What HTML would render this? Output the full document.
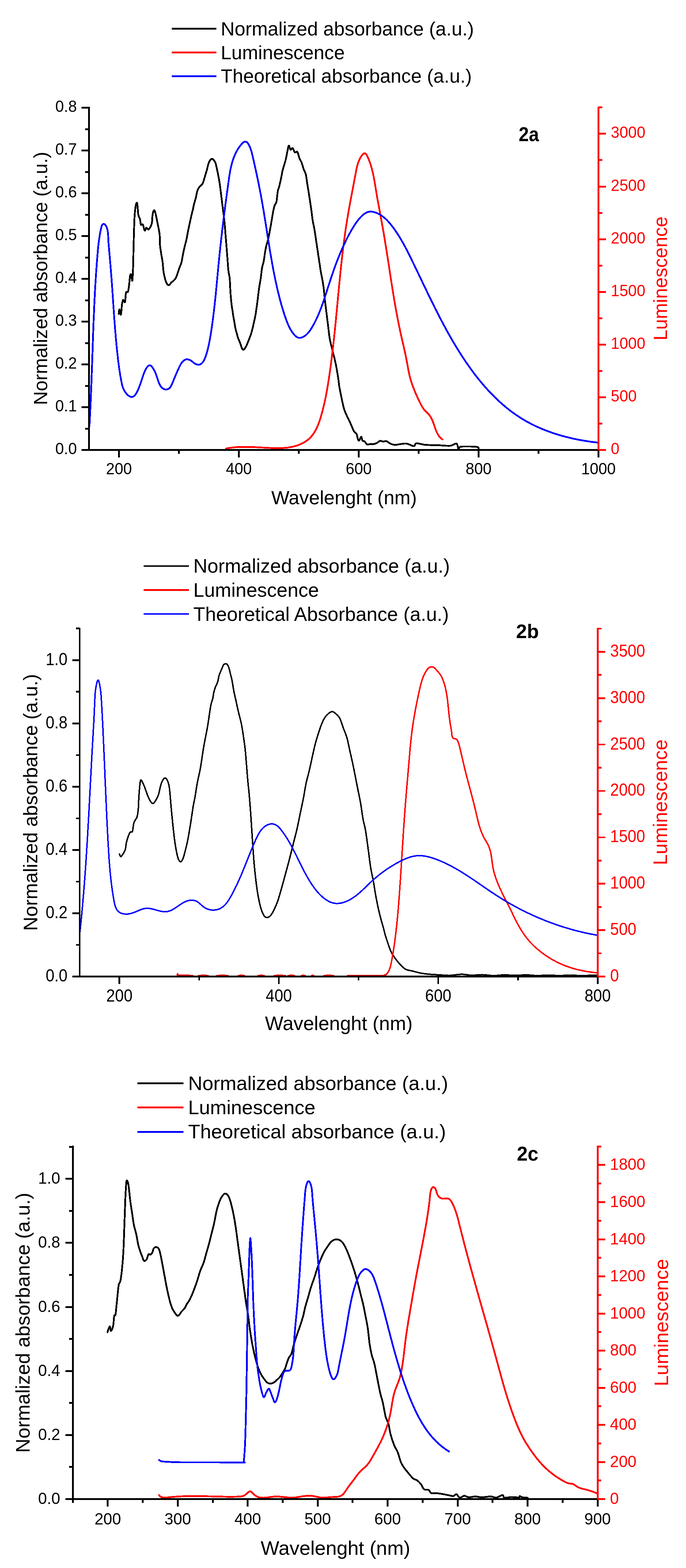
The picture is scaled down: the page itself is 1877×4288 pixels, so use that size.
<!DOCTYPE html>
<html><head><meta charset="utf-8"><title>Figure 2</title>
<style>html,body{margin:0;padding:0;background:#fff;width:1877px;height:4288px;overflow:hidden;}svg{display:block;}</style>
</head><body>
<svg width="1877" height="4288" viewBox="0 0 1877 4288" shape-rendering="crispEdges"><rect width="1877" height="4288" fill="#fff"/><path d="M324.7,858.5 C325.1,856.5 325.8,846.1 326.8,846.4 C327.8,846.7 329.6,862.9 330.8,860.5 C332.0,858.1 332.8,838.9 333.8,832.2 C334.8,825.5 335.5,821.1 336.9,820.1 C338.2,819.1 340.6,829.6 341.9,826.2 C343.2,822.8 343.5,804.6 344.9,799.9 C346.2,795.2 348.6,800.9 350.0,797.9 C351.4,794.9 352.0,789.2 353.0,781.8 C354.0,774.4 355.0,758.5 356.0,753.5 C357.0,748.5 358.0,749.1 359.0,751.5 C360.0,753.9 361.2,771.0 362.1,767.6 C363.0,764.2 363.6,744.1 364.1,731.3 C364.6,718.5 364.8,704.3 365.1,690.9 C365.4,677.5 365.8,661.1 366.1,650.6 C366.4,640.1 366.6,635.6 366.8,627.8 C367.1,620.0 367.3,611.1 367.6,603.8 C367.9,596.5 368.4,589.2 368.8,583.9 C369.2,578.6 369.5,575.9 370.0,571.9 C370.5,567.9 371.2,562.9 371.9,560.0 C372.6,557.1 373.6,554.4 374.3,554.4 C375.0,554.4 375.4,556.8 375.9,560.0 C376.4,563.2 376.7,569.1 377.1,573.5 C377.5,577.9 377.8,583.0 378.3,586.3 C378.8,589.6 379.6,591.5 380.3,593.5 C381.0,595.5 382.0,595.9 382.7,598.3 C383.4,600.7 383.8,605.0 384.3,607.8 C384.8,610.6 385.1,614.1 385.9,615.0 C386.7,615.9 388.2,613.4 389.1,613.4 C390.0,613.4 390.8,613.3 391.5,615.0 C392.2,616.7 392.8,621.3 393.5,623.8 C394.2,626.3 395.2,629.4 395.9,630.2 C396.6,631.0 397.2,629.8 397.9,628.6 C398.6,627.4 399.1,623.7 399.9,623.0 C400.7,622.3 401.7,623.8 402.7,624.6 C403.7,625.4 404.8,627.8 405.9,627.8 C407.0,627.8 408.1,626.1 409.1,624.6 C410.2,623.1 411.3,620.9 412.2,619.0 C413.1,617.1 413.9,615.7 414.6,613.4 C415.3,611.1 415.8,609.0 416.2,605.4 C416.6,601.8 416.6,595.9 417.0,591.9 C417.4,587.9 417.9,584.3 418.6,581.5 C419.3,578.7 420.5,575.8 421.4,575.1 C422.3,574.4 423.1,575.9 423.8,577.5 C424.5,579.1 425.2,582.3 425.8,584.7 C426.4,587.1 426.7,588.7 427.4,591.9 C428.1,595.1 429.0,599.8 429.8,603.8 C430.6,607.8 431.4,611.8 432.2,615.8 C433.0,619.8 433.8,623.1 434.6,627.8 C435.4,632.5 436.4,636.6 437.0,643.8 C437.6,650.9 437.3,663.0 437.9,670.7 C438.5,678.4 439.4,682.8 440.5,690.2 C441.6,697.7 443.5,706.5 444.7,715.4 C445.9,724.2 446.3,735.4 447.5,743.3 C448.7,751.2 450.1,757.3 451.7,762.9 C453.3,768.5 455.4,774.1 457.3,776.9 C459.2,779.7 461.0,780.4 462.9,779.7 C464.8,779.0 466.4,774.8 468.5,772.7 C470.6,770.6 473.4,769.2 475.5,767.1 C477.6,765.0 479.5,763.1 481.1,760.1 C482.7,757.1 483.7,753.5 485.3,748.9 C486.9,744.2 489.0,737.3 490.9,732.2 C492.8,727.1 494.8,724.3 496.4,718.2 C498.0,712.1 499.2,702.8 500.6,695.8 C502.0,688.8 503.2,683.3 504.8,676.3 C506.4,669.3 508.8,661.4 510.4,653.9 C512.0,646.4 513.2,638.5 514.6,631.5 C516.0,624.5 517.4,618.5 518.8,612.0 C520.2,605.5 521.6,598.5 523.0,592.4 C524.4,586.3 525.8,581.6 527.2,575.6 C528.6,569.6 530.0,561.7 531.4,556.1 C532.8,550.5 534.2,547.7 535.6,542.1 C537.0,536.5 538.2,527.6 539.8,522.5 C541.4,517.4 543.1,514.6 545.4,511.4 C547.7,508.1 551.7,506.3 553.8,503.0 C555.9,499.7 556.6,496.0 558.0,491.8 C559.4,487.6 560.7,482.5 562.1,477.8 C563.5,473.1 564.9,468.9 566.3,463.8 C567.7,458.7 569.0,451.4 570.5,447.1 C572.0,442.8 573.4,440.1 575.0,438.0 C576.6,435.9 578.5,434.4 580.3,434.5 C582.0,434.6 583.9,436.4 585.5,438.5 C587.1,440.6 588.4,441.5 590.1,447.1 C591.8,452.7 593.8,462.9 595.7,472.2 C597.6,481.5 599.7,492.3 601.3,503.0 C602.9,513.7 604.1,525.3 605.5,536.5 C606.9,547.7 608.3,558.8 609.7,570.0 C611.1,581.2 612.7,592.4 613.9,603.6 C615.1,614.8 615.8,625.9 616.7,637.1 C617.6,648.3 618.6,659.1 619.5,670.7 C620.4,682.4 621.4,695.4 622.3,707.0 C623.2,718.6 624.0,731.7 625.0,740.5 C626.0,749.3 627.6,752.7 628.4,760.0 C629.2,767.3 629.2,776.2 629.7,784.4 C630.2,792.5 630.6,800.8 631.3,808.9 C632.0,817.0 632.9,826.5 633.7,833.3 C634.5,840.1 635.4,844.1 636.2,849.6 C637.0,855.1 637.7,860.6 638.6,866.0 C639.5,871.4 640.5,876.8 641.5,882.2 C642.5,887.6 643.3,893.7 644.3,898.5 C645.3,903.3 646.5,906.7 647.6,910.8 C648.7,914.9 649.7,919.3 650.9,923.0 C652.1,926.7 653.5,929.4 654.9,932.8 C656.2,936.2 657.8,940.0 659.0,943.4 C660.2,946.8 661.1,951.0 662.3,953.2 C663.4,955.4 664.7,956.4 665.9,956.4 C667.1,956.4 668.3,954.8 669.6,953.2 C670.9,951.6 672.5,948.9 673.7,946.6 C674.9,944.3 675.9,942.1 677.0,939.3 C678.1,936.5 679.4,933.2 680.6,930.0 C681.9,926.8 683.3,923.3 684.5,920.0 C685.7,916.7 686.3,915.9 687.8,910.4 C689.3,904.9 691.7,895.6 693.6,887.1 C695.5,878.6 697.6,869.3 699.4,859.2 C701.1,849.1 702.5,838.1 704.1,826.5 C705.7,814.9 707.2,800.2 708.7,789.3 C710.2,778.4 712.0,770.6 713.4,761.3 C714.8,752.0 715.5,741.2 716.9,733.4 C718.2,725.6 720.1,721.7 721.5,714.7 C722.9,707.7 723.8,698.5 725.0,691.5 C726.2,684.5 727.1,678.6 728.5,672.8 C729.9,667.0 731.6,663.1 733.2,656.5 C734.8,649.9 736.4,641.4 737.9,633.2 C739.4,625.1 741.0,616.5 742.5,607.6 C744.0,598.7 745.7,587.4 747.2,579.6 C748.8,571.8 750.2,565.6 751.8,561.0 C753.3,556.4 755.1,557.9 756.5,551.7 C757.9,545.5 758.6,531.1 760.0,523.7 C761.4,516.3 763.1,513.6 764.6,507.4 C766.1,501.2 767.9,493.1 769.3,486.5 C770.7,479.9 771.4,473.6 772.8,467.8 C774.2,462.0 776.0,456.9 777.5,451.5 C779.0,446.1 780.6,441.8 782.1,435.2 C783.6,428.6 785.4,418.1 786.8,411.9 C788.2,405.7 788.9,398.4 790.3,398.0 C791.7,397.6 793.2,408.5 795.0,409.6 C796.8,410.8 798.9,403.7 800.8,404.9 C802.7,406.1 804.5,414.9 806.6,416.6 C808.7,418.4 811.5,412.7 813.6,415.4 C815.7,418.1 817.5,428.0 819.4,432.9 C821.3,437.8 823.2,439.4 825.2,444.5 C827.2,449.6 829.2,457.8 831.1,463.2 C833.0,468.6 835.4,471.0 836.9,477.2 C838.4,483.4 839.0,491.9 840.4,500.4 C841.8,508.9 843.6,519.8 845.0,528.4 C846.4,537.0 847.3,543.9 848.5,551.7 C849.7,559.5 850.8,566.5 852.0,575.0 C853.2,583.5 854.1,594.4 855.5,602.9 C856.9,611.4 858.8,618.4 860.2,626.2 C861.6,634.0 862.5,641.7 863.7,649.5 C864.9,657.3 866.0,665.0 867.2,672.8 C868.4,680.6 869.5,688.3 870.7,696.1 C871.9,703.9 873.0,711.6 874.2,719.4 C875.4,727.2 876.4,734.9 877.7,742.7 C879.1,750.5 880.9,758.2 882.3,766.0 C883.6,773.8 884.7,780.3 885.8,789.3 C886.9,798.3 887.6,809.0 888.9,820.0 C890.1,831.0 891.8,843.7 893.3,855.5 C894.8,867.3 896.2,879.1 897.7,890.9 C899.2,902.7 900.4,916.0 902.2,926.4 C904.0,936.8 906.6,945.6 908.4,953.0 C910.2,960.4 911.3,964.8 912.8,970.7 C914.3,976.6 915.7,981.6 917.2,988.4 C918.7,995.2 920.4,1004.1 921.7,1011.5 C923.0,1018.9 924.0,1024.8 925.2,1032.8 C926.4,1040.8 927.3,1050.5 928.8,1059.4 C930.3,1068.3 932.3,1077.4 934.1,1086.0 C935.9,1094.6 937.8,1104.3 939.4,1110.8 C941.0,1117.3 942.0,1120.3 943.8,1125.0 C945.6,1129.7 947.9,1134.7 950.0,1139.1 C952.1,1143.5 954.1,1147.1 956.2,1151.6 C958.3,1156.0 960.3,1161.1 962.4,1165.8 C964.5,1170.5 966.5,1176.4 968.7,1179.9 C970.9,1183.4 973.9,1183.5 975.7,1187.0 C977.5,1190.5 978.1,1198.2 979.3,1201.2 C980.5,1204.2 981.3,1206.0 982.8,1204.8 C984.3,1203.6 986.7,1194.1 988.2,1194.1 C989.7,1194.1 990.1,1202.6 991.7,1204.8 C993.3,1207.0 995.8,1205.6 997.9,1207.4 C1000.0,1209.2 1001.6,1214.2 1004.1,1215.4 C1006.6,1216.6 1010.0,1214.7 1013.0,1214.5 C1016.0,1214.3 1018.8,1215.0 1021.8,1214.5 C1024.8,1214.0 1027.7,1213.3 1030.7,1211.8 C1033.7,1210.3 1036.6,1206.4 1039.6,1205.7 C1042.5,1205.0 1045.5,1207.3 1048.4,1207.4 C1051.4,1207.5 1054.6,1205.9 1057.3,1206.5 C1060.0,1207.1 1062.0,1209.7 1064.4,1211.0 C1066.8,1212.3 1068.5,1213.6 1071.5,1214.5 C1074.5,1215.4 1076.0,1216.8 1082.6,1216.5 C1089.2,1216.2 1102.6,1212.4 1110.9,1213.0 C1119.2,1213.6 1127.5,1220.2 1132.2,1220.1 C1136.9,1220.0 1134.0,1212.9 1139.3,1212.3 C1144.6,1211.7 1154.0,1215.6 1164.1,1216.5 C1174.1,1217.4 1188.4,1217.2 1199.6,1217.6 C1210.8,1218.0 1223.2,1219.8 1231.5,1219.0 C1239.8,1218.2 1245.4,1211.3 1249.2,1213.0 C1253.0,1214.7 1252.7,1227.4 1254.5,1228.9 C1256.3,1230.4 1254.3,1223.1 1259.9,1221.8 C1265.5,1220.5 1280.2,1220.9 1288.2,1221.1 C1296.2,1221.3 1304.2,1221.4 1307.7,1222.9 C1311.2,1224.4 1309.2,1228.8 1309.5,1230.0" fill="none" stroke="#000" stroke-width="4.8" stroke-linejoin="round" stroke-linecap="round"/>
<path d="M618.6,1226.6 L621.1,1226.1 L623.6,1225.7 L626.0,1225.2 L628.5,1224.9 L631.0,1224.5 L633.5,1224.2 L636.0,1223.9 L638.4,1223.6 L640.9,1223.3 L643.4,1223.1 L645.9,1222.9 L648.4,1222.7 L650.9,1222.6 L653.3,1222.4 L655.8,1222.3 L658.3,1222.2 L660.8,1222.2 L663.3,1222.1 L665.8,1222.1 L668.2,1222.1 L670.7,1222.1 L673.2,1222.1 L675.7,1222.1 L678.2,1222.1 L680.7,1222.2 L683.2,1222.3 L685.7,1222.3 L688.2,1222.4 L690.7,1222.5 L693.1,1222.6 L695.6,1222.7 L698.1,1222.9 L700.6,1223.0 L703.1,1223.1 L705.6,1223.3 L708.1,1223.4 L710.6,1223.5 L713.1,1223.7 L715.6,1223.8 L718.1,1224.0 L720.6,1224.1 L723.1,1224.3 L725.6,1224.4 L728.1,1224.5 L730.6,1224.7 L733.2,1224.8 L735.7,1224.9 L738.2,1225.0 L740.7,1225.1 L743.2,1225.2 L745.7,1225.3 L748.2,1225.4 L750.8,1225.5 L753.3,1225.5 L755.8,1225.5 L758.3,1225.6 L760.8,1225.6 L763.3,1225.5 L765.9,1225.5 L768.4,1225.4 L770.9,1225.3 L773.4,1225.2 L775.9,1225.1 L778.4,1224.9 L780.9,1224.7 L783.4,1224.5 L785.9,1224.2 L788.4,1223.9 L790.8,1223.5 L793.3,1223.1 L795.8,1222.7 L798.3,1222.2 L800.7,1221.7 L803.2,1221.1 L805.6,1220.5 L808.0,1219.8 L810.4,1219.1 L812.9,1218.3 L815.3,1217.5 L817.6,1216.6 L820.0,1215.7 L822.3,1214.7 L824.6,1213.6 L826.9,1212.5 L829.1,1211.4 L831.3,1210.2 L833.5,1208.9 L835.6,1207.6 L837.7,1206.2 L839.7,1204.8 L841.6,1203.3 L843.5,1201.8 L845.4,1200.2 L847.2,1198.5 L848.9,1196.8 L850.6,1195.1 L852.2,1193.2 L853.7,1191.4 L855.2,1189.5 L856.7,1187.5 L858.1,1185.5 L859.4,1183.5 L860.7,1181.4 L862.0,1179.3 L863.2,1177.1 L864.4,1175.0 L865.5,1172.7 L866.6,1170.5 L867.7,1168.2 L868.7,1165.9 L869.7,1163.6 L870.6,1161.3 L871.5,1158.9 L872.4,1156.5 L873.3,1154.1 L874.1,1151.7 L874.9,1149.3 L875.7,1146.8 L876.5,1144.4 L877.3,1142.0 L878.0,1139.5 L878.7,1137.0 L879.4,1134.6 L880.1,1132.1 L880.8,1129.7 L881.5,1127.2 L882.1,1124.8 L882.8,1122.3 L883.4,1119.9 L884.0,1117.4 L884.6,1115.0 L885.2,1112.5 L885.8,1110.0 L886.4,1107.6 L887.0,1105.1 L887.5,1102.7 L888.1,1100.2 L888.6,1097.8 L889.1,1095.3 L889.7,1092.9 L890.2,1090.4 L890.7,1088.0 L891.2,1085.5 L891.7,1083.1 L892.1,1080.6 L892.6,1078.2 L893.1,1075.7 L893.5,1073.3 L894.0,1070.8 L894.4,1068.3 L894.9,1065.9 L895.3,1063.4 L895.7,1061.0 L896.1,1058.5 L896.5,1056.1 L896.9,1053.6 L897.4,1051.2 L897.8,1048.7 L898.1,1046.2 L898.5,1043.8 L898.9,1041.3 L899.3,1038.8 L899.7,1036.4 L900.1,1033.9 L900.4,1031.5 L900.8,1029.0 L901.2,1026.5 L901.5,1024.1 L901.9,1021.6 L902.3,1019.1 L902.6,1016.7 L903.0,1014.2 L903.3,1011.7 L903.6,1009.2 L904.0,1006.8 L904.3,1004.3 L904.7,1001.8 L905.0,999.3 L905.3,996.9 L905.7,994.4 L906.0,991.9 L906.3,989.4 L906.6,987.0 L906.9,984.5 L907.3,982.0 L907.6,979.5 L907.9,977.0 L908.2,974.6 L908.5,972.1 L908.8,969.6 L909.1,967.1 L909.4,964.6 L909.7,962.2 L910.0,959.7 L910.3,957.2 L910.6,954.7 L910.9,952.2 L911.1,949.7 L911.4,947.2 L911.7,944.8 L912.0,942.3 L912.3,939.8 L912.5,937.3 L912.8,934.8 L913.1,932.3 L913.4,929.8 L913.6,927.3 L913.9,924.8 L914.2,922.3 L914.4,919.9 L914.7,917.4 L914.9,914.9 L915.2,912.4 L915.5,909.9 L915.7,907.4 L916.0,904.9 L916.2,902.4 L916.5,899.9 L916.7,897.4 L917.0,894.9 L917.2,892.4 L917.5,889.9 L917.7,887.4 L918.0,884.9 L918.2,882.4 L918.5,879.9 L918.7,877.4 L919.0,874.9 L919.2,872.4 L919.5,870.0 L919.7,867.5 L919.9,865.0 L920.2,862.5 L920.4,860.0 L920.7,857.5 L920.9,855.0 L921.1,852.5 L921.4,850.0 L921.6,847.5 L921.8,845.0 L922.1,842.5 L922.3,840.0 L922.5,837.5 L922.8,835.0 L923.0,832.5 L923.3,830.0 L923.5,827.5 L923.7,825.0 L924.0,822.5 L924.2,820.0 L924.4,817.5 L924.7,815.0 L924.9,812.5 L925.1,810.0 L925.4,807.5 L925.6,805.0 L925.9,802.5 L926.1,800.0 L926.3,797.5 L926.6,795.0 L926.8,792.5 L927.0,790.0 L927.3,787.5 L927.5,785.0 L927.8,782.5 L928.0,780.0 L928.3,777.5 L928.5,775.0 L928.7,772.5 L929.0,770.0 L929.2,767.5 L929.5,765.0 L929.7,762.5 L930.0,760.0 L930.2,757.5 L930.5,755.0 L930.7,752.5 L931.0,750.0 L931.2,747.5 L931.5,745.0 L931.8,742.5 L932.0,740.0 L932.3,737.5 L932.5,735.0 L932.8,732.5 L933.1,730.0 L933.3,727.5 L933.6,725.1 L933.9,722.6 L934.1,720.1 L934.4,717.6 L934.7,715.1 L935.0,712.6 L935.2,710.1 L935.5,707.6 L935.8,705.1 L936.1,702.6 L936.4,700.1 L936.6,697.6 L936.9,695.2 L937.2,692.7 L937.5,690.2 L937.8,687.7 L938.1,685.2 L938.4,682.7 L938.7,680.2 L939.0,677.8 L939.3,675.3 L939.6,672.8 L940.0,670.3 L940.3,667.8 L940.6,665.3 L940.9,662.9 L941.2,660.4 L941.6,657.9 L941.9,655.4 L942.2,652.9 L942.5,650.4 L942.9,648.0 L943.2,645.5 L943.6,643.0 L943.9,640.5 L944.3,638.1 L944.6,635.6 L945.0,633.1 L945.3,630.6 L945.7,628.2 L946.0,625.7 L946.4,623.2 L946.8,620.8 L947.1,618.3 L947.5,615.8 L947.9,613.3 L948.3,610.9 L948.7,608.4 L949.1,605.9 L949.5,603.5 L949.8,601.0 L950.2,598.5 L950.7,596.1 L951.1,593.6 L951.5,591.2 L951.9,588.7 L952.3,586.2 L952.7,583.8 L953.2,581.3 L953.6,578.9 L954.0,576.4 L954.4,573.9 L954.9,571.5 L955.3,569.0 L955.8,566.6 L956.2,564.1 L956.7,561.7 L957.1,559.2 L957.6,556.7 L958.0,554.3 L958.5,551.8 L958.9,549.4 L959.4,546.9 L959.8,544.5 L960.3,542.0 L960.8,539.5 L961.2,537.1 L961.7,534.6 L962.2,532.2 L962.6,529.7 L963.1,527.2 L963.6,524.8 L964.0,522.3 L964.5,519.8 L965.0,517.4 L965.4,514.9 L965.9,512.4 L966.4,509.9 L966.9,507.5 L967.3,505.0 L967.8,502.5 L968.3,500.0 L968.7,497.6 L969.2,495.1 L969.7,492.6 L970.1,490.1 L970.6,487.6 L971.1,485.1 L971.5,482.6 L972.0,480.1 L972.5,477.7 L972.9,475.2 L973.4,472.7 L973.9,470.2 L974.3,467.7 L974.8,465.2 L975.3,462.7 L975.9,460.2 L976.4,457.8 L977.0,455.3 L977.7,452.9 L978.3,450.5 L979.0,448.1 L979.8,445.7 L980.6,443.4 L981.5,441.1 L982.4,438.8 L983.4,436.5 L984.5,434.3 L985.7,432.1 L986.9,430.0 L988.2,427.9 L989.6,425.8 L991.1,423.8 L992.7,421.9 L994.4,420.3 L996.1,419.3 L997.9,419.1 L999.6,419.6 L1001.2,420.8 L1002.6,422.6 L1003.9,424.7 L1005.0,427.0 L1006.1,429.4 L1007.2,431.8 L1008.2,434.2 L1009.2,436.6 L1010.1,439.1 L1011.0,441.5 L1011.9,443.9 L1012.7,446.3 L1013.6,448.7 L1014.3,451.2 L1015.1,453.6 L1015.8,456.0 L1016.5,458.5 L1017.2,460.9 L1017.8,463.3 L1018.5,465.8 L1019.1,468.2 L1019.6,470.6 L1020.2,473.1 L1020.8,475.5 L1021.3,478.0 L1021.8,480.4 L1022.3,482.9 L1022.8,485.3 L1023.2,487.8 L1023.7,490.2 L1024.1,492.7 L1024.6,495.2 L1025.0,497.6 L1025.4,500.1 L1025.8,502.5 L1026.3,505.0 L1026.7,507.5 L1027.1,509.9 L1027.5,512.4 L1027.9,514.8 L1028.3,517.3 L1028.7,519.8 L1029.1,522.2 L1029.5,524.7 L1029.9,527.2 L1030.3,529.6 L1030.7,532.1 L1031.2,534.5 L1031.6,537.0 L1032.0,539.5 L1032.5,541.9 L1032.9,544.4 L1033.3,546.9 L1033.8,549.3 L1034.2,551.8 L1034.7,554.2 L1035.1,556.7 L1035.5,559.2 L1036.0,561.6 L1036.4,564.1 L1036.9,566.6 L1037.4,569.0 L1037.8,571.5 L1038.3,574.0 L1038.7,576.4 L1039.2,578.9 L1039.6,581.3 L1040.1,583.8 L1040.5,586.3 L1041.0,588.7 L1041.4,591.2 L1041.9,593.7 L1042.4,596.1 L1042.8,598.6 L1043.3,601.1 L1043.7,603.5 L1044.2,606.0 L1044.6,608.5 L1045.1,610.9 L1045.5,613.4 L1046.0,615.9 L1046.4,618.4 L1046.9,620.8 L1047.3,623.3 L1047.7,625.8 L1048.2,628.2 L1048.6,630.7 L1049.0,633.2 L1049.5,635.6 L1049.9,638.1 L1050.3,640.6 L1050.7,643.1 L1051.1,645.5 L1051.6,648.0 L1052.0,650.5 L1052.4,653.0 L1052.8,655.4 L1053.2,657.9 L1053.6,660.4 L1054.0,662.9 L1054.4,665.3 L1054.8,667.8 L1055.2,670.3 L1055.6,672.8 L1056.0,675.2 L1056.4,677.7 L1056.8,680.2 L1057.2,682.7 L1057.6,685.1 L1058.0,687.6 L1058.4,690.1 L1058.8,692.6 L1059.1,695.0 L1059.5,697.5 L1059.9,700.0 L1060.3,702.5 L1060.7,704.9 L1061.1,707.4 L1061.4,709.9 L1061.8,712.4 L1062.2,714.9 L1062.6,717.3 L1063.0,719.8 L1063.3,722.3 L1063.7,724.8 L1064.1,727.2 L1064.5,729.7 L1064.9,732.2 L1065.2,734.7 L1065.6,737.2 L1066.0,739.6 L1066.4,742.1 L1066.8,744.6 L1067.1,747.1 L1067.5,749.5 L1067.9,752.0 L1068.3,754.5 L1068.7,757.0 L1069.0,759.4 L1069.4,761.9 L1069.8,764.4 L1070.2,766.9 L1070.6,769.3 L1071.0,771.8 L1071.3,774.3 L1071.7,776.8 L1072.1,779.2 L1072.5,781.7 L1072.9,784.2 L1073.3,786.7 L1073.7,789.1 L1074.1,791.6 L1074.5,794.1 L1074.9,796.6 L1075.3,799.0 L1075.7,801.5 L1076.1,804.0 L1076.5,806.4 L1076.9,808.9 L1077.3,811.4 L1077.7,813.9 L1078.1,816.3 L1078.5,818.8 L1079.0,821.3 L1079.4,823.7 L1079.8,826.2 L1080.2,828.7 L1080.6,831.1 L1081.1,833.6 L1081.5,836.1 L1081.9,838.5 L1082.4,841.0 L1082.8,843.5 L1083.3,845.9 L1083.7,848.4 L1084.1,850.9 L1084.6,853.3 L1085.0,855.8 L1085.5,858.2 L1086.0,860.7 L1086.4,863.2 L1086.9,865.6 L1087.4,868.1 L1087.8,870.5 L1088.3,873.0 L1088.8,875.5 L1089.3,877.9 L1089.8,880.4 L1090.2,882.8 L1090.7,885.3 L1091.2,887.7 L1091.7,890.2 L1092.2,892.6 L1092.8,895.1 L1093.3,897.5 L1093.8,900.0 L1094.3,902.4 L1094.8,904.9 L1095.4,907.3 L1095.9,909.8 L1096.4,912.2 L1097.0,914.7 L1097.5,917.1 L1098.1,919.6 L1098.6,922.0 L1099.2,924.5 L1099.8,926.9 L1100.3,929.3 L1100.9,931.8 L1101.4,934.2 L1102.0,936.7 L1102.6,939.1 L1103.1,941.6 L1103.7,944.0 L1104.2,946.5 L1104.8,948.9 L1105.3,951.3 L1105.9,953.8 L1106.4,956.2 L1107.0,958.7 L1107.5,961.1 L1108.1,963.6 L1108.6,966.0 L1109.1,968.5 L1109.6,970.9 L1110.2,973.4 L1110.7,975.9 L1111.2,978.3 L1111.6,980.8 L1112.1,983.2 L1112.6,985.7 L1113.1,988.2 L1113.5,990.7 L1114.0,993.1 L1114.4,995.6 L1114.9,998.1 L1115.3,1000.5 L1115.8,1003.0 L1116.2,1005.5 L1116.7,1007.9 L1117.1,1010.4 L1117.6,1012.9 L1118.1,1015.3 L1118.6,1017.8 L1119.1,1020.2 L1119.6,1022.7 L1120.2,1025.1 L1120.7,1027.5 L1121.3,1030.0 L1122.0,1032.4 L1122.6,1034.8 L1123.3,1037.2 L1124.0,1039.6 L1124.7,1041.9 L1125.5,1044.3 L1126.2,1046.7 L1127.0,1049.1 L1127.8,1051.4 L1128.7,1053.8 L1129.5,1056.1 L1130.4,1058.4 L1131.3,1060.8 L1132.2,1063.1 L1133.1,1065.4 L1134.0,1067.8 L1135.0,1070.1 L1136.0,1072.4 L1136.9,1074.7 L1137.9,1077.0 L1139.0,1079.3 L1140.0,1081.6 L1141.0,1083.9 L1142.1,1086.2 L1143.1,1088.5 L1144.2,1090.8 L1145.2,1093.1 L1146.3,1095.4 L1147.4,1097.6 L1148.5,1099.9 L1149.6,1102.2 L1150.8,1104.4 L1151.9,1106.7 L1153.1,1108.9 L1154.4,1111.0 L1155.7,1113.2 L1157.0,1115.3 L1158.4,1117.3 L1159.8,1119.3 L1161.3,1121.2 L1162.8,1123.1 L1164.5,1124.9 L1166.2,1126.6 L1167.9,1128.3 L1169.6,1129.9 L1171.4,1131.6 L1173.1,1133.2 L1174.6,1134.9 L1176.1,1136.8 L1177.4,1138.7 L1178.6,1140.7 L1179.8,1142.8 L1180.9,1144.9 L1182.0,1147.1 L1182.9,1149.3 L1183.9,1151.6 L1184.8,1154.0 L1185.6,1156.3 L1186.5,1158.7 L1187.3,1161.1 L1188.1,1163.5 L1188.9,1165.9 L1189.7,1168.3 L1190.6,1170.8 L1191.4,1173.2 L1192.3,1175.5 L1193.3,1177.9 L1194.3,1180.2 L1195.3,1182.5 L1196.4,1184.8 L1197.6,1187.0 L1198.9,1189.1 L1200.3,1191.2 L1201.7,1193.2 L1203.3,1195.1 L1205.0,1196.9 L1206.8,1198.7 L1208.8,1200.4 L1210.8,1201.9" fill="none" stroke="#f00" stroke-width="4.8" stroke-linejoin="round" stroke-linecap="round"/>
<path d="M244.7,1165.4 L244.8,1162.9 L245.0,1160.4 L245.1,1157.9 L245.2,1155.5 L245.4,1153.0 L245.5,1150.5 L245.6,1148.0 L245.8,1145.5 L245.9,1143.0 L246.0,1140.5 L246.2,1138.0 L246.3,1135.6 L246.4,1133.1 L246.6,1130.6 L246.7,1128.1 L246.8,1125.6 L246.9,1123.1 L247.0,1120.6 L247.2,1118.1 L247.3,1115.6 L247.4,1113.1 L247.5,1110.6 L247.6,1108.1 L247.7,1105.6 L247.9,1103.2 L248.0,1100.7 L248.1,1098.2 L248.2,1095.7 L248.3,1093.2 L248.4,1090.7 L248.5,1088.2 L248.6,1085.7 L248.7,1083.2 L248.8,1080.7 L248.9,1078.2 L249.0,1075.7 L249.1,1073.2 L249.2,1070.7 L249.3,1068.2 L249.4,1065.7 L249.5,1063.2 L249.6,1060.7 L249.7,1058.2 L249.8,1055.7 L249.9,1053.2 L250.0,1050.7 L250.1,1048.2 L250.2,1045.7 L250.3,1043.2 L250.4,1040.7 L250.5,1038.2 L250.6,1035.7 L250.7,1033.2 L250.7,1030.7 L250.8,1028.2 L250.9,1025.7 L251.0,1023.2 L251.1,1020.7 L251.2,1018.1 L251.3,1015.6 L251.4,1013.1 L251.5,1010.6 L251.5,1008.1 L251.6,1005.6 L251.7,1003.1 L251.8,1000.6 L251.9,998.1 L252.0,995.6 L252.1,993.1 L252.1,990.6 L252.2,988.1 L252.3,985.6 L252.4,983.1 L252.5,980.6 L252.6,978.1 L252.6,975.6 L252.7,973.1 L252.8,970.6 L252.9,968.0 L253.0,965.5 L253.1,963.0 L253.2,960.5 L253.2,958.0 L253.3,955.5 L253.4,953.0 L253.5,950.5 L253.6,948.0 L253.7,945.5 L253.8,943.0 L253.8,940.5 L253.9,938.0 L254.0,935.5 L254.1,933.0 L254.2,930.5 L254.3,928.0 L254.4,925.4 L254.5,922.9 L254.5,920.4 L254.6,917.9 L254.7,915.4 L254.8,912.9 L254.9,910.4 L255.0,907.9 L255.1,905.4 L255.2,902.9 L255.3,900.4 L255.4,897.9 L255.5,895.4 L255.6,892.9 L255.6,890.4 L255.7,887.9 L255.8,885.4 L255.9,882.9 L256.0,880.4 L256.1,877.9 L256.2,875.4 L256.3,872.9 L256.4,870.4 L256.5,867.9 L256.6,865.3 L256.7,862.8 L256.9,860.3 L257.0,857.8 L257.1,855.3 L257.2,852.8 L257.3,850.3 L257.4,847.8 L257.5,845.3 L257.6,842.8 L257.7,840.3 L257.8,837.8 L258.0,835.3 L258.1,832.8 L258.2,830.3 L258.3,827.8 L258.4,825.3 L258.5,822.9 L258.7,820.4 L258.8,817.9 L258.9,815.4 L259.0,812.9 L259.2,810.4 L259.3,807.9 L259.4,805.4 L259.6,802.9 L259.7,800.4 L259.8,797.9 L260.0,795.4 L260.1,792.9 L260.2,790.4 L260.4,787.9 L260.5,785.4 L260.7,782.9 L260.8,780.4 L261.0,778.0 L261.1,775.5 L261.3,773.0 L261.4,770.5 L261.6,768.0 L261.7,765.5 L261.9,763.0 L262.0,760.5 L262.2,758.0 L262.4,755.6 L262.5,753.1 L262.7,750.6 L262.9,748.1 L263.0,745.6 L263.2,743.1 L263.4,740.7 L263.5,738.2 L263.7,735.7 L263.9,733.2 L264.1,730.7 L264.3,728.2 L264.4,725.8 L264.6,723.3 L264.8,720.8 L265.0,718.3 L265.2,715.9 L265.4,713.4 L265.6,710.9 L265.8,708.4 L266.0,705.9 L266.2,703.5 L266.4,701.0 L266.6,698.5 L266.8,696.1 L267.0,693.6 L267.3,691.1 L267.5,688.6 L267.7,686.2 L267.9,683.7 L268.1,681.2 L268.4,678.7 L268.6,676.3 L268.9,673.8 L269.1,671.3 L269.4,668.8 L269.7,666.3 L270.0,663.8 L270.3,661.3 L270.6,658.8 L271.0,656.2 L271.3,653.7 L271.7,651.1 L272.1,648.6 L272.5,646.0 L272.9,643.4 L273.4,640.8 L273.8,638.2 L274.3,635.6 L274.8,632.9 L275.4,630.3 L275.9,627.6 L276.5,624.9 L277.2,622.2 L277.9,619.6 L278.7,617.2 L279.7,615.2 L280.8,613.6 L282.2,612.5 L283.8,612.2 L285.3,612.6 L286.9,613.7 L288.3,615.2 L289.6,617.0 L290.7,618.9 L291.7,621.0 L292.6,623.2 L293.3,625.5 L293.9,627.9 L294.4,630.3 L294.8,632.9 L295.2,635.5 L295.5,638.1 L295.7,640.8 L295.9,643.5 L296.0,646.3 L296.2,649.0 L296.3,651.7 L296.4,654.4 L296.5,657.1 L296.7,659.7 L296.8,662.3 L297.0,664.8 L297.2,667.3 L297.4,669.8 L297.5,672.3 L297.8,674.7 L298.0,677.2 L298.2,679.6 L298.4,682.0 L298.6,684.4 L298.8,686.8 L299.1,689.3 L299.3,691.7 L299.5,694.1 L299.7,696.5 L300.0,699.0 L300.2,701.4 L300.4,703.8 L300.6,706.3 L300.8,708.7 L301.0,711.2 L301.2,713.7 L301.5,716.1 L301.7,718.6 L301.9,721.1 L302.1,723.6 L302.3,726.1 L302.5,728.6 L302.7,731.1 L302.9,733.6 L303.1,736.1 L303.3,738.6 L303.5,741.1 L303.7,743.6 L303.9,746.1 L304.1,748.6 L304.3,751.1 L304.5,753.6 L304.7,756.1 L304.9,758.6 L305.1,761.1 L305.2,763.7 L305.4,766.2 L305.6,768.7 L305.8,771.2 L306.0,773.7 L306.2,776.2 L306.3,778.7 L306.5,781.2 L306.7,783.7 L306.9,786.3 L307.1,788.8 L307.2,791.3 L307.4,793.8 L307.6,796.3 L307.8,798.8 L307.9,801.3 L308.1,803.8 L308.3,806.3 L308.4,808.8 L308.6,811.3 L308.8,813.8 L308.9,816.3 L309.1,818.8 L309.3,821.3 L309.5,823.8 L309.6,826.3 L309.8,828.8 L310.0,831.3 L310.1,833.8 L310.3,836.3 L310.5,838.8 L310.7,841.3 L310.8,843.8 L311.0,846.2 L311.2,848.7 L311.3,851.2 L311.5,853.7 L311.7,856.2 L311.9,858.7 L312.0,861.2 L312.2,863.7 L312.4,866.2 L312.6,868.7 L312.8,871.2 L312.9,873.7 L313.1,876.1 L313.3,878.6 L313.5,881.1 L313.7,883.6 L313.9,886.1 L314.1,888.6 L314.3,891.1 L314.4,893.6 L314.6,896.1 L314.8,898.5 L315.0,901.0 L315.2,903.5 L315.4,906.0 L315.6,908.5 L315.9,911.0 L316.1,913.5 L316.3,916.0 L316.5,918.5 L316.7,920.9 L316.9,923.4 L317.1,925.9 L317.4,928.4 L317.6,930.9 L317.8,933.4 L318.1,935.9 L318.3,938.4 L318.5,940.9 L318.8,943.3 L319.0,945.8 L319.2,948.3 L319.5,950.8 L319.7,953.3 L320.0,955.8 L320.3,958.3 L320.5,960.8 L320.8,963.3 L321.1,965.8 L321.3,968.3 L321.6,970.8 L321.9,973.2 L322.2,975.7 L322.4,978.2 L322.7,980.7 L323.0,983.2 L323.3,985.7 L323.6,988.2 L323.9,990.7 L324.3,993.2 L324.6,995.7 L324.9,998.2 L325.2,1000.7 L325.6,1003.1 L325.9,1005.6 L326.3,1008.1 L326.6,1010.6 L327.0,1013.1 L327.4,1015.5 L327.7,1018.0 L328.1,1020.5 L328.5,1022.9 L328.9,1025.4 L329.3,1027.9 L329.8,1030.3 L330.2,1032.8 L330.6,1035.2 L331.1,1037.6 L331.5,1040.1 L332.0,1042.5 L332.5,1044.9 L333.0,1047.3 L333.5,1049.8 L334.0,1052.2 L334.7,1054.6 L335.4,1057.0 L336.1,1059.4 L337.0,1061.7 L338.0,1064.1 L339.2,1066.5 L340.5,1068.8 L341.9,1071.2 L343.5,1073.5 L345.2,1075.7 L347.0,1077.7 L348.9,1079.6 L350.8,1081.4 L352.8,1082.8 L354.8,1084.0 L356.8,1084.9 L358.8,1085.4 L360.7,1085.5 L362.6,1085.2 L364.4,1084.6 L366.1,1083.5 L367.8,1082.1 L369.4,1080.4 L370.9,1078.5 L372.4,1076.3 L373.8,1074.0 L375.1,1071.5 L376.4,1068.9 L377.6,1066.3 L378.8,1063.6 L379.9,1060.9 L380.9,1058.3 L381.8,1055.8 L382.7,1053.4 L383.6,1051.1 L384.4,1048.9 L385.2,1046.8 L385.9,1044.6 L386.6,1042.5 L387.3,1040.4 L388.0,1038.2 L388.8,1036.0 L389.5,1033.7 L390.3,1031.3 L391.1,1028.8 L391.9,1026.3 L392.8,1023.7 L393.7,1021.1 L394.7,1018.6 L395.7,1016.1 L396.8,1013.6 L398.0,1011.2 L399.3,1009.0 L400.6,1006.8 L402.0,1004.8 L403.5,1002.9 L405.1,1001.2 L406.8,999.8 L408.5,999.0 L410.3,998.9 L412.1,999.6 L413.9,1001.0 L415.6,1002.9 L417.3,1005.1 L418.8,1007.4 L420.3,1009.8 L421.6,1012.0 L422.7,1014.2 L423.8,1016.4 L424.8,1018.6 L425.7,1020.7 L426.6,1022.9 L427.4,1025.2 L428.2,1027.5 L429.0,1030.0 L429.8,1032.5 L430.7,1035.1 L431.5,1037.8 L432.4,1040.4 L433.4,1043.0 L434.3,1045.6 L435.4,1048.2 L436.5,1050.6 L437.7,1053.0 L439.0,1055.2 L440.4,1057.2 L441.9,1059.1 L443.5,1060.7 L445.2,1062.1 L447.1,1063.3 L449.0,1064.2 L451.1,1064.8 L453.1,1065.1 L455.2,1065.1 L457.3,1064.8 L459.3,1064.2 L461.3,1063.2 L463.1,1061.9 L464.9,1060.2 L466.4,1058.2 L467.9,1055.9 L469.2,1053.4 L470.5,1050.8 L471.6,1048.1 L472.7,1045.4 L473.8,1042.8 L474.8,1040.3 L475.8,1037.9 L476.7,1035.5 L477.7,1033.3 L478.6,1031.0 L479.5,1028.8 L480.4,1026.6 L481.3,1024.5 L482.2,1022.4 L483.1,1020.2 L484.0,1018.1 L485.0,1015.9 L485.9,1013.7 L486.9,1011.5 L488.0,1009.3 L489.1,1006.9 L490.2,1004.5 L491.4,1002.1 L492.6,999.7 L493.9,997.2 L495.3,994.9 L496.8,992.7 L498.4,990.6 L500.0,988.6 L501.7,986.9 L503.6,985.4 L505.5,984.3 L507.6,983.4 L509.8,982.8 L512.1,982.7 L514.5,983.0 L517.0,983.6 L519.5,984.5 L521.8,985.7 L524.0,987.2 L526.1,988.8 L528.1,990.5 L530.1,992.1 L532.2,993.7 L534.4,995.0 L536.7,996.1 L539.2,996.9 L541.7,997.2 L544.1,997.2 L546.3,996.8 L548.4,996.1 L550.3,994.9 L552.1,993.5 L553.8,991.8 L555.3,989.9 L556.7,987.8 L558.0,985.5 L559.2,983.1 L560.3,980.7 L561.3,978.2 L562.3,975.6 L563.2,973.1 L564.0,970.7 L564.8,968.2 L565.6,965.8 L566.3,963.4 L566.9,961.0 L567.6,958.6 L568.2,956.2 L568.8,953.8 L569.3,951.4 L569.9,949.0 L570.4,946.6 L571.0,944.2 L571.5,941.8 L572.0,939.4 L572.5,937.0 L573.0,934.5 L573.5,932.1 L573.9,929.7 L574.4,927.2 L574.8,924.8 L575.3,922.3 L575.7,919.9 L576.1,917.4 L576.5,914.9 L576.9,912.5 L577.3,910.0 L577.7,907.5 L578.1,905.1 L578.4,902.6 L578.8,900.1 L579.2,897.7 L579.5,895.2 L579.9,892.7 L580.2,890.2 L580.6,887.7 L580.9,885.3 L581.2,882.8 L581.6,880.3 L581.9,877.8 L582.2,875.3 L582.6,872.8 L582.9,870.4 L583.2,867.9 L583.5,865.4 L583.8,862.9 L584.1,860.4 L584.4,857.9 L584.7,855.4 L585.0,852.9 L585.3,850.5 L585.6,848.0 L585.9,845.5 L586.2,843.0 L586.4,840.5 L586.7,838.0 L587.0,835.5 L587.3,833.0 L587.5,830.5 L587.8,828.0 L588.1,825.5 L588.3,823.0 L588.6,820.5 L588.9,818.0 L589.1,815.6 L589.4,813.1 L589.6,810.6 L589.9,808.1 L590.2,805.6 L590.4,803.1 L590.7,800.6 L590.9,798.1 L591.1,795.6 L591.4,793.1 L591.6,790.6 L591.9,788.1 L592.1,785.6 L592.4,783.1 L592.6,780.6 L592.8,778.1 L593.1,775.6 L593.3,773.1 L593.6,770.6 L593.8,768.1 L594.0,765.6 L594.3,763.1 L594.5,760.6 L594.7,758.1 L595.0,755.6 L595.2,753.1 L595.4,750.6 L595.7,748.1 L595.9,745.6 L596.1,743.2 L596.4,740.7 L596.6,738.2 L596.9,735.7 L597.1,733.2 L597.3,730.7 L597.6,728.2 L597.8,725.7 L598.0,723.2 L598.3,720.7 L598.5,718.2 L598.8,715.7 L599.0,713.3 L599.2,710.8 L599.5,708.3 L599.7,705.8 L600.0,703.3 L600.2,700.8 L600.5,698.3 L600.7,695.8 L601.0,693.4 L601.2,690.9 L601.5,688.4 L601.8,685.9 L602.0,683.4 L602.3,681.0 L602.5,678.5 L602.8,676.0 L603.1,673.5 L603.3,671.0 L603.6,668.6 L603.9,666.1 L604.2,663.6 L604.4,661.1 L604.7,658.7 L605.0,656.2 L605.3,653.7 L605.5,651.2 L605.8,648.8 L606.1,646.3 L606.4,643.8 L606.7,641.3 L607.0,638.9 L607.2,636.4 L607.5,633.9 L607.8,631.4 L608.1,629.0 L608.4,626.5 L608.7,624.0 L609.0,621.5 L609.3,619.1 L609.6,616.6 L609.9,614.1 L610.2,611.7 L610.5,609.2 L610.8,606.7 L611.1,604.2 L611.4,601.8 L611.7,599.3 L612.0,596.8 L612.4,594.3 L612.7,591.9 L613.0,589.4 L613.3,586.9 L613.6,584.4 L613.9,581.9 L614.2,579.5 L614.6,577.0 L614.9,574.5 L615.2,572.0 L615.5,569.5 L615.8,567.1 L616.2,564.6 L616.5,562.1 L616.8,559.6 L617.1,557.1 L617.5,554.6 L617.8,552.2 L618.1,549.7 L618.5,547.2 L618.8,544.7 L619.1,542.2 L619.5,539.7 L619.8,537.2 L620.1,534.7 L620.5,532.2 L620.8,529.8 L621.1,527.3 L621.5,524.8 L621.8,522.3 L622.2,519.8 L622.5,517.3 L622.8,514.8 L623.2,512.3 L623.5,509.8 L623.9,507.3 L624.2,504.7 L624.6,502.2 L624.9,499.7 L625.2,497.2 L625.6,494.7 L626.0,492.2 L626.3,489.7 L626.7,487.2 L627.0,484.7 L627.4,482.2 L627.8,479.7 L628.2,477.2 L628.6,474.7 L629.0,472.2 L629.5,469.7 L629.9,467.2 L630.4,464.7 L630.9,462.3 L631.4,459.8 L632.0,457.4 L632.5,454.9 L633.1,452.5 L633.7,450.1 L634.3,447.7 L635.0,445.3 L635.7,442.9 L636.4,440.5 L637.1,438.1 L637.9,435.8 L638.7,433.4 L639.6,431.1 L640.5,428.8 L641.4,426.5 L642.4,424.2 L643.4,422.0 L644.4,419.8 L645.5,417.5 L646.6,415.3 L647.8,413.1 L649.0,411.0 L650.3,408.8 L651.6,406.7 L653.0,404.6 L654.4,402.6 L655.8,400.5 L657.4,398.5 L659.0,396.5 L660.6,394.5 L662.3,392.7 L664.0,391.0 L665.7,389.6 L667.5,388.4 L669.3,387.6 L671.0,387.3 L672.8,387.4 L674.5,388.1 L676.3,389.5 L677.9,391.4 L679.6,393.8 L681.1,396.5 L682.5,399.4 L683.9,402.4 L685.1,405.4 L686.1,408.2 L687.0,410.8 L687.8,413.4 L688.5,415.9 L689.2,418.3 L689.7,420.7 L690.3,423.0 L690.8,425.3 L691.4,427.7 L691.9,430.0 L692.5,432.4 L693.0,434.7 L693.6,437.1 L694.1,439.5 L694.6,441.8 L695.2,444.2 L695.7,446.6 L696.2,449.0 L696.8,451.4 L697.3,453.8 L697.9,456.2 L698.4,458.6 L698.9,461.0 L699.4,463.4 L700.0,465.8 L700.5,468.2 L701.0,470.7 L701.5,473.1 L702.1,475.5 L702.6,478.0 L703.1,480.4 L703.6,482.8 L704.1,485.3 L704.6,487.7 L705.2,490.2 L705.7,492.6 L706.2,495.1 L706.7,497.5 L707.2,500.0 L707.7,502.5 L708.2,504.9 L708.7,507.4 L709.1,509.9 L709.6,512.3 L710.1,514.8 L710.6,517.3 L711.1,519.7 L711.6,522.2 L712.0,524.7 L712.5,527.1 L713.0,529.6 L713.4,532.1 L713.9,534.6 L714.4,537.0 L714.8,539.5 L715.3,542.0 L715.7,544.5 L716.2,546.9 L716.6,549.4 L717.0,551.9 L717.5,554.4 L717.9,556.8 L718.3,559.3 L718.8,561.8 L719.2,564.3 L719.6,566.7 L720.0,569.2 L720.5,571.7 L720.9,574.2 L721.3,576.6 L721.7,579.1 L722.1,581.6 L722.5,584.1 L722.9,586.5 L723.3,589.0 L723.7,591.5 L724.1,594.0 L724.5,596.4 L724.9,598.9 L725.3,601.4 L725.7,603.8 L726.1,606.3 L726.5,608.8 L726.9,611.3 L727.3,613.7 L727.7,616.2 L728.1,618.7 L728.5,621.2 L728.8,623.6 L729.2,626.1 L729.6,628.6 L730.0,631.0 L730.4,633.5 L730.8,636.0 L731.2,638.5 L731.6,640.9 L731.9,643.4 L732.3,645.9 L732.7,648.3 L733.1,650.8 L733.5,653.3 L733.9,655.7 L734.3,658.2 L734.7,660.7 L735.1,663.1 L735.5,665.6 L735.9,668.1 L736.3,670.5 L736.7,673.0 L737.1,675.5 L737.5,677.9 L737.9,680.4 L738.3,682.9 L738.7,685.3 L739.1,687.8 L739.5,690.3 L739.9,692.7 L740.3,695.2 L740.7,697.6 L741.2,700.1 L741.6,702.6 L742.0,705.0 L742.4,707.5 L742.9,709.9 L743.3,712.4 L743.7,714.9 L744.2,717.3 L744.6,719.8 L745.0,722.2 L745.5,724.7 L745.9,727.1 L746.4,729.6 L746.8,732.1 L747.3,734.5 L747.8,737.0 L748.2,739.4 L748.7,741.9 L749.2,744.3 L749.7,746.8 L750.1,749.2 L750.6,751.7 L751.1,754.1 L751.6,756.6 L752.1,759.0 L752.6,761.5 L753.1,763.9 L753.6,766.4 L754.2,768.8 L754.7,771.3 L755.2,773.7 L755.8,776.2 L756.3,778.6 L756.8,781.0 L757.4,783.5 L757.9,785.9 L758.5,788.4 L759.1,790.8 L759.6,793.3 L760.2,795.7 L760.8,798.1 L761.4,800.6 L762.0,803.0 L762.6,805.5 L763.2,807.9 L763.8,810.3 L764.4,812.8 L765.1,815.2 L765.7,817.6 L766.3,820.1 L767.0,822.5 L767.6,824.9 L768.3,827.3 L769.0,829.7 L769.6,832.2 L770.3,834.6 L771.0,837.0 L771.7,839.4 L772.4,841.8 L773.1,844.2 L773.9,846.6 L774.6,849.0 L775.3,851.4 L776.1,853.8 L776.9,856.1 L777.6,858.5 L778.4,860.9 L779.2,863.2 L780.0,865.6 L780.8,867.9 L781.6,870.3 L782.4,872.6 L783.3,875.0 L784.1,877.3 L785.0,879.6 L785.9,881.9 L786.8,884.2 L787.8,886.5 L788.8,888.7 L789.8,891.0 L790.9,893.3 L792.0,895.5 L793.1,897.7 L794.4,900.0 L795.6,902.2 L797.0,904.3 L798.4,906.5 L799.8,908.7 L801.4,910.8 L803.0,912.9 L804.7,915.0 L806.4,916.9 L808.3,918.7 L810.2,920.3 L812.2,921.7 L814.3,922.8 L816.4,923.6 L818.7,924.0 L821.0,924.0 L823.3,923.7 L825.7,922.9 L828.1,922.0 L830.4,920.8 L832.6,919.5 L834.7,918.1 L836.7,916.5 L838.6,914.9 L840.4,913.2 L842.2,911.4 L843.8,909.5 L845.4,907.6 L846.9,905.6 L848.4,903.5 L849.8,901.4 L851.2,899.3 L852.5,897.2 L853.8,895.0 L855.1,892.8 L856.3,890.6 L857.6,888.4 L858.8,886.2 L860.0,884.0 L861.1,881.7 L862.3,879.5 L863.4,877.3 L864.5,875.0 L865.6,872.8 L866.7,870.5 L867.7,868.2 L868.7,865.9 L869.8,863.7 L870.8,861.4 L871.8,859.1 L872.7,856.8 L873.7,854.5 L874.6,852.2 L875.6,849.8 L876.5,847.5 L877.4,845.2 L878.3,842.9 L879.1,840.5 L880.0,838.2 L880.9,835.8 L881.7,833.5 L882.6,831.1 L883.4,828.8 L884.2,826.4 L885.0,824.1 L885.8,821.7 L886.6,819.3 L887.4,817.0 L888.2,814.6 L889.0,812.2 L889.8,809.8 L890.6,807.4 L891.3,805.1 L892.1,802.7 L892.9,800.3 L893.6,797.9 L894.4,795.5 L895.1,793.2 L895.9,790.8 L896.6,788.4 L897.4,786.0 L898.2,783.6 L898.9,781.2 L899.7,778.9 L900.4,776.5 L901.2,774.1 L902.0,771.7 L902.8,769.3 L903.5,767.0 L904.3,764.6 L905.1,762.2 L905.9,759.8 L906.7,757.5 L907.5,755.1 L908.3,752.7 L909.1,750.4 L909.9,748.0 L910.7,745.7 L911.5,743.3 L912.4,740.9 L913.2,738.6 L914.0,736.2 L914.9,733.9 L915.7,731.5 L916.6,729.2 L917.4,726.8 L918.3,724.5 L919.2,722.2 L920.1,719.8 L920.9,717.5 L921.8,715.1 L922.7,712.8 L923.6,710.5 L924.5,708.2 L925.5,705.8 L926.4,703.5 L927.3,701.2 L928.3,698.9 L929.2,696.6 L930.2,694.3 L931.1,692.0 L932.1,689.6 L933.1,687.3 L934.1,685.0 L935.1,682.8 L936.1,680.5 L937.1,678.2 L938.1,675.9 L939.2,673.6 L940.2,671.3 L941.3,669.0 L942.3,666.8 L943.4,664.5 L944.5,662.2 L945.6,660.0 L946.7,657.7 L947.8,655.5 L948.9,653.2 L950.0,651.0 L951.2,648.7 L952.3,646.5 L953.5,644.3 L954.7,642.1 L955.9,639.9 L957.1,637.7 L958.3,635.5 L959.5,633.3 L960.7,631.1 L962.0,629.0 L963.2,626.8 L964.5,624.7 L965.8,622.6 L967.1,620.4 L968.4,618.3 L969.8,616.3 L971.1,614.2 L972.5,612.1 L973.9,610.1 L975.3,608.0 L976.7,606.0 L978.2,604.0 L979.7,602.1 L981.2,600.1 L982.8,598.2 L984.4,596.3 L986.1,594.5 L987.9,592.6 L989.7,590.9 L991.6,589.1 L993.5,587.4 L995.5,585.8 L997.6,584.3 L999.8,582.9 L1001.9,581.7 L1004.2,580.7 L1006.5,579.8 L1008.9,579.2 L1011.3,578.8 L1013.7,578.6 L1016.2,578.7 L1018.7,579.0 L1021.2,579.5 L1023.7,580.1 L1026.2,580.9 L1028.6,581.7 L1030.9,582.6 L1033.2,583.6 L1035.5,584.7 L1037.7,585.8 L1039.8,587.1 L1041.9,588.3 L1044.0,589.7 L1046.0,591.1 L1048.0,592.6 L1049.9,594.1 L1051.8,595.7 L1053.7,597.3 L1055.5,599.0 L1057.3,600.7 L1059.1,602.4 L1060.8,604.2 L1062.5,606.1 L1064.2,607.9 L1065.8,609.8 L1067.5,611.7 L1069.1,613.7 L1070.6,615.7 L1072.2,617.6 L1073.7,619.6 L1075.2,621.6 L1076.7,623.7 L1078.2,625.7 L1079.7,627.7 L1081.1,629.8 L1082.5,631.8 L1083.9,633.9 L1085.3,636.0 L1086.7,638.1 L1088.1,640.2 L1089.5,642.3 L1090.8,644.4 L1092.1,646.5 L1093.4,648.6 L1094.7,650.8 L1096.0,652.9 L1097.3,655.1 L1098.6,657.2 L1099.8,659.4 L1101.1,661.6 L1102.3,663.8 L1103.5,666.0 L1104.7,668.1 L1105.9,670.3 L1107.1,672.5 L1108.3,674.7 L1109.5,677.0 L1110.7,679.2 L1111.8,681.4 L1113.0,683.6 L1114.1,685.9 L1115.3,688.1 L1116.4,690.3 L1117.6,692.6 L1118.7,694.8 L1119.8,697.0 L1120.9,699.3 L1122.0,701.5 L1123.1,703.8 L1124.2,706.0 L1125.3,708.3 L1126.4,710.5 L1127.5,712.8 L1128.6,715.1 L1129.7,717.3 L1130.8,719.6 L1131.9,721.8 L1133.0,724.1 L1134.1,726.3 L1135.2,728.6 L1136.3,730.9 L1137.4,733.1 L1138.5,735.4 L1139.5,737.6 L1140.6,739.9 L1141.7,742.1 L1142.8,744.4 L1143.9,746.7 L1144.9,748.9 L1146.0,751.2 L1147.1,753.4 L1148.2,755.7 L1149.3,757.9 L1150.3,760.2 L1151.4,762.4 L1152.5,764.7 L1153.6,767.0 L1154.7,769.2 L1155.7,771.5 L1156.8,773.7 L1157.9,776.0 L1159.0,778.2 L1160.1,780.5 L1161.1,782.7 L1162.2,785.0 L1163.3,787.2 L1164.4,789.5 L1165.5,791.7 L1166.6,794.0 L1167.6,796.2 L1168.7,798.5 L1169.8,800.7 L1170.9,803.0 L1172.0,805.2 L1173.1,807.5 L1174.2,809.7 L1175.3,812.0 L1176.4,814.2 L1177.4,816.4 L1178.5,818.7 L1179.6,820.9 L1180.7,823.2 L1181.8,825.4 L1182.9,827.6 L1184.1,829.9 L1185.2,832.1 L1186.3,834.4 L1187.4,836.6 L1188.5,838.8 L1189.6,841.1 L1190.7,843.3 L1191.8,845.5 L1193.0,847.7 L1194.1,850.0 L1195.2,852.2 L1196.3,854.4 L1197.5,856.6 L1198.6,858.9 L1199.7,861.1 L1200.9,863.3 L1202.0,865.5 L1203.2,867.7 L1204.3,869.9 L1205.5,872.1 L1206.6,874.4 L1207.8,876.6 L1208.9,878.8 L1210.1,881.0 L1211.3,883.2 L1212.4,885.4 L1213.6,887.6 L1214.8,889.8 L1216.0,892.0 L1217.2,894.2 L1218.4,896.4 L1219.6,898.6 L1220.7,900.8 L1221.9,902.9 L1223.2,905.1 L1224.4,907.3 L1225.6,909.5 L1226.8,911.7 L1228.0,913.9 L1229.2,916.0 L1230.5,918.2 L1231.7,920.4 L1232.9,922.5 L1234.2,924.7 L1235.4,926.9 L1236.7,929.0 L1237.9,931.2 L1239.2,933.4 L1240.5,935.5 L1241.7,937.7 L1243.0,939.8 L1244.3,942.0 L1245.6,944.1 L1246.9,946.3 L1248.2,948.4 L1249.5,950.5 L1250.8,952.7 L1252.1,954.8 L1253.4,957.0 L1254.8,959.1 L1256.1,961.2 L1257.4,963.3 L1258.8,965.5 L1260.1,967.6 L1261.5,969.7 L1262.8,971.8 L1264.2,973.9 L1265.6,976.0 L1267.0,978.1 L1268.3,980.2 L1269.7,982.3 L1271.1,984.4 L1272.5,986.5 L1274.0,988.6 L1275.4,990.7 L1276.8,992.8 L1278.2,994.8 L1279.7,996.9 L1281.1,999.0 L1282.5,1001.0 L1284.0,1003.1 L1285.5,1005.1 L1286.9,1007.2 L1288.4,1009.2 L1289.9,1011.3 L1291.4,1013.3 L1292.9,1015.3 L1294.4,1017.3 L1295.9,1019.4 L1297.4,1021.4 L1298.9,1023.4 L1300.4,1025.4 L1302.0,1027.4 L1303.5,1029.3 L1305.1,1031.3 L1306.6,1033.3 L1308.2,1035.3 L1309.8,1037.2 L1311.4,1039.2 L1312.9,1041.1 L1314.5,1043.1 L1316.1,1045.0 L1317.7,1046.9 L1319.4,1048.9 L1321.0,1050.8 L1322.6,1052.7 L1324.2,1054.6 L1325.9,1056.5 L1327.5,1058.4 L1329.2,1060.2 L1330.9,1062.1 L1332.5,1064.0 L1334.2,1065.8 L1335.9,1067.7 L1337.6,1069.5 L1339.3,1071.3 L1341.0,1073.1 L1342.8,1074.9 L1344.5,1076.7 L1346.2,1078.5 L1348.0,1080.3 L1349.7,1082.1 L1351.5,1083.9 L1353.3,1085.6 L1355.0,1087.4 L1356.8,1089.1 L1358.6,1090.8 L1360.4,1092.5 L1362.2,1094.2 L1364.0,1095.9 L1365.9,1097.6 L1367.7,1099.3 L1369.6,1101.0 L1371.4,1102.6 L1373.3,1104.3 L1375.1,1105.9 L1377.0,1107.5 L1378.9,1109.1 L1380.8,1110.7 L1382.7,1112.3 L1384.6,1113.9 L1386.5,1115.5 L1388.5,1117.0 L1390.4,1118.6 L1392.3,1120.1 L1394.3,1121.6 L1396.3,1123.1 L1398.2,1124.6 L1400.2,1126.1 L1402.2,1127.6 L1404.2,1129.0 L1406.2,1130.5 L1408.2,1131.9 L1410.3,1133.4 L1412.3,1134.8 L1414.4,1136.2 L1416.4,1137.5 L1418.5,1138.9 L1420.6,1140.3 L1422.6,1141.6 L1424.7,1142.9 L1426.8,1144.3 L1429.0,1145.6 L1431.1,1146.8 L1433.2,1148.1 L1435.3,1149.4 L1437.5,1150.6 L1439.7,1151.9 L1441.8,1153.1 L1444.0,1154.3 L1446.2,1155.5 L1448.4,1156.6 L1450.6,1157.8 L1452.8,1159.0 L1455.0,1160.1 L1457.3,1161.2 L1459.5,1162.3 L1461.7,1163.4 L1464.0,1164.5 L1466.3,1165.6 L1468.5,1166.6 L1470.8,1167.7 L1473.1,1168.7 L1475.4,1169.7 L1477.7,1170.7 L1480.0,1171.7 L1482.3,1172.7 L1484.6,1173.6 L1486.9,1174.6 L1489.3,1175.5 L1491.6,1176.4 L1494.0,1177.3 L1496.3,1178.2 L1498.7,1179.1 L1501.0,1180.0 L1503.4,1180.9 L1505.8,1181.7 L1508.1,1182.5 L1510.5,1183.4 L1512.9,1184.2 L1515.3,1185.0 L1517.7,1185.8 L1520.1,1186.5 L1522.5,1187.3 L1524.9,1188.0 L1527.3,1188.8 L1529.7,1189.5 L1532.1,1190.2 L1534.5,1190.9 L1537.0,1191.6 L1539.4,1192.3 L1541.8,1193.0 L1544.3,1193.6 L1546.7,1194.3 L1549.1,1194.9 L1551.6,1195.5 L1554.0,1196.1 L1556.5,1196.7 L1558.9,1197.3 L1561.4,1197.9 L1563.8,1198.5 L1566.3,1199.0 L1568.7,1199.6 L1571.2,1200.1 L1573.6,1200.6 L1576.1,1201.1 L1578.5,1201.6 L1581.0,1202.1 L1583.4,1202.6 L1585.9,1203.1 L1588.4,1203.5 L1590.8,1204.0 L1593.3,1204.4 L1595.7,1204.8 L1598.2,1205.2 L1600.6,1205.6 L1603.1,1206.0 L1605.6,1206.4 L1608.0,1206.8 L1610.5,1207.2 L1612.9,1207.5 L1615.4,1207.9 L1617.8,1208.2 L1620.3,1208.5 L1622.7,1208.8 L1625.1,1209.2 L1627.6,1209.4 L1630.0,1209.7 L1632.5,1210.0 L1634.9,1210.3" fill="none" stroke="#00f" stroke-width="4.8" stroke-linejoin="round" stroke-linecap="round"/>
<line x1="243.5" y1="292.0" x2="243.5" y2="1233.0" stroke="#000" stroke-width="5.0" stroke-linecap="butt"/>
<line x1="223.0" y1="1230.5" x2="1637.5" y2="1230.5" stroke="#000" stroke-width="5.0" stroke-linecap="butt"/>
<line x1="1637.5" y1="292.0" x2="1637.5" y2="1233.0" stroke="#f00" stroke-width="5.0" stroke-linecap="butt"/>
<line x1="223.0" y1="1230.5" x2="243.5" y2="1230.5" stroke="#000" stroke-width="5.0" stroke-linecap="butt"/>
<text transform="translate(210.3,1242.0) scale(1,1.060)" text-anchor="end" style="font-family:'Liberation Sans',Arial,sans-serif;font-size:42.5px;fill:#000">0.0</text>
<line x1="223.0" y1="1113.5" x2="243.5" y2="1113.5" stroke="#000" stroke-width="5.0" stroke-linecap="butt"/>
<text transform="translate(210.3,1125.0) scale(1,1.060)" text-anchor="end" style="font-family:'Liberation Sans',Arial,sans-serif;font-size:42.5px;fill:#000">0.1</text>
<line x1="223.0" y1="996.5" x2="243.5" y2="996.5" stroke="#000" stroke-width="5.0" stroke-linecap="butt"/>
<text transform="translate(210.3,1008.0) scale(1,1.060)" text-anchor="end" style="font-family:'Liberation Sans',Arial,sans-serif;font-size:42.5px;fill:#000">0.2</text>
<line x1="223.0" y1="879.5" x2="243.5" y2="879.5" stroke="#000" stroke-width="5.0" stroke-linecap="butt"/>
<text transform="translate(210.3,891.0) scale(1,1.060)" text-anchor="end" style="font-family:'Liberation Sans',Arial,sans-serif;font-size:42.5px;fill:#000">0.3</text>
<line x1="223.0" y1="762.5" x2="243.5" y2="762.5" stroke="#000" stroke-width="5.0" stroke-linecap="butt"/>
<text transform="translate(210.3,774.0) scale(1,1.060)" text-anchor="end" style="font-family:'Liberation Sans',Arial,sans-serif;font-size:42.5px;fill:#000">0.4</text>
<line x1="223.0" y1="645.5" x2="243.5" y2="645.5" stroke="#000" stroke-width="5.0" stroke-linecap="butt"/>
<text transform="translate(210.3,657.0) scale(1,1.060)" text-anchor="end" style="font-family:'Liberation Sans',Arial,sans-serif;font-size:42.5px;fill:#000">0.5</text>
<line x1="223.0" y1="528.6" x2="243.5" y2="528.6" stroke="#000" stroke-width="5.0" stroke-linecap="butt"/>
<text transform="translate(210.3,540.1) scale(1,1.060)" text-anchor="end" style="font-family:'Liberation Sans',Arial,sans-serif;font-size:42.5px;fill:#000">0.6</text>
<line x1="223.0" y1="411.6" x2="243.5" y2="411.6" stroke="#000" stroke-width="5.0" stroke-linecap="butt"/>
<text transform="translate(210.3,423.1) scale(1,1.060)" text-anchor="end" style="font-family:'Liberation Sans',Arial,sans-serif;font-size:42.5px;fill:#000">0.7</text>
<line x1="223.0" y1="294.6" x2="243.5" y2="294.6" stroke="#000" stroke-width="5.0" stroke-linecap="butt"/>
<text transform="translate(210.3,306.1) scale(1,1.060)" text-anchor="end" style="font-family:'Liberation Sans',Arial,sans-serif;font-size:42.5px;fill:#000">0.8</text>
<line x1="233.0" y1="1172.0" x2="243.5" y2="1172.0" stroke="#000" stroke-width="5.0" stroke-linecap="butt"/>
<line x1="233.0" y1="1055.0" x2="243.5" y2="1055.0" stroke="#000" stroke-width="5.0" stroke-linecap="butt"/>
<line x1="233.0" y1="938.0" x2="243.5" y2="938.0" stroke="#000" stroke-width="5.0" stroke-linecap="butt"/>
<line x1="233.0" y1="821.0" x2="243.5" y2="821.0" stroke="#000" stroke-width="5.0" stroke-linecap="butt"/>
<line x1="233.0" y1="704.0" x2="243.5" y2="704.0" stroke="#000" stroke-width="5.0" stroke-linecap="butt"/>
<line x1="233.0" y1="587.1" x2="243.5" y2="587.1" stroke="#000" stroke-width="5.0" stroke-linecap="butt"/>
<line x1="233.0" y1="470.1" x2="243.5" y2="470.1" stroke="#000" stroke-width="5.0" stroke-linecap="butt"/>
<line x1="233.0" y1="353.1" x2="243.5" y2="353.1" stroke="#000" stroke-width="5.0" stroke-linecap="butt"/>
<line x1="325.5" y1="1230.5" x2="325.5" y2="1251.0" stroke="#000" stroke-width="5.0" stroke-linecap="butt"/>
<text transform="translate(325.5,1296.5) scale(1,1.060)" text-anchor="middle" style="font-family:'Liberation Sans',Arial,sans-serif;font-size:42.5px;fill:#000">200</text>
<line x1="653.5" y1="1230.5" x2="653.5" y2="1251.0" stroke="#000" stroke-width="5.0" stroke-linecap="butt"/>
<text transform="translate(653.5,1296.5) scale(1,1.060)" text-anchor="middle" style="font-family:'Liberation Sans',Arial,sans-serif;font-size:42.5px;fill:#000">400</text>
<line x1="981.5" y1="1230.5" x2="981.5" y2="1251.0" stroke="#000" stroke-width="5.0" stroke-linecap="butt"/>
<text transform="translate(981.5,1296.5) scale(1,1.060)" text-anchor="middle" style="font-family:'Liberation Sans',Arial,sans-serif;font-size:42.5px;fill:#000">600</text>
<line x1="1309.5" y1="1230.5" x2="1309.5" y2="1251.0" stroke="#000" stroke-width="5.0" stroke-linecap="butt"/>
<text transform="translate(1309.5,1296.5) scale(1,1.060)" text-anchor="middle" style="font-family:'Liberation Sans',Arial,sans-serif;font-size:42.5px;fill:#000">800</text>
<line x1="1637.5" y1="1230.5" x2="1637.5" y2="1251.0" stroke="#000" stroke-width="5.0" stroke-linecap="butt"/>
<text transform="translate(1637.5,1296.5) scale(1,1.060)" text-anchor="middle" style="font-family:'Liberation Sans',Arial,sans-serif;font-size:42.5px;fill:#000">1000</text>
<line x1="489.5" y1="1230.5" x2="489.5" y2="1241.0" stroke="#000" stroke-width="5.0" stroke-linecap="butt"/>
<line x1="817.5" y1="1230.5" x2="817.5" y2="1241.0" stroke="#000" stroke-width="5.0" stroke-linecap="butt"/>
<line x1="1145.5" y1="1230.5" x2="1145.5" y2="1241.0" stroke="#000" stroke-width="5.0" stroke-linecap="butt"/>
<line x1="1473.5" y1="1230.5" x2="1473.5" y2="1241.0" stroke="#000" stroke-width="5.0" stroke-linecap="butt"/>
<line x1="1637.5" y1="1230.5" x2="1658.0" y2="1230.5" stroke="#f00" stroke-width="5.0" stroke-linecap="butt"/>
<text transform="translate(1671.3,1242.0) scale(1,1.060)" text-anchor="start" style="font-family:'Liberation Sans',Arial,sans-serif;font-size:42.5px;fill:#f00">0</text>
<line x1="1637.5" y1="1086.4" x2="1658.0" y2="1086.4" stroke="#f00" stroke-width="5.0" stroke-linecap="butt"/>
<text transform="translate(1671.3,1097.9) scale(1,1.060)" text-anchor="start" style="font-family:'Liberation Sans',Arial,sans-serif;font-size:42.5px;fill:#f00">500</text>
<line x1="1637.5" y1="942.3" x2="1658.0" y2="942.3" stroke="#f00" stroke-width="5.0" stroke-linecap="butt"/>
<text transform="translate(1671.3,953.8) scale(1,1.060)" text-anchor="start" style="font-family:'Liberation Sans',Arial,sans-serif;font-size:42.5px;fill:#f00">1000</text>
<line x1="1637.5" y1="798.2" x2="1658.0" y2="798.2" stroke="#f00" stroke-width="5.0" stroke-linecap="butt"/>
<text transform="translate(1671.3,809.7) scale(1,1.060)" text-anchor="start" style="font-family:'Liberation Sans',Arial,sans-serif;font-size:42.5px;fill:#f00">1500</text>
<line x1="1637.5" y1="654.1" x2="1658.0" y2="654.1" stroke="#f00" stroke-width="5.0" stroke-linecap="butt"/>
<text transform="translate(1671.3,665.6) scale(1,1.060)" text-anchor="start" style="font-family:'Liberation Sans',Arial,sans-serif;font-size:42.5px;fill:#f00">2000</text>
<line x1="1637.5" y1="510.0" x2="1658.0" y2="510.0" stroke="#f00" stroke-width="5.0" stroke-linecap="butt"/>
<text transform="translate(1671.3,521.5) scale(1,1.060)" text-anchor="start" style="font-family:'Liberation Sans',Arial,sans-serif;font-size:42.5px;fill:#f00">2500</text>
<line x1="1637.5" y1="365.9" x2="1658.0" y2="365.9" stroke="#f00" stroke-width="5.0" stroke-linecap="butt"/>
<text transform="translate(1671.3,377.4) scale(1,1.060)" text-anchor="start" style="font-family:'Liberation Sans',Arial,sans-serif;font-size:42.5px;fill:#f00">3000</text>
<line x1="1637.5" y1="1158.5" x2="1648.0" y2="1158.5" stroke="#f00" stroke-width="5.0" stroke-linecap="butt"/>
<line x1="1637.5" y1="1014.4" x2="1648.0" y2="1014.4" stroke="#f00" stroke-width="5.0" stroke-linecap="butt"/>
<line x1="1637.5" y1="870.2" x2="1648.0" y2="870.2" stroke="#f00" stroke-width="5.0" stroke-linecap="butt"/>
<line x1="1637.5" y1="726.1" x2="1648.0" y2="726.1" stroke="#f00" stroke-width="5.0" stroke-linecap="butt"/>
<line x1="1637.5" y1="582.0" x2="1648.0" y2="582.0" stroke="#f00" stroke-width="5.0" stroke-linecap="butt"/>
<line x1="1637.5" y1="437.9" x2="1648.0" y2="437.9" stroke="#f00" stroke-width="5.0" stroke-linecap="butt"/>
<line x1="1637.5" y1="293.8" x2="1648.0" y2="293.8" stroke="#f00" stroke-width="5.0" stroke-linecap="butt"/>
<text x="941.4" y="1378.9" text-anchor="middle" style="font-family:'Liberation Sans',Arial,sans-serif;font-size:52.6px;fill:#000">Wavelenght (nm)</text>
<text transform="translate(129.1,761.4) rotate(-90)" text-anchor="middle" style="font-family:'Liberation Sans',Arial,sans-serif;font-size:52.6px;fill:#000">Normalized absorbance (a.u.)</text>
<text transform="translate(1825.0,761.5) rotate(-90)" text-anchor="middle" style="font-family:'Liberation Sans',Arial,sans-serif;font-size:52.6px;fill:#f00">Luminescence</text>
<line x1="470.0" y1="78.5" x2="592.0" y2="78.5" stroke="#000" stroke-width="5.0" stroke-linecap="butt"/>
<text x="604.0" y="96.9" text-anchor="start" style="font-family:'Liberation Sans',Arial,sans-serif;font-size:52.6px;fill:#000">Normalized absorbance (a.u.)</text>
<line x1="470.0" y1="143.3" x2="592.0" y2="143.3" stroke="#f00" stroke-width="5.0" stroke-linecap="butt"/>
<text x="604.0" y="161.6" text-anchor="start" style="font-family:'Liberation Sans',Arial,sans-serif;font-size:52.6px;fill:#000">Luminescence</text>
<line x1="470.0" y1="208.3" x2="592.0" y2="208.3" stroke="#00f" stroke-width="5.0" stroke-linecap="butt"/>
<text x="604.0" y="226.4" text-anchor="start" style="font-family:'Liberation Sans',Arial,sans-serif;font-size:52.6px;fill:#000">Theoretical absorbance (a.u.)</text>
<text transform="translate(1419.3,386.0) scale(1,1.120)" text-anchor="start" style="font-family:'Liberation Sans',Arial,sans-serif;font-size:49.7px;font-weight:bold;fill:#000">2a</text>
<path d="M326.9,2335.5 C327.5,2336.7 328.7,2342.9 330.5,2342.6 C332.3,2342.3 335.5,2337.1 337.6,2333.8 C339.7,2330.6 341.4,2328.4 342.9,2323.1 C344.4,2317.8 344.6,2308.9 346.4,2301.8 C348.2,2294.7 351.7,2285.0 353.5,2280.6 C355.3,2276.2 355.6,2276.4 357.1,2275.2 C358.6,2274.0 360.9,2277.3 362.4,2273.5 C363.9,2269.7 364.7,2257.2 365.9,2252.2 C367.1,2247.2 368.0,2246.2 369.5,2243.3 C371.0,2240.4 373.3,2239.5 374.8,2234.5 C376.3,2229.5 377.4,2222.7 378.3,2213.2 C379.2,2203.7 379.2,2190.2 380.1,2177.7 C381.0,2165.2 382.5,2145.4 383.7,2138.2 C384.9,2131.0 385.4,2132.8 387.2,2134.6 C389.0,2136.4 392.2,2144.1 394.3,2148.8 C396.4,2153.5 397.7,2158.2 399.5,2163.0 C401.3,2167.8 402.8,2172.9 404.9,2177.7 C407.0,2182.5 409.6,2188.7 412.0,2191.9 C414.4,2195.2 416.7,2197.8 419.1,2197.2 C421.5,2196.6 423.8,2192.2 426.2,2188.4 C428.6,2184.6 430.9,2181.4 433.3,2174.2 C435.7,2167.0 438.3,2152.1 440.4,2145.2 C442.5,2138.3 443.8,2135.8 445.7,2132.8 C447.6,2129.9 449.6,2127.2 451.7,2127.5 C453.8,2127.8 456.1,2130.0 458.1,2134.6 C460.1,2139.2 461.7,2141.9 463.5,2155.0 C465.3,2168.1 467.0,2194.6 468.8,2213.2 C470.6,2231.8 472.3,2250.4 474.1,2266.4 C475.9,2282.4 477.3,2295.9 479.4,2308.9 C481.5,2321.9 484.1,2336.4 486.5,2344.4 C488.9,2352.4 491.2,2356.2 493.6,2356.8 C496.0,2357.4 498.3,2353.5 500.7,2347.9 C503.1,2342.3 505.4,2332.6 507.8,2323.1 C510.2,2313.6 512.5,2303.6 514.9,2291.2 C517.3,2278.8 519.6,2263.5 522.0,2248.7 C524.4,2233.9 527.1,2214.0 529.0,2202.6 C530.9,2191.2 531.7,2190.2 533.5,2180.0 C535.3,2169.8 537.2,2155.2 539.7,2141.7 C542.2,2128.2 545.7,2115.6 548.6,2099.1 C551.5,2082.6 554.1,2061.3 557.4,2042.4 C560.6,2023.5 564.9,2004.4 568.1,1985.7 C571.3,1967.0 574.2,1943.0 576.5,1930.5 C578.8,1918.0 580.7,1916.8 582.1,1910.6 C583.5,1904.4 583.8,1898.8 585.0,1893.6 C586.2,1888.4 588.0,1882.7 589.2,1879.4 C590.4,1876.1 590.9,1876.6 592.1,1873.8 C593.3,1871.0 595.1,1866.7 596.3,1862.4 C597.5,1858.1 597.9,1852.5 599.1,1848.2 C600.3,1844.0 602.0,1840.4 603.4,1836.9 C604.8,1833.4 606.3,1830.2 607.7,1827.0 C609.1,1823.8 610.4,1819.5 611.9,1817.5 C613.4,1815.5 615.2,1815.4 616.9,1815.3 C618.5,1815.2 620.3,1815.3 621.8,1817.0 C623.3,1818.7 624.7,1821.2 626.1,1825.5 C627.5,1829.8 629.0,1836.9 630.4,1842.6 C631.8,1848.3 633.0,1851.6 634.6,1859.6 C636.2,1867.6 638.1,1881.0 640.0,1890.8 C641.9,1900.6 643.9,1908.4 646.1,1918.3 C648.3,1928.2 650.8,1940.2 653.2,1950.2 C655.6,1960.2 658.2,1968.5 660.3,1978.6 C662.4,1988.6 663.8,1998.7 665.6,2010.5 C667.4,2022.3 669.4,2035.9 670.9,2049.5 C672.4,2063.1 673.3,2077.9 674.5,2092.1 C675.7,2106.3 676.8,2121.6 678.0,2134.6 C679.2,2147.6 680.4,2156.9 681.6,2170.0 C682.8,2183.1 683.9,2197.1 685.1,2213.2 C686.3,2229.3 687.5,2248.7 688.7,2266.4 C689.9,2284.1 691.0,2303.1 692.2,2319.6 C693.4,2336.1 694.2,2349.8 695.7,2365.7 C697.2,2381.6 699.3,2401.1 701.1,2415.3 C702.9,2429.5 704.3,2439.6 706.4,2450.8 C708.5,2462.0 710.9,2473.8 713.5,2482.7 C716.1,2491.6 719.5,2499.6 722.3,2504.0 C725.1,2508.4 727.5,2509.3 730.5,2509.3 C733.5,2509.3 737.0,2507.2 740.1,2504.0 C743.2,2500.8 745.6,2496.3 748.9,2489.8 C752.1,2483.3 756.0,2475.1 759.6,2465.0 C763.2,2454.9 766.7,2441.9 770.2,2429.5 C773.8,2417.1 777.4,2403.5 780.9,2390.5 C784.4,2377.5 788.0,2365.1 791.5,2351.5 C795.0,2337.9 798.6,2323.1 802.1,2308.9 C805.6,2294.7 809.5,2280.6 812.8,2266.4 C816.0,2252.2 818.6,2238.0 821.6,2223.8 C824.6,2209.6 827.8,2195.0 830.5,2181.3 C833.2,2167.6 834.9,2154.2 837.6,2141.7 C840.3,2129.2 843.9,2117.4 846.5,2106.2 C849.1,2095.0 850.9,2086.1 853.5,2074.3 C856.1,2062.5 859.1,2047.7 862.4,2035.3 C865.6,2022.9 869.5,2010.5 873.0,1999.9 C876.5,1989.3 880.2,1978.9 883.7,1971.5 C887.2,1964.1 890.2,1959.8 894.3,1955.5 C898.4,1951.2 904.1,1946.3 908.5,1946.0 C912.9,1945.7 917.4,1950.7 920.9,1953.8 C924.4,1956.9 926.8,1958.5 929.8,1964.4 C932.8,1970.3 935.5,1980.3 938.7,1989.2 C942.0,1998.1 946.3,2007.5 949.3,2017.6 C952.2,2027.6 953.8,2037.7 956.4,2049.5 C959.0,2061.3 962.6,2076.1 965.2,2088.5 C967.9,2100.9 969.9,2112.1 972.3,2124.0 C974.7,2135.9 977.0,2148.1 979.4,2160.0 C981.8,2171.9 984.1,2181.9 986.5,2195.5 C988.9,2209.1 991.4,2229.2 993.6,2241.6 C995.9,2254.0 997.8,2256.9 1000.0,2269.9 C1002.2,2282.9 1004.7,2302.4 1007.1,2319.6 C1009.5,2336.8 1011.8,2358.0 1014.2,2372.8 C1016.6,2387.6 1018.9,2395.2 1021.3,2408.2 C1023.7,2421.2 1026.0,2437.8 1028.4,2450.8 C1030.8,2463.8 1033.1,2475.6 1035.5,2486.2 C1037.9,2496.8 1040.2,2505.7 1042.6,2514.6 C1044.9,2523.5 1047.4,2531.5 1049.6,2539.4 C1051.8,2547.3 1052.2,2551.3 1055.6,2561.9 C1059.0,2572.5 1064.8,2591.7 1070.2,2602.9 C1075.6,2614.1 1081.5,2621.4 1087.8,2629.2 C1094.1,2637.0 1101.5,2645.3 1108.3,2649.7 C1115.1,2654.1 1121.4,2653.6 1128.7,2655.5 C1136.0,2657.4 1144.3,2659.9 1152.1,2661.4 C1159.9,2662.9 1166.7,2663.5 1175.5,2664.3 C1184.3,2665.1 1195.7,2665.6 1204.8,2666.1 C1213.9,2666.6 1220.2,2667.8 1230.0,2667.5 C1239.8,2667.2 1253.3,2664.4 1263.3,2664.3 C1273.3,2664.2 1280.5,2666.8 1290.0,2667.0 C1299.5,2667.2 1310.0,2665.3 1320.0,2665.5 C1330.0,2665.7 1340.0,2667.9 1350.0,2668.0 C1360.0,2668.1 1370.0,2666.1 1380.0,2666.0 C1390.0,2665.9 1400.0,2667.5 1410.0,2667.5 C1420.0,2667.5 1430.0,2665.9 1440.0,2666.0 C1450.0,2666.1 1460.0,2667.9 1470.0,2668.0 C1480.0,2668.1 1490.0,2666.5 1500.0,2666.5 C1510.0,2666.5 1520.0,2668.0 1530.0,2668.0 C1540.0,2668.0 1550.0,2666.5 1560.0,2666.5 C1570.0,2666.5 1578.0,2668.0 1590.0,2668.0 C1602.0,2668.0 1625.0,2666.8 1632.0,2666.5" fill="none" stroke="#000" stroke-width="4.0" stroke-linejoin="round" stroke-linecap="round"/>
<path d="M486.5,2663.0 C486.8,2663.6 481.6,2665.7 488.0,2666.5 C494.4,2667.3 518.3,2667.2 525.0,2667.8 C531.7,2668.4 525.2,2669.9 528.0,2670.3 C530.8,2670.7 539.2,2670.7 542.0,2670.3 C544.8,2669.9 540.7,2668.2 545.0,2667.8 C549.3,2667.4 563.7,2667.4 568.0,2667.8 C572.3,2668.2 567.0,2669.9 571.0,2670.3 C575.0,2670.7 588.0,2670.7 592.0,2670.3 C596.0,2669.9 590.0,2668.2 595.0,2667.8 C600.0,2667.4 617.0,2667.4 622.0,2667.8 C627.0,2668.2 620.3,2669.9 625.0,2670.3 C629.7,2670.7 645.3,2670.7 650.0,2670.3 C654.7,2669.9 650.0,2668.2 653.0,2667.8 C656.0,2667.4 665.0,2667.4 668.0,2667.8 C671.0,2668.2 665.0,2669.9 671.0,2670.3 C677.0,2670.7 698.0,2670.7 704.0,2670.3 C710.0,2669.9 704.0,2668.2 707.0,2667.8 C710.0,2667.4 719.0,2667.4 722.0,2667.8 C725.0,2668.2 720.5,2669.9 725.0,2670.3 C729.5,2670.7 744.5,2670.7 749.0,2670.3 C753.5,2669.9 747.1,2668.2 752.0,2667.8 C756.9,2667.4 773.7,2667.4 778.6,2667.8 C783.5,2668.2 780.3,2669.9 781.6,2670.3 C782.9,2670.7 785.0,2670.7 786.3,2670.3 C787.6,2669.9 786.1,2668.2 789.3,2667.8 C792.4,2667.4 802.1,2667.4 805.2,2667.8 C808.4,2668.2 805.4,2669.9 808.2,2670.3 C811.0,2670.7 819.4,2670.7 822.2,2670.3 C825.0,2669.9 823.2,2668.2 825.2,2667.8 C827.2,2667.4 832.5,2667.4 834.5,2667.8 C836.5,2668.2 834.9,2669.9 837.5,2670.3 C840.1,2670.7 847.4,2670.7 850.0,2670.3 C852.6,2669.9 851.6,2668.2 853.0,2667.8 C854.4,2667.4 857.0,2667.4 858.4,2667.8 C859.8,2668.2 857.0,2669.9 861.4,2670.3 C865.8,2670.7 880.3,2670.7 884.7,2670.3 C889.1,2669.9 883.2,2668.2 887.7,2667.8 C892.2,2667.4 907.1,2667.4 911.6,2667.8 C916.1,2668.2 908.2,2669.9 914.6,2670.3 C921.0,2670.7 943.4,2670.7 949.8,2670.3 C956.2,2669.9 946.8,2668.2 952.8,2667.8 C958.8,2667.4 980.0,2667.4 986.0,2667.8 C992.0,2668.2 988.2,2669.9 989.0,2670.3 C989.8,2670.7 990.2,2670.7 991.0,2670.3 C991.8,2669.9 984.2,2668.2 994.0,2667.8 C1003.8,2667.4 1040.3,2668.1 1050.0,2667.8 C1059.7,2667.5 1051.7,2666.3 1052.0,2666.0" fill="none" stroke="#f00" stroke-width="4.0" stroke-linejoin="round" stroke-linecap="round"/>
<path d="M1050.0,2667.4 L1051.8,2667.2 L1053.4,2667.1 L1055.2,2666.3 L1056.9,2664.9 L1058.6,2663.1 L1060.2,2661.0 L1061.6,2658.8 L1063.0,2656.6 L1064.1,2654.3 L1065.2,2652.0 L1066.2,2649.7 L1067.0,2647.3 L1067.8,2644.9 L1068.4,2642.5 L1069.1,2640.1 L1069.6,2637.7 L1070.1,2635.2 L1070.6,2632.8 L1071.1,2630.3 L1071.6,2627.8 L1072.0,2625.4 L1072.5,2622.9 L1072.9,2620.5 L1073.4,2618.0 L1073.8,2615.5 L1074.2,2613.1 L1074.6,2610.6 L1075.0,2608.1 L1075.5,2605.6 L1075.9,2603.2 L1076.2,2600.7 L1076.6,2598.2 L1077.0,2595.7 L1077.4,2593.3 L1077.8,2590.8 L1078.1,2588.3 L1078.5,2585.8 L1078.9,2583.4 L1079.2,2580.9 L1079.6,2578.4 L1079.9,2575.9 L1080.3,2573.5 L1080.6,2571.0 L1080.9,2568.5 L1081.2,2566.0 L1081.6,2563.5 L1081.9,2561.0 L1082.2,2558.6 L1082.5,2556.1 L1082.8,2553.6 L1083.1,2551.1 L1083.4,2548.6 L1083.7,2546.1 L1084.0,2543.6 L1084.2,2541.2 L1084.5,2538.7 L1084.8,2536.2 L1085.1,2533.7 L1085.3,2531.2 L1085.6,2528.7 L1085.9,2526.2 L1086.1,2523.7 L1086.4,2521.2 L1086.6,2518.7 L1086.9,2516.3 L1087.1,2513.8 L1087.3,2511.3 L1087.6,2508.8 L1087.8,2506.3 L1088.0,2503.8 L1088.3,2501.3 L1088.5,2498.8 L1088.7,2496.3 L1088.9,2493.8 L1089.2,2491.3 L1089.4,2488.8 L1089.6,2486.3 L1089.8,2483.8 L1090.0,2481.3 L1090.2,2478.8 L1090.4,2476.3 L1090.6,2473.8 L1090.8,2471.3 L1091.0,2468.8 L1091.2,2466.3 L1091.4,2463.8 L1091.6,2461.3 L1091.8,2458.8 L1092.0,2456.3 L1092.1,2453.8 L1092.3,2451.3 L1092.5,2448.8 L1092.7,2446.3 L1092.9,2443.8 L1093.0,2441.3 L1093.2,2438.8 L1093.4,2436.3 L1093.6,2433.8 L1093.8,2431.3 L1093.9,2428.8 L1094.1,2426.3 L1094.3,2423.8 L1094.4,2421.3 L1094.6,2418.8 L1094.8,2416.3 L1095.0,2413.8 L1095.1,2411.3 L1095.3,2408.8 L1095.5,2406.3 L1095.6,2403.8 L1095.8,2401.3 L1096.0,2398.8 L1096.1,2396.3 L1096.3,2393.8 L1096.4,2391.3 L1096.6,2388.8 L1096.8,2386.3 L1096.9,2383.8 L1097.1,2381.3 L1097.3,2378.8 L1097.4,2376.3 L1097.6,2373.8 L1097.7,2371.3 L1097.9,2368.8 L1098.1,2366.3 L1098.2,2363.8 L1098.4,2361.3 L1098.5,2358.8 L1098.7,2356.3 L1098.8,2353.8 L1099.0,2351.3 L1099.2,2348.8 L1099.3,2346.3 L1099.5,2343.8 L1099.6,2341.3 L1099.8,2338.8 L1099.9,2336.3 L1100.1,2333.8 L1100.3,2331.3 L1100.4,2328.8 L1100.6,2326.3 L1100.7,2323.8 L1100.9,2321.3 L1101.0,2318.8 L1101.2,2316.3 L1101.4,2313.8 L1101.5,2311.3 L1101.7,2308.8 L1101.8,2306.3 L1102.0,2303.8 L1102.2,2301.3 L1102.3,2298.8 L1102.5,2296.3 L1102.6,2293.8 L1102.8,2291.3 L1103.0,2288.8 L1103.1,2286.3 L1103.3,2283.8 L1103.4,2281.3 L1103.6,2278.8 L1103.8,2276.3 L1103.9,2273.8 L1104.1,2271.3 L1104.3,2268.8 L1104.4,2266.3 L1104.6,2263.8 L1104.8,2261.3 L1104.9,2258.8 L1105.1,2256.3 L1105.3,2253.8 L1105.5,2251.3 L1105.6,2248.8 L1105.8,2246.3 L1106.0,2243.8 L1106.1,2241.3 L1106.3,2238.8 L1106.5,2236.4 L1106.7,2233.9 L1106.9,2231.4 L1107.0,2228.9 L1107.2,2226.4 L1107.4,2223.9 L1107.6,2221.4 L1107.8,2218.9 L1107.9,2216.4 L1108.1,2213.9 L1108.3,2211.4 L1108.5,2208.9 L1108.7,2206.4 L1108.9,2203.9 L1109.1,2201.4 L1109.3,2198.9 L1109.5,2196.4 L1109.7,2193.9 L1109.9,2191.4 L1110.1,2188.9 L1110.3,2186.5 L1110.5,2184.0 L1110.7,2181.5 L1110.9,2179.0 L1111.1,2176.5 L1111.3,2174.0 L1111.5,2171.5 L1111.7,2169.0 L1111.9,2166.5 L1112.1,2164.0 L1112.3,2161.5 L1112.5,2159.0 L1112.8,2156.5 L1113.0,2154.1 L1113.2,2151.6 L1113.4,2149.1 L1113.6,2146.6 L1113.8,2144.1 L1114.0,2141.6 L1114.3,2139.1 L1114.5,2136.6 L1114.7,2134.1 L1114.9,2131.6 L1115.1,2129.1 L1115.3,2126.6 L1115.6,2124.1 L1115.8,2121.6 L1116.0,2119.1 L1116.2,2116.6 L1116.4,2114.1 L1116.6,2111.7 L1116.9,2109.2 L1117.1,2106.7 L1117.3,2104.2 L1117.5,2101.7 L1117.7,2099.2 L1117.9,2096.7 L1118.1,2094.2 L1118.3,2091.7 L1118.6,2089.2 L1118.8,2086.7 L1119.0,2084.2 L1119.2,2081.7 L1119.4,2079.2 L1119.6,2076.7 L1119.8,2074.2 L1120.0,2071.7 L1120.2,2069.2 L1120.4,2066.7 L1120.7,2064.1 L1120.9,2061.6 L1121.1,2059.1 L1121.3,2056.6 L1121.5,2054.1 L1121.7,2051.6 L1122.0,2049.1 L1122.2,2046.6 L1122.4,2044.1 L1122.6,2041.6 L1122.9,2039.1 L1123.1,2036.6 L1123.4,2034.1 L1123.6,2031.6 L1123.8,2029.1 L1124.1,2026.7 L1124.4,2024.2 L1124.6,2021.7 L1124.9,2019.2 L1125.2,2016.7 L1125.5,2014.2 L1125.8,2011.7 L1126.1,2009.2 L1126.4,2006.8 L1126.7,2004.3 L1127.0,2001.8 L1127.3,1999.3 L1127.6,1996.8 L1128.0,1994.4 L1128.3,1991.9 L1128.7,1989.4 L1129.0,1986.9 L1129.4,1984.5 L1129.7,1982.0 L1130.1,1979.5 L1130.5,1977.1 L1130.9,1974.6 L1131.2,1972.1 L1131.6,1969.7 L1132.0,1967.2 L1132.4,1964.8 L1132.9,1962.3 L1133.3,1959.8 L1133.7,1957.4 L1134.1,1954.9 L1134.6,1952.4 L1135.0,1950.0 L1135.4,1947.5 L1135.9,1945.1 L1136.3,1942.6 L1136.8,1940.1 L1137.3,1937.7 L1137.7,1935.2 L1138.2,1932.8 L1138.7,1930.3 L1139.1,1927.8 L1139.6,1925.4 L1140.1,1922.9 L1140.6,1920.5 L1141.1,1918.0 L1141.6,1915.5 L1142.1,1913.1 L1142.6,1910.6 L1143.1,1908.2 L1143.7,1905.7 L1144.2,1903.2 L1144.7,1900.8 L1145.2,1898.3 L1145.8,1895.8 L1146.3,1893.4 L1146.9,1890.9 L1147.4,1888.4 L1147.9,1885.9 L1148.5,1883.5 L1149.1,1881.0 L1149.6,1878.5 L1150.2,1876.1 L1150.9,1873.6 L1151.5,1871.2 L1152.1,1868.8 L1152.8,1866.3 L1153.5,1863.9 L1154.3,1861.6 L1155.0,1859.2 L1155.8,1856.8 L1156.7,1854.5 L1157.6,1852.2 L1158.5,1849.9 L1159.5,1847.7 L1160.5,1845.4 L1161.5,1843.2 L1162.7,1841.1 L1163.8,1838.9 L1165.1,1836.8 L1166.4,1834.7 L1167.7,1832.7 L1169.1,1830.7 L1170.6,1828.8 L1172.3,1827.0 L1174.3,1825.4 L1176.7,1824.3 L1179.4,1823.6 L1182.0,1823.5 L1184.5,1824.0 L1186.7,1825.0 L1188.7,1826.5 L1190.5,1828.2 L1192.2,1830.2 L1194.0,1832.1 L1195.7,1834.0 L1197.4,1835.9 L1199.0,1837.8 L1200.7,1839.6 L1202.2,1841.6 L1203.7,1843.5 L1205.1,1845.6 L1206.4,1847.7 L1207.6,1849.9 L1208.8,1852.1 L1209.9,1854.4 L1210.9,1856.7 L1211.8,1859.1 L1212.7,1861.5 L1213.6,1863.8 L1214.4,1866.2 L1215.2,1868.6 L1215.9,1871.0 L1216.7,1873.4 L1217.3,1875.8 L1218.0,1878.2 L1218.6,1880.6 L1219.1,1883.1 L1219.7,1885.5 L1220.2,1887.9 L1220.7,1890.4 L1221.2,1892.8 L1221.6,1895.3 L1222.0,1897.7 L1222.4,1900.2 L1222.8,1902.7 L1223.2,1905.1 L1223.5,1907.6 L1223.9,1910.1 L1224.2,1912.6 L1224.5,1915.1 L1224.8,1917.6 L1225.1,1920.1 L1225.3,1922.6 L1225.6,1925.1 L1225.9,1927.6 L1226.1,1930.1 L1226.4,1932.6 L1226.7,1935.1 L1226.9,1937.6 L1227.2,1940.2 L1227.4,1942.7 L1227.7,1945.2 L1227.9,1947.7 L1228.2,1950.2 L1228.5,1952.7 L1228.7,1955.2 L1229.0,1957.7 L1229.3,1960.2 L1229.6,1962.7 L1229.9,1965.1 L1230.2,1967.6 L1230.6,1970.1 L1230.9,1972.5 L1231.3,1974.9 L1231.6,1977.4 L1232.0,1979.8 L1232.4,1982.2 L1232.9,1984.5 L1233.3,1986.9 L1233.7,1989.3 L1234.2,1991.8 L1234.6,1994.2 L1234.9,1996.8 L1235.3,1999.4 L1235.6,2002.1 L1235.8,2004.9 L1236.1,2007.8 L1236.4,2010.6 L1237.0,2013.3 L1237.8,2015.6 L1239.0,2017.5 L1240.7,2019.0 L1242.9,2019.8 L1245.5,2020.4 L1247.9,2021.1 L1249.9,2022.4 L1251.4,2024.3 L1252.5,2026.6 L1253.5,2029.0 L1254.4,2031.4 L1255.2,2033.8 L1255.9,2036.2 L1256.6,2038.6 L1257.3,2041.0 L1257.9,2043.4 L1258.5,2045.9 L1259.0,2048.3 L1259.6,2050.7 L1260.2,2053.1 L1260.7,2055.5 L1261.3,2058.0 L1261.9,2060.4 L1262.4,2062.9 L1263.0,2065.3 L1263.6,2067.7 L1264.1,2070.2 L1264.7,2072.6 L1265.3,2075.1 L1265.8,2077.5 L1266.4,2080.0 L1267.0,2082.4 L1267.5,2084.9 L1268.1,2087.3 L1268.7,2089.8 L1269.3,2092.2 L1269.8,2094.7 L1270.4,2097.1 L1271.0,2099.6 L1271.6,2102.0 L1272.2,2104.4 L1272.8,2106.9 L1273.4,2109.3 L1274.0,2111.7 L1274.6,2114.2 L1275.2,2116.6 L1275.9,2119.0 L1276.5,2121.5 L1277.1,2123.9 L1277.7,2126.3 L1278.4,2128.7 L1279.0,2131.1 L1279.7,2133.6 L1280.3,2136.0 L1280.9,2138.4 L1281.6,2140.8 L1282.2,2143.2 L1282.9,2145.6 L1283.5,2148.0 L1284.2,2150.4 L1284.8,2152.9 L1285.5,2155.3 L1286.1,2157.7 L1286.8,2160.1 L1287.4,2162.5 L1288.0,2164.9 L1288.7,2167.3 L1289.3,2169.7 L1290.0,2172.2 L1290.6,2174.6 L1291.3,2177.0 L1291.9,2179.4 L1292.5,2181.8 L1293.2,2184.2 L1293.8,2186.7 L1294.4,2189.1 L1295.0,2191.5 L1295.7,2193.9 L1296.3,2196.4 L1296.9,2198.8 L1297.5,2201.2 L1298.1,2203.7 L1298.7,2206.1 L1299.3,2208.5 L1299.9,2211.0 L1300.5,2213.4 L1301.1,2215.9 L1301.6,2218.3 L1302.2,2220.8 L1302.8,2223.3 L1303.3,2225.7 L1303.9,2228.2 L1304.4,2230.6 L1305.0,2233.1 L1305.6,2235.6 L1306.2,2238.0 L1306.8,2240.5 L1307.4,2242.9 L1308.0,2245.4 L1308.6,2247.8 L1309.2,2250.2 L1309.9,2252.6 L1310.5,2255.1 L1311.2,2257.5 L1311.9,2259.9 L1312.7,2262.2 L1313.4,2264.6 L1314.2,2267.0 L1315.0,2269.3 L1315.9,2271.7 L1316.7,2274.0 L1317.6,2276.3 L1318.6,2278.6 L1319.6,2280.8 L1320.6,2283.1 L1321.6,2285.3 L1322.7,2287.5 L1323.8,2289.7 L1325.0,2291.9 L1326.2,2294.0 L1327.5,2296.2 L1328.7,2298.3 L1330.0,2300.5 L1331.2,2302.6 L1332.4,2304.8 L1333.6,2307.0 L1334.8,2309.2 L1335.9,2311.4 L1336.9,2313.6 L1337.9,2315.9 L1338.8,2318.2 L1339.6,2320.5 L1340.4,2322.9 L1341.1,2325.3 L1341.7,2327.7 L1342.3,2330.1 L1342.8,2332.5 L1343.3,2334.9 L1343.7,2337.4 L1344.2,2339.9 L1344.5,2342.4 L1344.9,2344.8 L1345.2,2347.4 L1345.6,2349.9 L1345.9,2352.4 L1346.2,2354.9 L1346.5,2357.4 L1346.9,2359.9 L1347.2,2362.4 L1347.6,2364.9 L1347.9,2367.4 L1348.3,2369.9 L1348.8,2372.4 L1349.3,2374.9 L1349.8,2377.4 L1350.3,2379.8 L1350.9,2382.3 L1351.6,2384.7 L1352.2,2387.1 L1352.9,2389.5 L1353.6,2391.9 L1354.4,2394.3 L1355.1,2396.7 L1355.9,2399.1 L1356.7,2401.4 L1357.5,2403.8 L1358.4,2406.1 L1359.3,2408.5 L1360.2,2410.8 L1361.1,2413.1 L1362.0,2415.4 L1362.9,2417.7 L1363.9,2420.0 L1364.9,2422.3 L1365.9,2424.6 L1366.9,2426.9 L1367.9,2429.2 L1368.9,2431.4 L1370.0,2433.7 L1371.1,2435.9 L1372.1,2438.2 L1373.2,2440.4 L1374.3,2442.7 L1375.4,2444.9 L1376.5,2447.2 L1377.6,2449.4 L1378.7,2451.6 L1379.9,2453.9 L1381.0,2456.1 L1382.1,2458.3 L1383.3,2460.6 L1384.4,2462.8 L1385.6,2465.0 L1386.7,2467.2 L1387.8,2469.5 L1389.0,2471.7 L1390.1,2473.9 L1391.2,2476.2 L1392.4,2478.4 L1393.5,2480.6 L1394.6,2482.9 L1395.7,2485.1 L1396.8,2487.3 L1397.9,2489.6 L1399.0,2491.8 L1400.1,2494.1 L1401.2,2496.3 L1402.3,2498.6 L1403.3,2500.8 L1404.4,2503.1 L1405.5,2505.3 L1406.6,2507.5 L1407.7,2509.8 L1408.8,2512.0 L1410.0,2514.3 L1411.1,2516.5 L1412.2,2518.7 L1413.4,2520.9 L1414.5,2523.2 L1415.7,2525.4 L1416.9,2527.6 L1418.1,2529.8 L1419.3,2532.0 L1420.6,2534.2 L1421.8,2536.3 L1423.1,2538.5 L1424.4,2540.6 L1425.7,2542.8 L1427.0,2544.9 L1428.4,2547.0 L1429.8,2549.1 L1431.1,2551.2 L1432.5,2553.3 L1434.0,2555.4 L1435.4,2557.4 L1436.9,2559.5 L1438.4,2561.5 L1439.9,2563.5 L1441.4,2565.4 L1443.0,2567.4 L1444.6,2569.3 L1446.2,2571.2 L1447.8,2573.1 L1449.4,2575.0 L1451.1,2576.9 L1452.8,2578.7 L1454.5,2580.5 L1456.3,2582.3 L1458.0,2584.0 L1459.8,2585.8 L1461.6,2587.5 L1463.4,2589.2 L1465.3,2590.9 L1467.1,2592.6 L1469.0,2594.2 L1470.9,2595.9 L1472.8,2597.5 L1474.7,2599.1 L1476.7,2600.6 L1478.6,2602.2 L1480.6,2603.7 L1482.6,2605.3 L1484.6,2606.8 L1486.6,2608.2 L1488.6,2609.7 L1490.7,2611.1 L1492.7,2612.6 L1494.8,2614.0 L1496.9,2615.4 L1499.0,2616.7 L1501.1,2618.1 L1503.2,2619.4 L1505.3,2620.7 L1507.5,2622.0 L1509.6,2623.3 L1511.8,2624.5 L1514.0,2625.7 L1516.2,2626.9 L1518.4,2628.1 L1520.6,2629.3 L1522.8,2630.4 L1525.1,2631.6 L1527.3,2632.7 L1529.6,2633.7 L1531.8,2634.8 L1534.1,2635.8 L1536.4,2636.8 L1538.7,2637.8 L1541.0,2638.8 L1543.3,2639.7 L1545.6,2640.7 L1548.0,2641.6 L1550.3,2642.4 L1552.7,2643.3 L1555.0,2644.1 L1557.4,2644.9 L1559.8,2645.7 L1562.1,2646.5 L1564.5,2647.2 L1566.9,2648.0 L1569.3,2648.7 L1571.7,2649.3 L1574.1,2650.0 L1576.6,2650.6 L1579.0,2651.2 L1581.4,2651.8 L1583.8,2652.4 L1586.3,2653.0 L1588.7,2653.5 L1591.2,2654.0 L1593.6,2654.5 L1596.1,2655.0 L1598.5,2655.5 L1601.0,2655.9 L1603.4,2656.4 L1605.9,2656.8 L1608.4,2657.2 L1610.9,2657.5 L1613.3,2657.9 L1615.8,2658.3 L1618.3,2658.6 L1620.8,2658.9 L1623.2,2659.2 L1625.7,2659.5 L1628.2,2659.8 L1630.7,2660.0 L1633.2,2660.3" fill="none" stroke="#f00" stroke-width="4.0" stroke-linejoin="round" stroke-linecap="round"/>
<path d="M218.6,2549.0 L218.9,2546.5 L219.2,2544.0 L219.4,2541.5 L219.7,2539.0 L220.0,2536.6 L220.2,2534.1 L220.5,2531.6 L220.7,2529.1 L221.0,2526.6 L221.3,2524.1 L221.5,2521.6 L221.8,2519.1 L222.0,2516.6 L222.3,2514.2 L222.5,2511.7 L222.7,2509.2 L223.0,2506.7 L223.2,2504.2 L223.5,2501.7 L223.7,2499.2 L223.9,2496.7 L224.2,2494.2 L224.4,2491.7 L224.6,2489.2 L224.9,2486.8 L225.1,2484.3 L225.3,2481.8 L225.6,2479.3 L225.8,2476.8 L226.0,2474.3 L226.2,2471.8 L226.5,2469.3 L226.7,2466.8 L226.9,2464.3 L227.1,2461.8 L227.3,2459.3 L227.5,2456.8 L227.7,2454.3 L228.0,2451.9 L228.2,2449.4 L228.4,2446.9 L228.6,2444.4 L228.8,2441.9 L229.0,2439.4 L229.2,2436.9 L229.4,2434.4 L229.6,2431.9 L229.8,2429.4 L230.0,2426.9 L230.2,2424.4 L230.4,2421.9 L230.6,2419.4 L230.8,2416.9 L231.0,2414.4 L231.2,2411.9 L231.4,2409.4 L231.5,2406.9 L231.7,2404.4 L231.9,2401.9 L232.1,2399.4 L232.3,2396.9 L232.5,2394.4 L232.7,2392.0 L232.8,2389.5 L233.0,2387.0 L233.2,2384.5 L233.4,2382.0 L233.6,2379.5 L233.7,2377.0 L233.9,2374.5 L234.1,2372.0 L234.3,2369.5 L234.4,2367.0 L234.6,2364.5 L234.8,2362.0 L234.9,2359.5 L235.1,2357.0 L235.3,2354.5 L235.4,2352.0 L235.6,2349.5 L235.8,2347.0 L235.9,2344.5 L236.1,2342.0 L236.3,2339.5 L236.4,2337.0 L236.6,2334.5 L236.7,2332.0 L236.9,2329.5 L237.1,2327.0 L237.2,2324.5 L237.4,2322.0 L237.5,2319.5 L237.7,2317.0 L237.8,2314.5 L238.0,2312.0 L238.1,2309.5 L238.3,2307.0 L238.5,2304.5 L238.6,2302.0 L238.8,2299.5 L238.9,2297.0 L239.1,2294.5 L239.2,2292.0 L239.3,2289.5 L239.5,2287.0 L239.6,2284.5 L239.8,2282.0 L239.9,2279.5 L240.1,2277.0 L240.2,2274.5 L240.4,2272.0 L240.5,2269.5 L240.7,2267.0 L240.8,2264.5 L240.9,2262.0 L241.1,2259.5 L241.2,2257.0 L241.4,2254.5 L241.5,2252.0 L241.6,2249.5 L241.8,2247.0 L241.9,2244.5 L242.1,2242.0 L242.2,2239.5 L242.3,2237.0 L242.5,2234.5 L242.6,2232.0 L242.7,2229.5 L242.9,2227.0 L243.0,2224.5 L243.2,2222.0 L243.3,2219.5 L243.4,2217.0 L243.6,2214.5 L243.7,2212.0 L243.8,2209.5 L244.0,2207.0 L244.1,2204.5 L244.2,2202.0 L244.4,2199.5 L244.5,2197.0 L244.6,2194.5 L244.8,2192.0 L244.9,2189.5 L245.0,2187.0 L245.2,2184.5 L245.3,2182.0 L245.4,2179.5 L245.6,2177.0 L245.7,2174.5 L245.8,2172.0 L245.9,2169.5 L246.1,2167.0 L246.2,2164.5 L246.3,2162.0 L246.5,2159.5 L246.6,2157.0 L246.7,2154.5 L246.9,2152.0 L247.0,2149.5 L247.1,2147.0 L247.3,2144.5 L247.4,2142.0 L247.5,2139.5 L247.7,2137.0 L247.8,2134.5 L247.9,2132.0 L248.0,2129.5 L248.2,2127.0 L248.3,2124.5 L248.4,2122.0 L248.6,2119.5 L248.7,2117.0 L248.8,2114.5 L249.0,2112.0 L249.1,2109.5 L249.2,2107.0 L249.4,2104.5 L249.5,2102.0 L249.6,2099.5 L249.8,2097.0 L249.9,2094.5 L250.0,2092.0 L250.2,2089.5 L250.3,2087.0 L250.4,2084.5 L250.6,2082.0 L250.7,2079.5 L250.9,2077.0 L251.0,2074.5 L251.1,2072.0 L251.3,2069.5 L251.4,2067.0 L251.5,2064.5 L251.7,2062.0 L251.8,2059.5 L252.0,2057.0 L252.1,2054.5 L252.2,2052.0 L252.4,2049.5 L252.5,2047.0 L252.7,2044.6 L252.8,2042.1 L252.9,2039.6 L253.1,2037.1 L253.2,2034.6 L253.4,2032.1 L253.5,2029.6 L253.6,2027.1 L253.8,2024.6 L253.9,2022.1 L254.1,2019.6 L254.2,2017.1 L254.4,2014.6 L254.5,2012.1 L254.7,2009.6 L254.8,2007.1 L254.9,2004.6 L255.1,2002.1 L255.2,1999.6 L255.4,1997.1 L255.5,1994.6 L255.6,1992.1 L255.8,1989.6 L255.9,1987.1 L256.0,1984.7 L256.2,1982.2 L256.3,1979.7 L256.5,1977.2 L256.6,1974.7 L256.7,1972.2 L256.9,1969.7 L257.0,1967.2 L257.1,1964.6 L257.2,1962.1 L257.4,1959.6 L257.5,1957.1 L257.6,1954.6 L257.7,1952.1 L257.9,1949.6 L258.0,1947.1 L258.1,1944.6 L258.2,1942.1 L258.3,1939.6 L258.4,1937.1 L258.5,1934.6 L258.7,1932.1 L258.8,1929.6 L258.9,1927.0 L259.0,1924.5 L259.1,1922.0 L259.2,1919.5 L259.3,1917.0 L259.4,1914.5 L259.5,1911.9 L259.6,1909.4 L259.7,1906.9 L259.9,1904.3 L260.0,1901.8 L260.2,1899.2 L260.4,1896.7 L260.6,1894.1 L260.9,1891.5 L261.2,1888.9 L261.5,1886.3 L261.9,1883.6 L262.3,1881.0 L262.7,1878.3 L263.2,1875.6 L263.7,1872.9 L264.3,1870.2 L264.9,1867.7 L265.6,1865.4 L266.3,1863.3 L267.0,1861.7 L267.6,1860.7 L268.3,1860.2 L269.0,1860.4 L269.7,1861.3 L270.3,1862.7 L270.9,1864.6 L271.5,1866.8 L272.1,1869.3 L272.6,1872.0 L273.2,1874.7 L273.6,1877.4 L274.1,1880.1 L274.5,1882.7 L274.8,1885.4 L275.2,1888.0 L275.5,1890.6 L275.8,1893.2 L276.0,1895.8 L276.3,1898.3 L276.5,1900.9 L276.7,1903.4 L276.9,1905.9 L277.1,1908.4 L277.2,1910.9 L277.4,1913.4 L277.5,1916.0 L277.7,1918.4 L277.8,1920.9 L278.0,1923.4 L278.1,1925.9 L278.3,1928.4 L278.4,1930.9 L278.5,1933.4 L278.7,1935.9 L278.8,1938.4 L278.9,1940.9 L279.1,1943.4 L279.2,1945.9 L279.3,1948.4 L279.5,1950.9 L279.6,1953.4 L279.7,1955.9 L279.9,1958.4 L280.0,1960.9 L280.1,1963.4 L280.2,1965.9 L280.4,1968.4 L280.5,1970.9 L280.6,1973.4 L280.7,1975.9 L280.9,1978.4 L281.0,1980.9 L281.1,1983.4 L281.2,1985.9 L281.3,1988.4 L281.5,1990.9 L281.6,1993.4 L281.7,1995.9 L281.8,1998.4 L281.9,2000.9 L282.1,2003.4 L282.2,2005.9 L282.3,2008.4 L282.4,2010.9 L282.5,2013.4 L282.6,2015.9 L282.8,2018.4 L282.9,2020.9 L283.0,2023.4 L283.1,2025.9 L283.2,2028.4 L283.3,2031.0 L283.4,2033.5 L283.6,2036.0 L283.7,2038.5 L283.8,2041.0 L283.9,2043.5 L284.0,2046.0 L284.1,2048.5 L284.2,2051.0 L284.3,2053.5 L284.4,2056.0 L284.6,2058.5 L284.7,2061.0 L284.8,2063.5 L284.9,2066.0 L285.0,2068.5 L285.1,2071.0 L285.2,2073.5 L285.3,2076.0 L285.4,2078.5 L285.5,2081.0 L285.6,2083.5 L285.7,2086.0 L285.8,2088.5 L286.0,2091.0 L286.1,2093.5 L286.2,2096.0 L286.3,2098.5 L286.4,2101.1 L286.5,2103.6 L286.6,2106.1 L286.7,2108.6 L286.8,2111.1 L286.9,2113.6 L287.0,2116.1 L287.1,2118.6 L287.2,2121.1 L287.3,2123.6 L287.4,2126.1 L287.5,2128.6 L287.7,2131.1 L287.8,2133.6 L287.9,2136.1 L288.0,2138.6 L288.1,2141.1 L288.2,2143.6 L288.3,2146.1 L288.4,2148.6 L288.5,2151.1 L288.6,2153.6 L288.7,2156.1 L288.8,2158.6 L288.9,2161.1 L289.0,2163.6 L289.2,2166.1 L289.3,2168.6 L289.4,2171.1 L289.5,2173.6 L289.6,2176.1 L289.7,2178.6 L289.8,2181.1 L289.9,2183.6 L290.0,2186.1 L290.1,2188.6 L290.2,2191.1 L290.4,2193.6 L290.5,2196.1 L290.6,2198.6 L290.7,2201.1 L290.8,2203.6 L290.9,2206.1 L291.0,2208.6 L291.1,2211.1 L291.3,2213.6 L291.4,2216.1 L291.5,2218.6 L291.6,2221.1 L291.7,2223.6 L291.8,2226.1 L291.9,2228.6 L292.1,2231.1 L292.2,2233.6 L292.3,2236.1 L292.4,2238.6 L292.5,2241.1 L292.7,2243.6 L292.8,2246.1 L292.9,2248.6 L293.0,2251.1 L293.1,2253.6 L293.3,2256.1 L293.4,2258.6 L293.5,2261.1 L293.6,2263.6 L293.8,2266.1 L293.9,2268.6 L294.0,2271.1 L294.1,2273.6 L294.3,2276.1 L294.4,2278.6 L294.5,2281.1 L294.7,2283.5 L294.8,2286.0 L294.9,2288.5 L295.0,2291.0 L295.2,2293.5 L295.3,2296.0 L295.4,2298.5 L295.6,2301.0 L295.7,2303.5 L295.9,2306.0 L296.0,2308.5 L296.1,2311.0 L296.3,2313.4 L296.4,2315.9 L296.6,2318.4 L296.7,2320.9 L296.9,2323.4 L297.0,2325.9 L297.2,2328.4 L297.3,2330.9 L297.5,2333.4 L297.6,2335.8 L297.8,2338.3 L297.9,2340.8 L298.1,2343.3 L298.3,2345.8 L298.4,2348.3 L298.6,2350.8 L298.8,2353.3 L299.0,2355.8 L299.2,2358.3 L299.4,2360.8 L299.6,2363.2 L299.8,2365.7 L300.0,2368.2 L300.2,2370.7 L300.4,2373.2 L300.6,2375.7 L300.8,2378.2 L301.0,2380.7 L301.3,2383.2 L301.5,2385.7 L301.7,2388.2 L302.0,2390.7 L302.2,2393.2 L302.5,2395.7 L302.7,2398.2 L303.0,2400.7 L303.3,2403.2 L303.6,2405.7 L303.8,2408.2 L304.1,2410.7 L304.4,2413.2 L304.7,2415.7 L305.1,2418.2 L305.4,2420.7 L305.7,2423.3 L306.0,2425.8 L306.4,2428.3 L306.7,2430.8 L307.1,2433.3 L307.4,2435.8 L307.8,2438.3 L308.2,2440.9 L308.6,2443.4 L309.0,2445.9 L309.4,2448.4 L309.8,2450.9 L310.2,2453.5 L310.6,2456.0 L311.1,2458.5 L311.5,2461.1 L312.0,2463.6 L312.4,2466.1 L312.9,2468.6 L313.5,2471.1 L314.1,2473.6 L314.7,2476.0 L315.4,2478.3 L316.2,2480.6 L317.1,2482.8 L318.1,2484.9 L319.2,2486.9 L320.5,2488.8 L321.9,2490.5 L323.4,2492.2 L325.1,2493.7 L326.9,2495.0 L329.0,2496.2 L331.2,2497.2 L333.6,2498.1 L336.2,2498.7 L338.8,2499.2 L341.5,2499.6 L344.2,2499.7 L346.9,2499.7 L349.6,2499.6 L352.2,2499.3 L354.8,2498.8 L357.3,2498.3 L359.8,2497.6 L362.3,2496.9 L364.7,2496.0 L367.1,2495.1 L369.5,2494.2 L371.8,2493.2 L374.1,2492.2 L376.5,2491.2 L378.8,2490.2 L381.1,2489.2 L383.4,2488.3 L385.7,2487.4 L388.0,2486.6 L390.3,2485.9 L392.6,2485.2 L394.9,2484.7 L397.3,2484.3 L399.7,2484.0 L402.1,2483.9 L404.5,2483.9 L407.0,2484.1 L409.5,2484.4 L412.0,2484.8 L414.5,2485.3 L417.0,2485.9 L419.6,2486.5 L422.2,2487.2 L424.7,2487.9 L427.3,2488.6 L429.8,2489.4 L432.4,2490.1 L434.9,2490.7 L437.5,2491.4 L440.0,2491.9 L442.5,2492.4 L445.0,2492.8 L447.5,2493.1 L449.9,2493.3 L452.3,2493.3 L454.7,2493.2 L457.1,2492.9 L459.4,2492.5 L461.7,2491.9 L463.9,2491.2 L466.2,2490.3 L468.4,2489.4 L470.6,2488.3 L472.8,2487.1 L474.9,2485.9 L477.1,2484.6 L479.2,2483.2 L481.4,2481.8 L483.5,2480.4 L485.6,2478.9 L487.8,2477.4 L489.9,2476.0 L492.1,2474.5 L494.2,2473.1 L496.4,2471.7 L498.6,2470.3 L500.8,2469.0 L503.0,2467.8 L505.3,2466.6 L507.5,2465.6 L509.8,2464.7 L512.2,2463.8 L514.5,2463.1 L516.9,2462.5 L519.2,2462.1 L521.6,2461.8 L524.0,2461.7 L526.3,2461.7 L528.6,2461.9 L530.9,2462.3 L533.2,2462.9 L535.4,2463.6 L537.6,2464.6 L539.8,2465.8 L541.9,2467.2 L543.9,2468.8 L545.9,2470.5 L548.0,2472.3 L550.0,2474.1 L552.0,2475.9 L554.1,2477.7 L556.2,2479.4 L558.4,2481.0 L560.6,2482.4 L562.9,2483.7 L565.2,2484.8 L567.6,2485.8 L570.0,2486.6 L572.4,2487.3 L574.9,2487.9 L577.3,2488.3 L579.8,2488.6 L582.2,2488.7 L584.7,2488.8 L587.1,2488.6 L589.5,2488.4 L591.9,2488.0 L594.2,2487.5 L596.5,2486.9 L598.8,2486.1 L601.0,2485.2 L603.1,2484.2 L605.1,2483.0 L607.1,2481.8 L609.0,2480.4 L610.9,2478.9 L612.7,2477.3 L614.5,2475.7 L616.2,2473.9 L617.8,2472.1 L619.4,2470.2 L621.0,2468.2 L622.5,2466.2 L623.9,2464.1 L625.4,2461.9 L626.8,2459.8 L628.1,2457.6 L629.5,2455.3 L630.8,2453.0 L632.1,2450.8 L633.3,2448.5 L634.6,2446.2 L635.8,2443.9 L637.0,2441.6 L638.2,2439.3 L639.4,2437.0 L640.6,2434.7 L641.7,2432.4 L642.9,2430.1 L644.0,2427.9 L645.1,2425.6 L646.2,2423.3 L647.3,2421.0 L648.4,2418.7 L649.4,2416.5 L650.5,2414.2 L651.5,2411.9 L652.6,2409.6 L653.6,2407.4 L654.6,2405.1 L655.6,2402.8 L656.6,2400.5 L657.6,2398.3 L658.6,2396.0 L659.6,2393.7 L660.5,2391.4 L661.5,2389.2 L662.4,2386.9 L663.4,2384.6 L664.3,2382.3 L665.3,2380.1 L666.2,2377.8 L667.1,2375.5 L668.1,2373.2 L669.0,2371.0 L669.9,2368.7 L670.8,2366.4 L671.7,2364.1 L672.7,2361.8 L673.6,2359.5 L674.5,2357.3 L675.4,2355.0 L676.3,2352.7 L677.2,2350.4 L678.2,2348.1 L679.1,2345.8 L680.0,2343.5 L680.9,2341.2 L681.8,2338.9 L682.8,2336.6 L683.7,2334.3 L684.6,2331.9 L685.6,2329.6 L686.5,2327.3 L687.5,2325.0 L688.4,2322.7 L689.4,2320.3 L690.4,2318.0 L691.3,2315.7 L692.3,2313.3 L693.3,2311.0 L694.3,2308.6 L695.3,2306.3 L696.4,2303.9 L697.4,2301.5 L698.4,2299.2 L699.5,2296.8 L700.5,2294.5 L701.6,2292.1 L702.7,2289.8 L703.9,2287.4 L705.0,2285.1 L706.2,2282.9 L707.5,2280.6 L708.8,2278.5 L710.1,2276.3 L711.5,2274.2 L712.9,2272.2 L714.4,2270.2 L716.0,2268.3 L717.6,2266.5 L719.3,2264.7 L721.0,2263.1 L722.9,2261.5 L724.8,2260.0 L726.8,2258.6 L728.9,2257.4 L731.1,2256.2 L733.3,2255.2 L735.7,2254.3 L738.1,2253.6 L740.5,2253.2 L743.0,2253.1 L745.5,2253.2 L748.0,2253.6 L750.4,2254.2 L752.7,2255.1 L755.0,2256.1 L757.1,2257.4 L759.1,2258.8 L761.1,2260.4 L762.9,2262.1 L764.6,2263.9 L766.3,2265.8 L767.9,2267.8 L769.5,2269.8 L771.0,2271.8 L772.5,2273.9 L774.0,2275.9 L775.5,2278.0 L777.0,2280.0 L778.4,2282.1 L779.8,2284.2 L781.2,2286.3 L782.6,2288.4 L783.9,2290.5 L785.3,2292.7 L786.6,2294.8 L787.9,2296.9 L789.2,2299.1 L790.5,2301.3 L791.7,2303.4 L793.0,2305.6 L794.2,2307.8 L795.4,2310.0 L796.7,2312.2 L797.8,2314.4 L799.0,2316.6 L800.2,2318.8 L801.4,2321.0 L802.5,2323.3 L803.7,2325.5 L804.8,2327.7 L806.0,2330.0 L807.1,2332.2 L808.2,2334.4 L809.3,2336.7 L810.5,2338.9 L811.6,2341.2 L812.7,2343.4 L813.8,2345.7 L814.9,2347.9 L816.0,2350.2 L817.1,2352.4 L818.2,2354.7 L819.3,2356.9 L820.4,2359.2 L821.5,2361.4 L822.6,2363.6 L823.7,2365.9 L824.8,2368.1 L826.0,2370.4 L827.1,2372.6 L828.2,2374.8 L829.3,2377.0 L830.5,2379.3 L831.6,2381.5 L832.8,2383.7 L833.9,2385.9 L835.1,2388.1 L836.3,2390.3 L837.5,2392.5 L838.7,2394.7 L839.9,2396.8 L841.2,2399.0 L842.4,2401.2 L843.7,2403.3 L844.9,2405.5 L846.2,2407.6 L847.5,2409.7 L848.8,2411.8 L850.2,2413.9 L851.5,2416.0 L852.9,2418.1 L854.3,2420.2 L855.7,2422.2 L857.1,2424.3 L858.6,2426.3 L860.0,2428.4 L861.5,2430.4 L863.1,2432.3 L864.6,2434.3 L866.2,2436.3 L867.8,2438.2 L869.4,2440.1 L871.1,2441.9 L872.8,2443.8 L874.5,2445.6 L876.3,2447.4 L878.1,2449.1 L880.0,2450.8 L881.9,2452.5 L883.8,2454.2 L885.8,2455.8 L887.8,2457.3 L889.9,2458.8 L892.0,2460.3 L894.2,2461.7 L896.4,2463.1 L898.6,2464.4 L900.9,2465.6 L903.2,2466.7 L905.5,2467.6 L907.9,2468.5 L910.3,2469.2 L912.7,2469.7 L915.1,2470.2 L917.5,2470.5 L920.0,2470.6 L922.4,2470.7 L924.8,2470.6 L927.3,2470.4 L929.7,2470.1 L932.2,2469.8 L934.6,2469.3 L937.0,2468.7 L939.4,2468.0 L941.8,2467.3 L944.2,2466.4 L946.5,2465.5 L948.8,2464.6 L951.1,2463.6 L953.4,2462.5 L955.6,2461.3 L957.8,2460.1 L960.0,2458.9 L962.1,2457.6 L964.2,2456.3 L966.3,2454.9 L968.4,2453.5 L970.4,2452.1 L972.4,2450.6 L974.4,2449.1 L976.4,2447.6 L978.3,2446.0 L980.3,2444.4 L982.2,2442.8 L984.1,2441.2 L986.0,2439.5 L987.8,2437.8 L989.7,2436.1 L991.6,2434.4 L993.4,2432.7 L995.2,2430.9 L997.1,2429.2 L998.9,2427.4 L1000.7,2425.7 L1002.5,2423.9 L1004.3,2422.2 L1006.1,2420.4 L1007.9,2418.6 L1009.8,2416.9 L1011.6,2415.1 L1013.4,2413.4 L1015.2,2411.7 L1017.1,2410.0 L1018.9,2408.3 L1020.8,2406.6 L1022.6,2405.0 L1024.5,2403.3 L1026.4,2401.7 L1028.3,2400.1 L1030.2,2398.5 L1032.1,2396.9 L1034.0,2395.3 L1036.0,2393.7 L1037.9,2392.2 L1039.9,2390.7 L1041.8,2389.1 L1043.8,2387.6 L1045.8,2386.1 L1047.8,2384.7 L1049.8,2383.2 L1051.8,2381.8 L1053.8,2380.3 L1055.8,2378.9 L1057.9,2377.5 L1059.9,2376.1 L1062.0,2374.7 L1064.1,2373.4 L1066.2,2372.0 L1068.3,2370.7 L1070.4,2369.4 L1072.6,2368.0 L1074.7,2366.7 L1076.9,2365.5 L1079.0,2364.2 L1081.2,2362.9 L1083.4,2361.7 L1085.6,2360.4 L1087.8,2359.2 L1090.1,2358.0 L1092.3,2356.8 L1094.6,2355.6 L1096.9,2354.5 L1099.2,2353.3 L1101.5,2352.2 L1103.8,2351.1 L1106.1,2350.0 L1108.4,2349.0 L1110.8,2348.0 L1113.1,2347.1 L1115.5,2346.2 L1117.9,2345.3 L1120.2,2344.5 L1122.6,2343.8 L1125.0,2343.1 L1127.4,2342.4 L1129.8,2341.9 L1132.3,2341.4 L1134.7,2340.9 L1137.1,2340.6 L1139.6,2340.3 L1142.0,2340.1 L1144.4,2340.0 L1146.9,2339.9 L1149.3,2340.0 L1151.8,2340.0 L1154.2,2340.2 L1156.7,2340.4 L1159.1,2340.7 L1161.6,2341.1 L1164.0,2341.5 L1166.5,2342.0 L1168.9,2342.5 L1171.4,2343.0 L1173.8,2343.6 L1176.3,2344.3 L1178.7,2345.0 L1181.1,2345.7 L1183.5,2346.5 L1185.9,2347.3 L1188.3,2348.1 L1190.7,2348.9 L1193.1,2349.8 L1195.5,2350.7 L1197.8,2351.6 L1200.2,2352.5 L1202.5,2353.5 L1204.8,2354.4 L1207.1,2355.4 L1209.4,2356.4 L1211.7,2357.4 L1214.0,2358.4 L1216.3,2359.5 L1218.6,2360.5 L1220.8,2361.6 L1223.1,2362.7 L1225.3,2363.8 L1227.6,2364.9 L1229.8,2366.1 L1232.0,2367.2 L1234.2,2368.4 L1236.4,2369.5 L1238.6,2370.7 L1240.8,2371.9 L1243.0,2373.1 L1245.2,2374.3 L1247.3,2375.6 L1249.5,2376.8 L1251.7,2378.1 L1253.8,2379.3 L1256.0,2380.6 L1258.1,2381.9 L1260.2,2383.2 L1262.4,2384.5 L1264.5,2385.8 L1266.6,2387.1 L1268.7,2388.4 L1270.8,2389.8 L1272.9,2391.1 L1275.0,2392.5 L1277.1,2393.8 L1279.2,2395.2 L1281.3,2396.5 L1283.4,2397.9 L1285.5,2399.3 L1287.6,2400.7 L1289.7,2402.1 L1291.7,2403.5 L1293.8,2404.9 L1295.9,2406.3 L1298.0,2407.7 L1300.0,2409.1 L1302.1,2410.5 L1304.2,2411.9 L1306.2,2413.3 L1308.3,2414.7 L1310.4,2416.1 L1312.4,2417.6 L1314.5,2419.0 L1316.5,2420.4 L1318.6,2421.8 L1320.7,2423.2 L1322.7,2424.7 L1324.8,2426.1 L1326.9,2427.5 L1328.9,2428.9 L1331.0,2430.3 L1333.1,2431.8 L1335.1,2433.2 L1337.2,2434.6 L1339.3,2436.0 L1341.4,2437.4 L1343.4,2438.8 L1345.5,2440.2 L1347.6,2441.6 L1349.7,2442.9 L1351.8,2444.3 L1353.9,2445.7 L1356.0,2447.1 L1358.1,2448.4 L1360.2,2449.8 L1362.3,2451.1 L1364.4,2452.5 L1366.5,2453.8 L1368.6,2455.2 L1370.8,2456.5 L1372.9,2457.8 L1375.0,2459.1 L1377.2,2460.4 L1379.3,2461.7 L1381.5,2463.0 L1383.6,2464.3 L1385.8,2465.6 L1387.9,2466.8 L1390.1,2468.1 L1392.3,2469.3 L1394.4,2470.6 L1396.6,2471.8 L1398.8,2473.1 L1401.0,2474.3 L1403.2,2475.5 L1405.4,2476.7 L1407.6,2477.9 L1409.8,2479.1 L1412.0,2480.3 L1414.2,2481.5 L1416.4,2482.7 L1418.6,2483.8 L1420.8,2485.0 L1423.0,2486.1 L1425.3,2487.3 L1427.5,2488.4 L1429.7,2489.6 L1432.0,2490.7 L1434.2,2491.8 L1436.5,2492.9 L1438.7,2494.0 L1441.0,2495.1 L1443.2,2496.2 L1445.5,2497.3 L1447.7,2498.3 L1450.0,2499.4 L1452.3,2500.5 L1454.5,2501.5 L1456.8,2502.6 L1459.1,2503.6 L1461.4,2504.6 L1463.7,2505.6 L1466.0,2506.6 L1468.2,2507.7 L1470.5,2508.6 L1472.8,2509.6 L1475.1,2510.6 L1477.4,2511.6 L1479.8,2512.6 L1482.1,2513.5 L1484.4,2514.5 L1486.7,2515.4 L1489.0,2516.3 L1491.3,2517.3 L1493.7,2518.2 L1496.0,2519.1 L1498.3,2520.0 L1500.7,2520.9 L1503.0,2521.8 L1505.4,2522.7 L1507.7,2523.5 L1510.1,2524.4 L1512.4,2525.2 L1514.8,2526.1 L1517.1,2526.9 L1519.5,2527.8 L1521.8,2528.6 L1524.2,2529.4 L1526.6,2530.2 L1528.9,2531.0 L1531.3,2531.8 L1533.7,2532.6 L1536.1,2533.4 L1538.4,2534.1 L1540.8,2534.9 L1543.2,2535.6 L1545.6,2536.4 L1548.0,2537.1 L1550.4,2537.8 L1552.8,2538.5 L1555.2,2539.2 L1557.6,2539.9 L1560.0,2540.6 L1562.4,2541.3 L1564.8,2542.0 L1567.2,2542.7 L1569.6,2543.3 L1572.1,2544.0 L1574.5,2544.6 L1576.9,2545.2 L1579.3,2545.9 L1581.7,2546.5 L1584.2,2547.1 L1586.6,2547.7 L1589.0,2548.3 L1591.5,2548.9 L1593.9,2549.4 L1596.3,2550.0 L1598.8,2550.6 L1601.2,2551.1 L1603.7,2551.6 L1606.1,2552.2 L1608.6,2552.7 L1611.0,2553.2 L1613.5,2553.7 L1615.9,2554.2 L1618.4,2554.7 L1620.8,2555.2 L1623.3,2555.6 L1625.8,2556.1 L1628.2,2556.5 L1630.7,2557.0 L1633.2,2557.4" fill="none" stroke="#00f" stroke-width="4.0" stroke-linejoin="round" stroke-linecap="round"/>
<line x1="218.0" y1="1716.5" x2="218.0" y2="2672.8" stroke="#000" stroke-width="4.6" stroke-linecap="butt"/>
<line x1="197.7" y1="2670.5" x2="1635.2" y2="2670.5" stroke="#000" stroke-width="4.6" stroke-linecap="butt"/>
<line x1="1635.2" y1="1716.5" x2="1635.2" y2="2672.8" stroke="#f00" stroke-width="4.6" stroke-linecap="butt"/>
<line x1="197.7" y1="2670.5" x2="218.0" y2="2670.5" stroke="#000" stroke-width="4.6" stroke-linecap="butt"/>
<text transform="translate(184.7,2683.9) scale(1,1.100)" text-anchor="end" style="font-family:'Liberation Sans',Arial,sans-serif;font-size:43.0px;fill:#000">0.0</text>
<line x1="197.7" y1="2497.4" x2="218.0" y2="2497.4" stroke="#000" stroke-width="4.6" stroke-linecap="butt"/>
<text transform="translate(184.7,2510.8) scale(1,1.100)" text-anchor="end" style="font-family:'Liberation Sans',Arial,sans-serif;font-size:43.0px;fill:#000">0.2</text>
<line x1="197.7" y1="2324.4" x2="218.0" y2="2324.4" stroke="#000" stroke-width="4.6" stroke-linecap="butt"/>
<text transform="translate(184.7,2337.8) scale(1,1.100)" text-anchor="end" style="font-family:'Liberation Sans',Arial,sans-serif;font-size:43.0px;fill:#000">0.4</text>
<line x1="197.7" y1="2151.3" x2="218.0" y2="2151.3" stroke="#000" stroke-width="4.6" stroke-linecap="butt"/>
<text transform="translate(184.7,2164.7) scale(1,1.100)" text-anchor="end" style="font-family:'Liberation Sans',Arial,sans-serif;font-size:43.0px;fill:#000">0.6</text>
<line x1="197.7" y1="1978.3" x2="218.0" y2="1978.3" stroke="#000" stroke-width="4.6" stroke-linecap="butt"/>
<text transform="translate(184.7,1991.7) scale(1,1.100)" text-anchor="end" style="font-family:'Liberation Sans',Arial,sans-serif;font-size:43.0px;fill:#000">0.8</text>
<line x1="197.7" y1="1805.2" x2="218.0" y2="1805.2" stroke="#000" stroke-width="4.6" stroke-linecap="butt"/>
<text transform="translate(184.7,1818.6) scale(1,1.100)" text-anchor="end" style="font-family:'Liberation Sans',Arial,sans-serif;font-size:43.0px;fill:#000">1.0</text>
<line x1="207.7" y1="2584.0" x2="218.0" y2="2584.0" stroke="#000" stroke-width="4.6" stroke-linecap="butt"/>
<line x1="207.7" y1="2410.9" x2="218.0" y2="2410.9" stroke="#000" stroke-width="4.6" stroke-linecap="butt"/>
<line x1="207.7" y1="2237.8" x2="218.0" y2="2237.8" stroke="#000" stroke-width="4.6" stroke-linecap="butt"/>
<line x1="207.7" y1="2064.8" x2="218.0" y2="2064.8" stroke="#000" stroke-width="4.6" stroke-linecap="butt"/>
<line x1="207.7" y1="1891.7" x2="218.0" y2="1891.7" stroke="#000" stroke-width="4.6" stroke-linecap="butt"/>
<line x1="207.7" y1="1718.7" x2="218.0" y2="1718.7" stroke="#000" stroke-width="4.6" stroke-linecap="butt"/>
<line x1="326.7" y1="2670.5" x2="326.7" y2="2690.8" stroke="#000" stroke-width="4.6" stroke-linecap="butt"/>
<text transform="translate(326.7,2738.5) scale(1,1.100)" text-anchor="middle" style="font-family:'Liberation Sans',Arial,sans-serif;font-size:43.0px;fill:#000">200</text>
<line x1="762.9" y1="2670.5" x2="762.9" y2="2690.8" stroke="#000" stroke-width="4.6" stroke-linecap="butt"/>
<text transform="translate(762.9,2738.5) scale(1,1.100)" text-anchor="middle" style="font-family:'Liberation Sans',Arial,sans-serif;font-size:43.0px;fill:#000">400</text>
<line x1="1199.1" y1="2670.5" x2="1199.1" y2="2690.8" stroke="#000" stroke-width="4.6" stroke-linecap="butt"/>
<text transform="translate(1199.1,2738.5) scale(1,1.100)" text-anchor="middle" style="font-family:'Liberation Sans',Arial,sans-serif;font-size:43.0px;fill:#000">600</text>
<line x1="1635.3" y1="2670.5" x2="1635.3" y2="2690.8" stroke="#000" stroke-width="4.6" stroke-linecap="butt"/>
<text transform="translate(1635.3,2738.5) scale(1,1.100)" text-anchor="middle" style="font-family:'Liberation Sans',Arial,sans-serif;font-size:43.0px;fill:#000">800</text>
<line x1="544.8" y1="2670.5" x2="544.8" y2="2680.8" stroke="#000" stroke-width="4.6" stroke-linecap="butt"/>
<line x1="981.0" y1="2670.5" x2="981.0" y2="2680.8" stroke="#000" stroke-width="4.6" stroke-linecap="butt"/>
<line x1="1417.2" y1="2670.5" x2="1417.2" y2="2680.8" stroke="#000" stroke-width="4.6" stroke-linecap="butt"/>
<line x1="1635.2" y1="2670.5" x2="1655.5" y2="2670.5" stroke="#f00" stroke-width="4.6" stroke-linecap="butt"/>
<text transform="translate(1669.5,2683.9) scale(1,1.100)" text-anchor="start" style="font-family:'Liberation Sans',Arial,sans-serif;font-size:43.0px;fill:#f00">0</text>
<line x1="1635.2" y1="2543.6" x2="1655.5" y2="2543.6" stroke="#f00" stroke-width="4.6" stroke-linecap="butt"/>
<text transform="translate(1669.5,2557.0) scale(1,1.100)" text-anchor="start" style="font-family:'Liberation Sans',Arial,sans-serif;font-size:43.0px;fill:#f00">500</text>
<line x1="1635.2" y1="2416.7" x2="1655.5" y2="2416.7" stroke="#f00" stroke-width="4.6" stroke-linecap="butt"/>
<text transform="translate(1669.5,2430.1) scale(1,1.100)" text-anchor="start" style="font-family:'Liberation Sans',Arial,sans-serif;font-size:43.0px;fill:#f00">1000</text>
<line x1="1635.2" y1="2289.8" x2="1655.5" y2="2289.8" stroke="#f00" stroke-width="4.6" stroke-linecap="butt"/>
<text transform="translate(1669.5,2303.2) scale(1,1.100)" text-anchor="start" style="font-family:'Liberation Sans',Arial,sans-serif;font-size:43.0px;fill:#f00">1500</text>
<line x1="1635.2" y1="2163.0" x2="1655.5" y2="2163.0" stroke="#f00" stroke-width="4.6" stroke-linecap="butt"/>
<text transform="translate(1669.5,2176.4) scale(1,1.100)" text-anchor="start" style="font-family:'Liberation Sans',Arial,sans-serif;font-size:43.0px;fill:#f00">2000</text>
<line x1="1635.2" y1="2036.1" x2="1655.5" y2="2036.1" stroke="#f00" stroke-width="4.6" stroke-linecap="butt"/>
<text transform="translate(1669.5,2049.5) scale(1,1.100)" text-anchor="start" style="font-family:'Liberation Sans',Arial,sans-serif;font-size:43.0px;fill:#f00">2500</text>
<line x1="1635.2" y1="1909.2" x2="1655.5" y2="1909.2" stroke="#f00" stroke-width="4.6" stroke-linecap="butt"/>
<text transform="translate(1669.5,1922.6) scale(1,1.100)" text-anchor="start" style="font-family:'Liberation Sans',Arial,sans-serif;font-size:43.0px;fill:#f00">3000</text>
<line x1="1635.2" y1="1782.3" x2="1655.5" y2="1782.3" stroke="#f00" stroke-width="4.6" stroke-linecap="butt"/>
<text transform="translate(1669.5,1795.7) scale(1,1.100)" text-anchor="start" style="font-family:'Liberation Sans',Arial,sans-serif;font-size:43.0px;fill:#f00">3500</text>
<line x1="1635.2" y1="2607.1" x2="1645.5" y2="2607.1" stroke="#f00" stroke-width="4.6" stroke-linecap="butt"/>
<line x1="1635.2" y1="2480.2" x2="1645.5" y2="2480.2" stroke="#f00" stroke-width="4.6" stroke-linecap="butt"/>
<line x1="1635.2" y1="2353.3" x2="1645.5" y2="2353.3" stroke="#f00" stroke-width="4.6" stroke-linecap="butt"/>
<line x1="1635.2" y1="2226.4" x2="1645.5" y2="2226.4" stroke="#f00" stroke-width="4.6" stroke-linecap="butt"/>
<line x1="1635.2" y1="2099.5" x2="1645.5" y2="2099.5" stroke="#f00" stroke-width="4.6" stroke-linecap="butt"/>
<line x1="1635.2" y1="1972.6" x2="1645.5" y2="1972.6" stroke="#f00" stroke-width="4.6" stroke-linecap="butt"/>
<line x1="1635.2" y1="1845.7" x2="1645.5" y2="1845.7" stroke="#f00" stroke-width="4.6" stroke-linecap="butt"/>
<line x1="1635.2" y1="1718.9" x2="1645.5" y2="1718.9" stroke="#f00" stroke-width="4.6" stroke-linecap="butt"/>
<text x="927.0" y="2817.0" text-anchor="middle" style="font-family:'Liberation Sans',Arial,sans-serif;font-size:53.3px;fill:#000">Wavelenght (nm)</text>
<text transform="translate(102.0,2194.4) rotate(-90)" text-anchor="middle" style="font-family:'Liberation Sans',Arial,sans-serif;font-size:53.3px;fill:#000">Normalized absorbance (a.u.)</text>
<text transform="translate(1824.9,2194.0) rotate(-90)" text-anchor="middle" style="font-family:'Liberation Sans',Arial,sans-serif;font-size:53.3px;fill:#f00">Luminescence</text>
<line x1="393.0" y1="1547.9" x2="517.0" y2="1547.9" stroke="#000" stroke-width="4.3" stroke-linecap="butt"/>
<text x="529.0" y="1565.7" text-anchor="start" style="font-family:'Liberation Sans',Arial,sans-serif;font-size:53.3px;fill:#000">Normalized absorbance (a.u.)</text>
<line x1="393.0" y1="1613.5" x2="517.0" y2="1613.5" stroke="#f00" stroke-width="4.3" stroke-linecap="butt"/>
<text x="529.0" y="1631.6" text-anchor="start" style="font-family:'Liberation Sans',Arial,sans-serif;font-size:53.3px;fill:#000">Luminescence</text>
<line x1="393.0" y1="1679.0" x2="517.0" y2="1679.0" stroke="#00f" stroke-width="4.3" stroke-linecap="butt"/>
<text x="529.0" y="1697.5" text-anchor="start" style="font-family:'Liberation Sans',Arial,sans-serif;font-size:53.3px;fill:#000">Theoretical Absorbance (a.u.)</text>
<text transform="translate(1412.0,1745.0) scale(1,1.020)" text-anchor="start" style="font-family:'Liberation Sans',Arial,sans-serif;font-size:53.5px;font-weight:bold;fill:#000">2b</text>
<path d="M294.0,3643.3 C295.0,3640.7 298.5,3628.0 300.1,3627.4 C301.7,3626.8 302.0,3640.1 303.6,3639.8 C305.2,3639.5 308.1,3632.4 309.6,3625.6 C311.1,3618.8 311.4,3604.0 312.5,3599.0 C313.6,3594.0 315.1,3598.7 316.0,3595.5 C316.9,3592.3 316.9,3588.4 317.8,3580.0 C318.7,3571.6 320.1,3556.3 321.3,3545.2 C322.5,3534.1 323.5,3520.4 324.9,3513.3 C326.3,3506.2 328.0,3509.8 329.5,3502.7 C331.0,3495.6 332.5,3483.2 333.8,3470.8 C335.1,3458.4 336.2,3447.1 337.3,3428.2 C338.4,3409.3 339.2,3380.9 340.1,3357.3 C341.0,3333.7 341.8,3305.9 342.6,3286.4 C343.4,3266.9 344.3,3250.1 345.1,3240.3 C345.9,3230.6 346.1,3227.9 347.2,3227.9 C348.3,3227.9 349.9,3230.6 351.5,3240.3 C353.1,3250.1 355.0,3272.8 356.8,3286.4 C358.6,3300.0 360.5,3311.2 362.1,3321.8 C363.7,3332.4 364.6,3341.3 366.4,3350.2 C368.2,3359.1 370.9,3366.1 372.8,3375.0 C374.8,3383.9 376.3,3395.7 378.1,3403.4 C379.9,3411.1 381.6,3415.8 383.4,3421.1 C385.2,3426.4 386.9,3430.9 388.7,3435.3 C390.5,3439.7 391.9,3446.2 394.0,3447.7 C396.1,3449.2 399.0,3447.1 401.1,3444.2 C403.2,3441.2 404.6,3432.2 406.4,3430.0 C408.2,3427.8 410.0,3432.0 411.8,3431.1 C413.6,3430.2 415.6,3427.5 417.1,3424.7 C418.6,3421.8 418.8,3416.4 420.6,3414.0 C422.4,3411.6 425.3,3410.2 427.7,3410.5 C430.1,3410.8 432.7,3411.7 434.8,3415.8 C436.9,3419.9 438.3,3427.3 440.1,3435.3 C441.9,3443.3 443.7,3454.2 445.5,3463.7 C447.3,3473.1 449.0,3482.6 450.8,3492.0 C452.6,3501.4 454.0,3510.3 456.1,3520.4 C458.2,3530.5 461.1,3543.7 463.2,3552.3 C465.3,3560.9 467.2,3566.9 469.0,3572.0 C470.8,3577.1 470.9,3578.6 473.8,3583.0 C476.7,3587.4 482.4,3597.7 486.2,3598.3 C490.0,3598.9 493.8,3590.0 496.9,3586.6 C500.0,3583.2 502.6,3581.3 505.0,3578.0 C507.4,3574.7 508.6,3570.8 511.1,3566.5 C513.6,3562.2 516.8,3558.8 520.0,3552.3 C523.2,3545.8 527.4,3535.8 530.6,3527.5 C533.8,3519.2 536.5,3511.6 539.4,3502.7 C542.3,3493.8 545.3,3482.6 548.3,3474.3 C551.3,3466.0 554.6,3460.7 557.2,3453.0 C559.9,3445.3 561.9,3436.5 564.2,3428.2 C566.6,3419.9 568.9,3412.3 571.3,3403.4 C573.7,3394.5 576.0,3384.4 578.4,3375.0 C580.8,3365.6 583.1,3357.3 585.5,3346.7 C587.9,3336.1 590.4,3320.6 592.6,3311.2 C594.9,3301.8 596.8,3296.2 599.0,3290.0 C601.2,3283.8 603.3,3278.3 606.1,3274.0 C608.9,3269.7 612.5,3264.3 615.7,3264.0 C619.0,3263.7 622.8,3267.3 625.6,3272.2 C628.4,3277.1 630.3,3284.6 632.7,3293.5 C635.1,3302.4 637.7,3314.8 639.8,3325.4 C641.9,3336.0 643.3,3345.5 645.1,3357.3 C646.9,3369.1 648.6,3383.3 650.4,3396.3 C652.2,3409.3 653.9,3422.3 655.7,3435.3 C657.5,3448.3 659.3,3461.3 661.1,3474.3 C662.9,3487.3 664.6,3500.3 666.4,3513.3 C668.2,3526.3 670.2,3542.0 671.7,3552.3 C673.2,3562.6 674.0,3567.8 675.2,3575.0 C676.4,3582.2 677.3,3585.0 678.8,3595.5 C680.3,3606.0 682.0,3623.8 684.1,3638.0 C686.2,3652.2 688.8,3668.2 691.2,3680.6 C693.6,3693.0 695.9,3703.1 698.3,3712.5 C700.7,3721.9 703.0,3730.2 705.4,3737.3 C707.8,3744.4 709.9,3749.7 712.5,3755.0 C715.1,3760.3 718.0,3764.8 721.3,3769.2 C724.5,3773.6 728.5,3779.2 732.0,3781.6 C735.5,3784.0 739.4,3783.8 742.6,3783.4 C745.9,3783.0 748.8,3780.9 751.5,3779.1 C754.2,3777.3 756.2,3775.0 758.6,3772.8 C761.0,3770.6 763.3,3768.7 765.7,3765.7 C768.1,3762.7 770.4,3758.8 772.8,3755.0 C775.2,3751.2 777.8,3747.3 779.9,3742.6 C782.0,3737.9 783.4,3731.7 785.2,3726.7 C787.0,3721.7 788.4,3716.7 790.5,3712.5 C792.6,3708.3 795.5,3707.1 797.6,3701.8 C799.7,3696.5 800.5,3688.9 802.9,3680.6 C805.3,3672.3 808.8,3661.1 811.8,3652.2 C814.8,3643.3 817.6,3636.3 820.6,3627.4 C823.6,3618.5 827.1,3607.7 829.5,3599.0 C831.9,3590.3 832.6,3584.0 835.0,3575.0 C837.4,3566.0 841.1,3554.3 843.7,3545.2 C846.3,3536.1 848.1,3528.7 850.8,3520.4 C853.4,3512.1 856.6,3504.5 859.6,3495.6 C862.6,3486.7 865.5,3475.8 868.5,3467.2 C871.5,3458.6 874.4,3451.3 877.4,3444.2 C880.4,3437.1 883.2,3430.3 886.2,3424.7 C889.2,3419.1 891.6,3415.5 895.1,3410.5 C898.6,3405.5 903.1,3398.1 907.5,3394.5 C911.9,3390.9 917.0,3388.9 921.7,3389.2 C926.4,3389.5 931.5,3391.6 935.9,3396.3 C940.3,3401.0 944.2,3408.7 948.3,3417.6 C952.4,3426.5 956.9,3438.9 960.7,3449.5 C964.5,3460.1 968.0,3470.8 971.3,3481.4 C974.5,3492.0 977.5,3503.2 980.2,3513.3 C982.9,3523.4 984.9,3532.2 987.3,3541.7 C989.7,3551.2 992.4,3561.4 994.4,3570.1 C996.4,3578.8 997.0,3583.6 999.0,3593.7 C1001.0,3603.8 1004.0,3617.2 1006.1,3630.9 C1008.2,3644.6 1009.6,3663.7 1011.4,3676.0 C1013.2,3688.3 1015.4,3698.0 1017.0,3705.0 C1018.6,3712.0 1019.5,3712.8 1021.0,3718.0 C1022.5,3723.2 1022.8,3721.4 1025.9,3736.0 C1029.0,3750.6 1035.9,3789.3 1039.5,3805.8 C1043.1,3822.3 1044.7,3823.6 1047.3,3835.0 C1049.9,3846.4 1052.5,3864.3 1055.1,3874.1 C1057.7,3883.9 1060.6,3885.5 1062.9,3893.6 C1065.2,3901.7 1066.2,3913.1 1068.8,3922.8 C1071.4,3932.6 1075.2,3944.0 1078.5,3952.1 C1081.8,3960.2 1085.7,3965.3 1088.3,3971.6 C1090.9,3977.9 1092.4,3985.1 1094.1,3990.1 C1095.8,3995.1 1096.1,3997.5 1098.3,4001.8 C1100.5,4006.1 1104.2,4011.8 1107.2,4016.0 C1110.2,4020.2 1113.3,4023.4 1116.0,4026.7 C1118.7,4029.9 1120.4,4032.6 1123.1,4035.5 C1125.8,4038.4 1129.0,4042.3 1132.0,4044.4 C1135.0,4046.5 1137.5,4045.5 1140.8,4047.9 C1144.0,4050.3 1148.2,4054.4 1151.5,4058.6 C1154.8,4062.8 1156.8,4070.2 1160.3,4072.8 C1163.8,4075.5 1169.5,4072.7 1172.8,4074.5 C1176.1,4076.3 1176.4,4081.9 1179.9,4083.4 C1183.4,4084.9 1188.7,4083.0 1194.0,4083.4 C1199.3,4083.8 1206.5,4085.0 1211.8,4085.9 C1217.1,4086.8 1221.3,4087.8 1226.0,4088.7 C1230.7,4089.6 1236.3,4091.6 1240.1,4091.2 C1243.9,4090.8 1246.0,4085.4 1249.0,4086.2 C1252.0,4087.0 1254.4,4095.1 1257.9,4095.8 C1261.5,4096.5 1266.2,4090.7 1270.3,4090.5 C1274.4,4090.3 1277.7,4094.5 1282.7,4094.8 C1287.7,4095.1 1294.5,4092.3 1300.4,4092.3 C1306.3,4092.3 1311.0,4094.8 1318.1,4094.8 C1325.2,4094.8 1336.5,4092.1 1343.0,4092.3 C1349.5,4092.5 1351.9,4096.4 1357.2,4095.8 C1362.5,4095.2 1371.1,4088.7 1374.9,4088.7 C1378.7,4088.7 1376.2,4094.9 1380.2,4095.8 C1384.2,4096.7 1392.4,4094.1 1399.0,4094.0 C1405.6,4093.9 1416.2,4095.5 1420.0,4095.0 C1423.8,4094.5 1420.7,4091.1 1422.0,4091.0 C1423.3,4090.9 1424.3,4093.7 1428.0,4094.5 C1431.7,4095.3 1441.3,4095.8 1444.0,4096.0" fill="none" stroke="#000" stroke-width="4.8" stroke-linejoin="round" stroke-linecap="round"/>
<path d="M435.1,4088.6 L436.7,4090.6 L438.5,4092.2 L440.4,4093.5 L442.5,4094.4 L444.8,4095.0 L447.1,4095.3 L449.5,4095.5 L452.1,4095.5 L454.6,4095.3 L457.2,4095.1 L459.8,4094.8 L462.4,4094.5 L465.0,4094.3 L467.6,4094.0 L470.2,4093.8 L472.8,4093.5 L475.3,4093.3 L477.9,4093.1 L480.4,4093.0 L483.0,4092.8 L485.5,4092.6 L488.0,4092.5 L490.5,4092.4 L493.0,4092.2 L495.5,4092.1 L498.0,4092.0 L500.5,4091.9 L503.0,4091.8 L505.5,4091.8 L507.9,4091.7 L510.4,4091.7 L512.9,4091.6 L515.4,4091.6 L517.8,4091.5 L520.3,4091.5 L522.8,4091.5 L525.3,4091.5 L527.7,4091.5 L530.2,4091.5 L532.7,4091.5 L535.2,4091.5 L537.7,4091.5 L540.1,4091.5 L542.6,4091.5 L545.1,4091.5 L547.6,4091.6 L550.1,4091.6 L552.6,4091.6 L555.2,4091.7 L557.7,4091.7 L560.2,4091.7 L562.7,4091.8 L565.2,4091.8 L567.7,4091.9 L570.2,4091.9 L572.8,4092.0 L575.3,4092.0 L577.8,4092.1 L580.3,4092.1 L582.8,4092.2 L585.4,4092.2 L587.9,4092.3 L590.4,4092.4 L592.9,4092.4 L595.4,4092.5 L597.9,4092.5 L600.4,4092.6 L602.9,4092.7 L605.4,4092.7 L607.9,4092.8 L610.4,4092.9 L612.9,4092.9 L615.4,4093.0 L617.9,4093.0 L620.4,4093.1 L622.9,4093.1 L625.4,4093.1 L627.9,4093.1 L630.4,4093.1 L632.9,4093.1 L635.4,4093.1 L637.9,4093.1 L640.4,4093.1 L642.9,4093.0 L645.4,4093.0 L647.9,4092.9 L650.4,4092.8 L652.9,4092.7 L655.5,4092.6 L658.0,4092.4 L660.5,4092.0 L662.9,4091.6 L665.4,4090.9 L667.7,4089.9 L670.1,4088.6 L672.3,4087.0 L674.5,4085.1 L676.6,4083.2 L678.6,4081.4 L680.6,4079.8 L682.6,4078.8 L684.5,4078.5 L686.4,4078.9 L688.3,4080.1 L690.2,4081.8 L692.1,4083.8 L694.1,4085.8 L696.1,4087.8 L698.1,4089.5 L700.2,4090.9 L702.4,4092.2 L704.6,4093.2 L706.8,4094.1 L709.1,4094.7 L711.4,4095.2 L713.8,4095.6 L716.2,4095.8 L718.7,4095.9 L721.1,4095.9 L723.6,4095.8 L726.1,4095.6 L728.6,4095.4 L731.2,4095.1 L733.8,4094.8 L736.3,4094.4 L738.9,4094.1 L741.5,4093.7 L744.1,4093.4 L746.7,4093.1 L749.2,4092.8 L751.8,4092.7 L754.4,4092.6 L756.9,4092.5 L759.5,4092.6 L762.0,4092.7 L764.5,4092.8 L767.0,4093.0 L769.5,4093.2 L772.0,4093.4 L774.5,4093.7 L777.0,4094.0 L779.5,4094.2 L782.0,4094.5 L784.5,4094.8 L787.0,4095.0 L789.4,4095.2 L791.9,4095.4 L794.4,4095.5 L796.9,4095.5 L799.4,4095.6 L801.8,4095.5 L804.3,4095.3 L806.8,4095.1 L809.3,4094.9 L811.8,4094.6 L814.3,4094.2 L816.8,4093.8 L819.3,4093.4 L821.8,4093.0 L824.3,4092.6 L826.8,4092.1 L829.3,4091.8 L831.8,4091.4 L834.2,4091.1 L836.7,4090.8 L839.2,4090.5 L841.7,4090.4 L844.2,4090.3 L846.7,4090.3 L849.2,4090.3 L851.7,4090.5 L854.1,4090.8 L856.6,4091.2 L859.1,4091.6 L861.6,4092.1 L864.0,4092.7 L866.5,4093.2 L869.0,4093.7 L871.4,4094.2 L873.9,4094.7 L876.3,4095.1 L878.8,4095.4 L881.3,4095.6 L883.7,4095.7 L886.2,4095.7 L888.6,4095.6 L891.1,4095.4 L893.6,4095.2 L896.1,4095.0 L898.6,4094.8 L901.1,4094.5 L903.7,4094.3 L906.2,4094.1 L908.8,4094.0 L911.5,4093.9 L914.1,4093.8 L916.7,4093.7 L919.3,4093.6 L921.9,4093.4 L924.4,4093.1 L926.8,4092.7 L929.1,4092.1 L931.4,4091.3 L933.5,4090.3 L935.5,4089.0 L937.3,4087.6 L939.1,4085.9 L940.7,4084.1 L942.3,4082.1 L943.8,4080.0 L945.3,4077.9 L946.8,4075.7 L948.2,4073.5 L949.7,4071.2 L951.1,4069.1 L952.6,4066.9 L954.1,4064.9 L955.6,4062.9 L957.1,4060.9 L958.7,4058.9 L960.2,4056.9 L961.7,4055.0 L963.3,4053.0 L964.8,4051.1 L966.2,4049.1 L967.7,4047.1 L969.2,4045.1 L970.6,4043.1 L972.1,4041.0 L973.5,4039.0 L975.0,4037.0 L976.5,4035.0 L978.0,4033.1 L979.5,4031.1 L981.1,4029.2 L982.7,4027.3 L984.4,4025.4 L986.1,4023.6 L987.8,4021.8 L989.6,4020.1 L991.5,4018.4 L993.4,4016.8 L995.4,4015.1 L997.3,4013.5 L999.2,4011.8 L1001.0,4010.1 L1002.7,4008.3 L1004.4,4006.5 L1005.9,4004.6 L1007.5,4002.7 L1008.9,4000.7 L1010.4,3998.7 L1011.7,3996.6 L1013.1,3994.5 L1014.4,3992.4 L1015.6,3990.3 L1016.9,3988.1 L1018.1,3986.0 L1019.4,3983.8 L1020.6,3981.6 L1021.8,3979.5 L1023.0,3977.3 L1024.2,3975.1 L1025.5,3972.9 L1026.7,3970.8 L1027.9,3968.6 L1029.1,3966.4 L1030.3,3964.3 L1031.5,3962.1 L1032.7,3959.9 L1033.9,3957.7 L1035.1,3955.5 L1036.3,3953.3 L1037.4,3951.1 L1038.6,3948.9 L1039.7,3946.7 L1040.8,3944.5 L1042.0,3942.3 L1043.0,3940.0 L1044.1,3937.8 L1045.2,3935.5 L1046.2,3933.3 L1047.2,3931.0 L1048.2,3928.7 L1049.2,3926.4 L1050.2,3924.1 L1051.1,3921.8 L1052.1,3919.5 L1053.0,3917.2 L1053.9,3914.8 L1054.7,3912.5 L1055.6,3910.1 L1056.4,3907.7 L1057.3,3905.4 L1058.1,3903.0 L1058.8,3900.6 L1059.6,3898.2 L1060.4,3895.8 L1061.1,3893.4 L1061.8,3891.0 L1062.5,3888.6 L1063.2,3886.2 L1063.8,3883.8 L1064.4,3881.3 L1065.1,3878.9 L1065.7,3876.4 L1066.2,3874.0 L1066.8,3871.5 L1067.3,3869.1 L1067.9,3866.6 L1068.4,3864.2 L1068.8,3861.7 L1069.3,3859.2 L1069.7,3856.8 L1070.2,3854.3 L1070.6,3851.8 L1071.0,3849.3 L1071.4,3846.9 L1071.8,3844.4 L1072.2,3841.9 L1072.6,3839.4 L1073.0,3837.0 L1073.4,3834.5 L1073.9,3832.0 L1074.3,3829.6 L1074.7,3827.1 L1075.2,3824.7 L1075.7,3822.2 L1076.2,3819.8 L1076.8,3817.3 L1077.3,3814.9 L1077.9,3812.5 L1078.6,3810.1 L1079.3,3807.7 L1080.0,3805.3 L1080.7,3803.0 L1081.5,3800.6 L1082.4,3798.3 L1083.3,3795.9 L1084.2,3793.6 L1085.1,3791.3 L1086.1,3789.0 L1087.0,3786.6 L1088.0,3784.3 L1088.9,3782.0 L1089.8,3779.6 L1090.7,3777.3 L1091.5,3775.0 L1092.4,3772.6 L1093.1,3770.2 L1093.8,3767.8 L1094.5,3765.4 L1095.2,3763.0 L1095.8,3760.6 L1096.3,3758.1 L1096.9,3755.7 L1097.4,3753.2 L1097.9,3750.8 L1098.4,3748.3 L1098.8,3745.9 L1099.3,3743.4 L1099.7,3741.0 L1100.2,3738.5 L1100.6,3736.0 L1101.0,3733.5 L1101.3,3731.1 L1101.7,3728.6 L1102.1,3726.1 L1102.4,3723.6 L1102.8,3721.2 L1103.1,3718.7 L1103.4,3716.2 L1103.8,3713.7 L1104.1,3711.2 L1104.4,3708.7 L1104.7,3706.3 L1105.0,3703.8 L1105.3,3701.3 L1105.6,3698.8 L1105.9,3696.3 L1106.1,3693.8 L1106.4,3691.3 L1106.7,3688.8 L1107.0,3686.3 L1107.3,3683.8 L1107.6,3681.4 L1107.9,3678.9 L1108.2,3676.4 L1108.5,3673.9 L1108.8,3671.4 L1109.1,3668.9 L1109.4,3666.4 L1109.7,3664.0 L1110.0,3661.5 L1110.4,3659.0 L1110.7,3656.5 L1111.1,3654.0 L1111.4,3651.6 L1111.8,3649.1 L1112.1,3646.6 L1112.5,3644.1 L1112.8,3641.7 L1113.2,3639.2 L1113.6,3636.7 L1114.0,3634.3 L1114.3,3631.8 L1114.7,3629.3 L1115.1,3626.9 L1115.5,3624.4 L1115.9,3621.9 L1116.3,3619.4 L1116.7,3617.0 L1117.1,3614.5 L1117.5,3612.1 L1117.9,3609.6 L1118.3,3607.1 L1118.7,3604.7 L1119.1,3602.2 L1119.6,3599.7 L1120.0,3597.3 L1120.4,3594.8 L1120.8,3592.3 L1121.2,3589.9 L1121.6,3587.4 L1122.1,3584.9 L1122.5,3582.5 L1122.9,3580.0 L1123.3,3577.5 L1123.8,3575.1 L1124.2,3572.6 L1124.6,3570.1 L1125.0,3567.7 L1125.4,3565.2 L1125.9,3562.8 L1126.3,3560.3 L1126.7,3557.8 L1127.1,3555.4 L1127.6,3552.9 L1128.0,3550.4 L1128.4,3548.0 L1128.9,3545.5 L1129.3,3543.0 L1129.7,3540.6 L1130.1,3538.1 L1130.6,3535.6 L1131.0,3533.2 L1131.4,3530.7 L1131.9,3528.2 L1132.3,3525.8 L1132.8,3523.3 L1133.2,3520.8 L1133.6,3518.4 L1134.1,3515.9 L1134.5,3513.4 L1135.0,3511.0 L1135.4,3508.5 L1135.9,3506.0 L1136.3,3503.6 L1136.8,3501.1 L1137.2,3498.6 L1137.7,3496.2 L1138.1,3493.7 L1138.6,3491.2 L1139.0,3488.8 L1139.5,3486.3 L1140.0,3483.9 L1140.4,3481.4 L1140.9,3478.9 L1141.4,3476.5 L1141.8,3474.0 L1142.3,3471.6 L1142.8,3469.1 L1143.3,3466.6 L1143.7,3464.2 L1144.2,3461.7 L1144.7,3459.3 L1145.2,3456.8 L1145.7,3454.3 L1146.1,3451.9 L1146.6,3449.4 L1147.1,3447.0 L1147.6,3444.5 L1148.1,3442.0 L1148.6,3439.6 L1149.0,3437.1 L1149.5,3434.7 L1150.0,3432.2 L1150.5,3429.8 L1151.0,3427.3 L1151.5,3424.8 L1151.9,3422.4 L1152.4,3419.9 L1152.9,3417.5 L1153.4,3415.0 L1153.9,3412.5 L1154.3,3410.1 L1154.8,3407.6 L1155.3,3405.2 L1155.8,3402.7 L1156.2,3400.3 L1156.7,3397.8 L1157.2,3395.3 L1157.6,3392.9 L1158.1,3390.4 L1158.6,3388.0 L1159.0,3385.5 L1159.5,3383.0 L1160.0,3380.6 L1160.4,3378.1 L1160.9,3375.7 L1161.3,3373.2 L1161.8,3370.7 L1162.2,3368.3 L1162.7,3365.8 L1163.1,3363.4 L1163.6,3360.9 L1164.0,3358.4 L1164.4,3356.0 L1164.9,3353.5 L1165.3,3351.0 L1165.7,3348.6 L1166.2,3346.1 L1166.6,3343.7 L1167.0,3341.2 L1167.4,3338.7 L1167.8,3336.3 L1168.2,3333.8 L1168.6,3331.3 L1169.0,3328.9 L1169.4,3326.4 L1169.8,3323.9 L1170.2,3321.4 L1170.5,3319.0 L1170.9,3316.5 L1171.3,3314.0 L1171.7,3311.6 L1172.0,3309.1 L1172.4,3306.6 L1172.7,3304.1 L1173.0,3301.6 L1173.4,3299.2 L1173.7,3296.7 L1174.0,3294.2 L1174.3,3291.7 L1174.6,3289.2 L1174.9,3286.7 L1175.2,3284.2 L1175.5,3281.7 L1175.7,3279.2 L1176.0,3276.7 L1176.2,3274.2 L1176.5,3271.7 L1176.7,3269.2 L1177.0,3266.7 L1177.3,3264.2 L1177.6,3261.7 L1178.1,3259.1 L1178.7,3256.6 L1179.5,3254.0 L1180.4,3251.5 L1181.5,3249.2 L1182.9,3247.5 L1184.5,3246.5 L1186.3,3246.4 L1188.2,3247.1 L1189.9,3248.5 L1191.2,3250.4 L1192.3,3252.6 L1193.1,3255.1 L1193.9,3257.8 L1194.6,3260.5 L1195.4,3263.2 L1196.4,3265.8 L1197.5,3268.1 L1198.9,3270.3 L1200.5,3272.2 L1202.2,3273.9 L1204.1,3275.3 L1206.2,3276.5 L1208.5,3277.4 L1211.0,3277.9 L1213.6,3278.0 L1216.3,3277.7 L1219.1,3277.3 L1221.8,3277.1 L1224.3,3277.1 L1226.5,3277.7 L1228.6,3278.6 L1230.4,3280.0 L1232.0,3281.6 L1233.5,3283.5 L1234.9,3285.5 L1236.1,3287.7 L1237.3,3290.0 L1238.5,3292.3 L1239.6,3294.6 L1240.7,3296.9 L1241.7,3299.2 L1242.7,3301.5 L1243.6,3303.8 L1244.6,3306.2 L1245.4,3308.5 L1246.3,3310.9 L1247.1,3313.3 L1247.9,3315.7 L1248.7,3318.0 L1249.5,3320.4 L1250.2,3322.8 L1250.9,3325.2 L1251.6,3327.6 L1252.3,3330.1 L1252.9,3332.5 L1253.6,3334.9 L1254.2,3337.3 L1254.8,3339.7 L1255.4,3342.2 L1256.0,3344.6 L1256.6,3347.0 L1257.2,3349.5 L1257.8,3351.9 L1258.4,3354.3 L1259.1,3356.8 L1259.7,3359.2 L1260.3,3361.6 L1260.9,3364.1 L1261.5,3366.5 L1262.1,3368.9 L1262.7,3371.3 L1263.3,3373.8 L1263.9,3376.2 L1264.5,3378.6 L1265.2,3381.0 L1265.8,3383.5 L1266.4,3385.9 L1267.0,3388.3 L1267.7,3390.7 L1268.3,3393.2 L1268.9,3395.6 L1269.5,3398.0 L1270.2,3400.4 L1270.8,3402.9 L1271.4,3405.3 L1272.1,3407.7 L1272.7,3410.1 L1273.3,3412.6 L1274.0,3415.0 L1274.6,3417.4 L1275.3,3419.8 L1275.9,3422.2 L1276.6,3424.7 L1277.2,3427.1 L1277.8,3429.5 L1278.5,3431.9 L1279.1,3434.3 L1279.8,3436.7 L1280.4,3439.2 L1281.1,3441.6 L1281.7,3444.0 L1282.4,3446.4 L1283.1,3448.8 L1283.7,3451.2 L1284.4,3453.7 L1285.0,3456.1 L1285.7,3458.5 L1286.3,3460.9 L1287.0,3463.3 L1287.7,3465.7 L1288.3,3468.1 L1289.0,3470.6 L1289.7,3473.0 L1290.3,3475.4 L1291.0,3477.8 L1291.7,3480.2 L1292.3,3482.6 L1293.0,3485.0 L1293.7,3487.4 L1294.3,3489.9 L1295.0,3492.3 L1295.7,3494.7 L1296.4,3497.1 L1297.0,3499.5 L1297.7,3501.9 L1298.4,3504.3 L1299.1,3506.7 L1299.7,3509.1 L1300.4,3511.5 L1301.1,3514.0 L1301.8,3516.4 L1302.4,3518.8 L1303.1,3521.2 L1303.8,3523.6 L1304.5,3526.0 L1305.2,3528.4 L1305.8,3530.8 L1306.5,3533.2 L1307.2,3535.6 L1307.9,3538.0 L1308.6,3540.5 L1309.2,3542.9 L1309.9,3545.3 L1310.6,3547.7 L1311.3,3550.1 L1312.0,3552.5 L1312.7,3554.9 L1313.3,3557.3 L1314.0,3559.7 L1314.7,3562.1 L1315.4,3564.5 L1316.1,3566.9 L1316.8,3569.3 L1317.5,3571.8 L1318.1,3574.2 L1318.8,3576.6 L1319.5,3579.0 L1320.2,3581.4 L1320.9,3583.8 L1321.6,3586.2 L1322.3,3588.6 L1322.9,3591.0 L1323.6,3593.4 L1324.3,3595.8 L1325.0,3598.2 L1325.7,3600.6 L1326.4,3603.1 L1327.1,3605.5 L1327.7,3607.9 L1328.4,3610.3 L1329.1,3612.7 L1329.8,3615.1 L1330.5,3617.5 L1331.2,3619.9 L1331.9,3622.3 L1332.5,3624.7 L1333.2,3627.1 L1333.9,3629.5 L1334.6,3632.0 L1335.3,3634.4 L1336.0,3636.8 L1336.6,3639.2 L1337.3,3641.6 L1338.0,3644.0 L1338.7,3646.4 L1339.4,3648.8 L1340.0,3651.2 L1340.7,3653.6 L1341.4,3656.1 L1342.1,3658.5 L1342.8,3660.9 L1343.4,3663.3 L1344.1,3665.7 L1344.8,3668.1 L1345.5,3670.5 L1346.1,3672.9 L1346.8,3675.4 L1347.5,3677.8 L1348.2,3680.2 L1348.8,3682.6 L1349.5,3685.0 L1350.2,3687.4 L1350.8,3689.8 L1351.5,3692.2 L1352.2,3694.7 L1352.8,3697.1 L1353.5,3699.5 L1354.2,3701.9 L1354.8,3704.3 L1355.5,3706.7 L1356.2,3709.2 L1356.8,3711.6 L1357.5,3714.0 L1358.2,3716.4 L1358.8,3718.8 L1359.5,3721.2 L1360.1,3723.7 L1360.8,3726.1 L1361.5,3728.5 L1362.1,3730.9 L1362.8,3733.3 L1363.4,3735.8 L1364.1,3738.2 L1364.7,3740.6 L1365.4,3743.0 L1366.1,3745.4 L1366.7,3747.8 L1367.4,3750.3 L1368.1,3752.7 L1368.7,3755.1 L1369.4,3757.5 L1370.0,3759.9 L1370.7,3762.3 L1371.4,3764.8 L1372.1,3767.2 L1372.7,3769.6 L1373.4,3772.0 L1374.1,3774.4 L1374.8,3776.8 L1375.4,3779.2 L1376.1,3781.6 L1376.8,3784.0 L1377.5,3786.4 L1378.2,3788.9 L1378.9,3791.3 L1379.6,3793.7 L1380.3,3796.1 L1381.0,3798.5 L1381.7,3800.9 L1382.4,3803.3 L1383.1,3805.7 L1383.8,3808.1 L1384.6,3810.5 L1385.3,3812.9 L1386.0,3815.2 L1386.8,3817.6 L1387.5,3820.0 L1388.2,3822.4 L1389.0,3824.8 L1389.7,3827.2 L1390.5,3829.6 L1391.3,3832.0 L1392.0,3834.3 L1392.8,3836.7 L1393.6,3839.1 L1394.4,3841.5 L1395.2,3843.8 L1396.0,3846.2 L1396.8,3848.6 L1397.6,3850.9 L1398.4,3853.3 L1399.2,3855.7 L1400.0,3858.0 L1400.9,3860.4 L1401.7,3862.7 L1402.6,3865.1 L1403.4,3867.4 L1404.3,3869.8 L1405.1,3872.1 L1406.0,3874.5 L1406.9,3876.8 L1407.8,3879.1 L1408.7,3881.5 L1409.6,3883.8 L1410.5,3886.1 L1411.4,3888.5 L1412.3,3890.8 L1413.3,3893.1 L1414.2,3895.4 L1415.2,3897.7 L1416.1,3900.0 L1417.1,3902.3 L1418.1,3904.6 L1419.1,3906.9 L1420.1,3909.2 L1421.1,3911.5 L1422.2,3913.8 L1423.2,3916.0 L1424.3,3918.3 L1425.4,3920.6 L1426.5,3922.8 L1427.6,3925.0 L1428.7,3927.3 L1429.8,3929.5 L1431.0,3931.7 L1432.2,3933.9 L1433.4,3936.1 L1434.6,3938.2 L1435.9,3940.4 L1437.1,3942.5 L1438.4,3944.7 L1439.7,3946.8 L1441.0,3948.9 L1442.4,3951.0 L1443.7,3953.1 L1445.1,3955.2 L1446.5,3957.3 L1447.8,3959.4 L1449.2,3961.5 L1450.6,3963.5 L1452.1,3965.6 L1453.5,3967.7 L1454.9,3969.7 L1456.4,3971.8 L1457.8,3973.8 L1459.3,3975.8 L1460.8,3977.9 L1462.3,3979.9 L1463.8,3981.9 L1465.3,3983.9 L1466.9,3985.9 L1468.4,3987.8 L1470.0,3989.8 L1471.6,3991.7 L1473.2,3993.6 L1474.8,3995.6 L1476.5,3997.5 L1478.1,3999.3 L1479.8,4001.2 L1481.5,4003.1 L1483.2,4004.9 L1484.9,4006.7 L1486.6,4008.5 L1488.4,4010.3 L1490.1,4012.0 L1491.9,4013.8 L1493.7,4015.5 L1495.6,4017.2 L1497.4,4018.9 L1499.3,4020.5 L1501.2,4022.2 L1503.1,4023.8 L1505.0,4025.4 L1506.9,4026.9 L1508.9,4028.5 L1510.8,4030.0 L1512.8,4031.6 L1514.8,4033.0 L1516.8,4034.5 L1518.8,4036.0 L1520.9,4037.4 L1523.0,4038.8 L1525.0,4040.2 L1527.1,4041.6 L1529.2,4042.9 L1531.4,4044.2 L1533.5,4045.5 L1535.7,4046.8 L1537.8,4048.1 L1540.0,4049.3 L1542.2,4050.5 L1544.4,4051.7 L1546.7,4052.9 L1548.9,4054.0 L1551.2,4055.0 L1553.5,4055.9 L1555.9,4056.6 L1558.3,4057.0 L1560.7,4057.2 L1563.2,4057.4 L1565.6,4057.7 L1567.9,4058.4 L1570.0,4059.4 L1572.1,4060.8 L1574.2,4062.3 L1576.3,4063.8 L1578.4,4065.2 L1580.5,4066.4 L1582.8,4067.5 L1585.0,4068.5 L1587.3,4069.4 L1589.7,4070.1 L1592.0,4070.9 L1594.4,4071.5 L1596.8,4072.1 L1599.2,4072.7 L1601.7,4073.3 L1604.1,4073.8 L1606.5,4074.5 L1608.9,4075.1 L1611.3,4075.8 L1613.7,4076.5 L1616.1,4077.3 L1618.5,4078.1 L1620.8,4079.0 L1623.2,4079.8 L1625.5,4080.7 L1627.8,4081.6 L1630.1,4082.5 L1632.4,4083.5" fill="none" stroke="#f00" stroke-width="4.8" stroke-linejoin="round" stroke-linecap="round"/>
<path d="M435.2,3992.6 C436.0,3993.1 438.0,3994.8 440.0,3995.5 C442.0,3996.2 437.7,3996.3 447.2,3996.9 C456.7,3997.5 473.2,3998.7 496.9,3999.0 C520.5,3999.3 561.3,3998.9 589.1,3999.0 C616.9,3999.1 650.5,4000.4 663.5,3999.7 C676.5,3999.0 666.0,4001.4 667.1,3994.8 C668.2,3988.2 669.1,3973.4 669.9,3960.0 C670.7,3946.6 671.0,3939.9 671.7,3914.6 C672.4,3889.3 673.4,3849.6 674.2,3808.2 C675.0,3766.8 675.7,3707.8 676.3,3666.4 C676.9,3625.0 677.1,3587.9 677.7,3560.0 C678.3,3532.1 679.1,3521.1 679.9,3499.1 C680.7,3477.1 681.5,3447.1 682.3,3428.2 C683.1,3409.3 683.9,3386.9 684.8,3385.7 C685.7,3384.5 686.8,3405.1 687.7,3421.1 C688.7,3437.1 689.6,3458.2 690.5,3481.4 C691.4,3504.6 692.0,3535.1 693.0,3560.0 C694.0,3584.9 695.3,3610.2 696.5,3630.9 C697.7,3651.6 698.9,3667.6 700.1,3684.1 C701.3,3700.6 702.4,3717.8 703.6,3730.2 C704.8,3742.6 705.7,3748.5 707.2,3758.6 C708.7,3768.7 710.1,3780.2 712.5,3790.5 C714.9,3800.8 718.6,3817.7 721.3,3820.6 C723.9,3823.5 726.0,3812.0 728.4,3808.2 C730.8,3804.4 733.4,3797.6 735.5,3797.6 C737.6,3797.6 739.0,3804.1 740.8,3808.2 C742.6,3812.3 744.3,3818.0 746.2,3822.4 C748.1,3826.8 750.1,3834.8 752.2,3834.8 C754.3,3834.8 756.7,3828.0 758.6,3822.4 C760.5,3816.8 763.0,3804.7 763.9,3801.1" fill="none" stroke="#00f" stroke-width="4.8" stroke-linejoin="round" stroke-linecap="round"/>
<path d="M758.6,3822.4 L759.3,3820.0 L760.0,3817.6 L760.7,3815.1 L761.3,3812.7 L761.9,3810.3 L762.5,3807.9 L763.1,3805.4 L763.6,3803.0 L764.1,3800.6 L764.6,3798.1 L765.1,3795.7 L765.6,3793.2 L766.1,3790.8 L766.5,3788.3 L767.0,3785.9 L767.5,3783.4 L768.1,3780.9 L768.6,3778.5 L769.2,3776.0 L769.8,3773.5 L770.4,3771.1 L771.0,3768.6 L771.7,3766.1 L772.5,3763.7 L773.3,3761.2 L774.1,3758.7 L775.0,3756.2 L776.0,3753.9 L777.2,3751.8 L778.6,3750.1 L780.4,3748.9 L782.5,3748.4 L784.9,3748.4 L787.3,3748.5 L789.6,3748.5 L791.7,3748.2 L793.4,3747.2 L794.7,3745.7 L795.7,3743.8 L796.5,3741.5 L797.2,3739.0 L797.8,3736.5 L798.3,3734.0 L798.9,3731.5 L799.3,3729.0 L799.8,3726.4 L800.2,3723.9 L800.6,3721.4 L801.0,3718.9 L801.3,3716.3 L801.6,3713.8 L801.9,3711.3 L802.2,3708.8 L802.4,3706.3 L802.6,3703.8 L802.9,3701.2 L803.1,3698.7 L803.2,3696.2 L803.4,3693.7 L803.6,3691.2 L803.7,3688.7 L803.9,3686.2 L804.0,3683.7 L804.1,3681.2 L804.3,3678.7 L804.4,3676.2 L804.5,3673.7 L804.7,3671.2 L804.8,3668.7 L805.0,3666.2 L805.1,3663.7 L805.3,3661.2 L805.4,3658.7 L805.6,3656.2 L805.8,3653.7 L806.0,3651.2 L806.2,3648.7 L806.4,3646.2 L806.6,3643.7 L806.8,3641.2 L807.0,3638.8 L807.2,3636.3 L807.4,3633.8 L807.6,3631.3 L807.8,3628.8 L808.1,3626.3 L808.3,3623.8 L808.5,3621.3 L808.8,3618.9 L809.0,3616.4 L809.2,3613.9 L809.5,3611.4 L809.7,3608.9 L810.0,3606.4 L810.2,3603.9 L810.4,3601.5 L810.7,3599.0 L810.9,3596.5 L811.2,3594.0 L811.4,3591.5 L811.6,3589.0 L811.9,3586.5 L812.1,3584.0 L812.4,3581.6 L812.6,3579.1 L812.8,3576.6 L813.1,3574.1 L813.3,3571.6 L813.5,3569.1 L813.7,3566.6 L813.9,3564.1 L814.2,3561.6 L814.4,3559.1 L814.6,3556.6 L814.8,3554.1 L815.0,3551.6 L815.2,3549.1 L815.4,3546.6 L815.6,3544.1 L815.8,3541.6 L816.0,3539.0 L816.2,3536.5 L816.4,3534.0 L816.5,3531.5 L816.7,3529.0 L816.9,3526.5 L817.1,3524.0 L817.3,3521.5 L817.4,3519.0 L817.6,3516.5 L817.8,3513.9 L818.0,3511.4 L818.1,3508.9 L818.3,3506.4 L818.5,3503.9 L818.6,3501.4 L818.8,3498.9 L819.0,3496.4 L819.1,3493.9 L819.3,3491.3 L819.4,3488.8 L819.6,3486.3 L819.7,3483.8 L819.9,3481.3 L820.1,3478.8 L820.2,3476.3 L820.4,3473.8 L820.5,3471.3 L820.7,3468.7 L820.8,3466.2 L821.0,3463.7 L821.1,3461.2 L821.3,3458.7 L821.4,3456.2 L821.6,3453.7 L821.7,3451.2 L821.9,3448.7 L822.0,3446.2 L822.2,3443.7 L822.3,3441.2 L822.5,3438.7 L822.6,3436.2 L822.8,3433.7 L822.9,3431.2 L823.1,3428.7 L823.2,3426.2 L823.4,3423.7 L823.5,3421.3 L823.7,3418.8 L823.8,3416.3 L824.0,3413.8 L824.1,3411.3 L824.3,3408.8 L824.4,3406.4 L824.6,3403.9 L824.8,3401.4 L824.9,3398.9 L825.1,3396.4 L825.2,3394.0 L825.4,3391.5 L825.6,3389.0 L825.7,3386.6 L825.9,3384.1 L826.1,3381.6 L826.2,3379.1 L826.4,3376.7 L826.6,3374.2 L826.7,3371.7 L826.9,3369.2 L827.1,3366.8 L827.2,3364.3 L827.4,3361.8 L827.6,3359.3 L827.8,3356.9 L827.9,3354.4 L828.1,3351.9 L828.3,3349.4 L828.5,3346.9 L828.6,3344.5 L828.8,3342.0 L829.0,3339.5 L829.2,3337.0 L829.4,3334.5 L829.5,3332.0 L829.7,3329.5 L829.9,3327.0 L830.1,3324.5 L830.3,3322.0 L830.5,3319.5 L830.7,3317.0 L830.8,3314.4 L831.0,3311.9 L831.2,3309.4 L831.4,3306.9 L831.6,3304.3 L831.8,3301.8 L832.0,3299.2 L832.2,3296.7 L832.4,3294.1 L832.6,3291.6 L832.8,3289.0 L833.0,3286.5 L833.2,3283.9 L833.4,3281.3 L833.6,3278.7 L833.8,3276.1 L834.0,3273.5 L834.2,3270.9 L834.4,3268.3 L834.6,3265.7 L834.8,3263.1 L835.0,3260.5 L835.3,3257.9 L835.5,3255.3 L835.9,3252.8 L836.2,3250.3 L836.7,3247.8 L837.2,3245.3 L837.7,3242.9 L838.4,3240.6 L839.1,3238.3 L839.9,3236.1 L840.8,3234.0 L841.9,3232.0 L843.0,3230.6 L844.1,3229.9 L845.4,3230.2 L846.6,3231.4 L847.7,3233.3 L848.8,3235.5 L849.7,3237.8 L850.6,3240.2 L851.3,3242.6 L851.9,3245.1 L852.4,3247.6 L852.8,3250.2 L853.2,3252.8 L853.5,3255.4 L853.7,3258.1 L854.0,3260.8 L854.2,3263.4 L854.3,3266.1 L854.5,3268.7 L854.7,3271.3 L854.9,3273.9 L855.1,3276.5 L855.3,3279.1 L855.5,3281.7 L855.7,3284.2 L855.9,3286.7 L856.1,3289.3 L856.4,3291.8 L856.6,3294.3 L856.8,3296.8 L857.1,3299.2 L857.3,3301.7 L857.5,3304.2 L857.8,3306.6 L858.0,3309.1 L858.2,3311.6 L858.5,3314.0 L858.7,3316.5 L859.0,3318.9 L859.2,3321.4 L859.5,3323.8 L859.7,3326.3 L859.9,3328.7 L860.2,3331.2 L860.4,3333.7 L860.7,3336.1 L860.9,3338.6 L861.1,3341.1 L861.4,3343.5 L861.6,3346.0 L861.8,3348.5 L862.1,3351.0 L862.3,3353.4 L862.5,3355.9 L862.8,3358.4 L863.0,3360.9 L863.2,3363.4 L863.4,3365.9 L863.7,3368.4 L863.9,3370.8 L864.1,3373.3 L864.3,3375.8 L864.6,3378.3 L864.8,3380.8 L865.0,3383.3 L865.2,3385.8 L865.4,3388.3 L865.7,3390.8 L865.9,3393.3 L866.1,3395.8 L866.3,3398.3 L866.5,3400.8 L866.7,3403.3 L866.9,3405.8 L867.2,3408.3 L867.4,3410.8 L867.6,3413.3 L867.8,3415.8 L868.0,3418.3 L868.2,3420.9 L868.4,3423.4 L868.6,3425.9 L868.8,3428.4 L869.0,3430.9 L869.2,3433.4 L869.4,3435.9 L869.6,3438.4 L869.8,3440.9 L870.0,3443.4 L870.2,3445.9 L870.4,3448.4 L870.6,3450.9 L870.8,3453.4 L870.9,3456.0 L871.1,3458.5 L871.3,3461.0 L871.5,3463.5 L871.7,3466.0 L871.9,3468.5 L872.1,3471.0 L872.3,3473.5 L872.4,3476.0 L872.6,3478.5 L872.8,3481.0 L873.0,3483.5 L873.2,3486.0 L873.3,3488.5 L873.5,3491.0 L873.7,3493.5 L873.9,3496.0 L874.1,3498.5 L874.2,3501.0 L874.4,3503.5 L874.6,3506.0 L874.8,3508.5 L875.0,3511.0 L875.1,3513.5 L875.3,3516.0 L875.5,3518.5 L875.7,3521.0 L875.8,3523.5 L876.0,3526.0 L876.2,3528.5 L876.4,3531.0 L876.6,3533.5 L876.7,3536.0 L876.9,3538.5 L877.1,3541.0 L877.3,3543.5 L877.5,3546.0 L877.7,3548.5 L877.8,3550.9 L878.0,3553.4 L878.2,3555.9 L878.4,3558.4 L878.6,3560.9 L878.8,3563.4 L879.0,3565.9 L879.2,3568.4 L879.3,3570.9 L879.5,3573.4 L879.7,3575.9 L879.9,3578.4 L880.1,3580.9 L880.3,3583.4 L880.5,3585.9 L880.7,3588.4 L880.9,3590.9 L881.1,3593.4 L881.3,3595.8 L881.5,3598.3 L881.7,3600.8 L882.0,3603.3 L882.2,3605.8 L882.4,3608.3 L882.6,3610.8 L882.8,3613.3 L883.0,3615.8 L883.3,3618.3 L883.5,3620.8 L883.7,3623.3 L883.9,3625.8 L884.2,3628.3 L884.4,3630.8 L884.6,3633.2 L884.9,3635.7 L885.1,3638.2 L885.3,3640.7 L885.6,3643.2 L885.8,3645.7 L886.1,3648.2 L886.3,3650.7 L886.6,3653.2 L886.8,3655.7 L887.1,3658.2 L887.4,3660.7 L887.6,3663.2 L887.9,3665.7 L888.2,3668.2 L888.4,3670.6 L888.7,3673.1 L889.0,3675.6 L889.3,3678.1 L889.6,3680.6 L889.9,3683.1 L890.2,3685.6 L890.5,3688.1 L890.8,3690.6 L891.1,3693.1 L891.4,3695.6 L891.8,3698.0 L892.1,3700.5 L892.5,3703.0 L892.8,3705.5 L893.2,3707.9 L893.6,3710.4 L894.0,3712.9 L894.4,3715.4 L894.8,3717.8 L895.2,3720.3 L895.7,3722.7 L896.1,3725.2 L896.6,3727.6 L897.1,3730.1 L897.6,3732.5 L898.1,3735.0 L898.6,3737.4 L899.1,3739.8 L899.7,3742.3 L900.3,3744.7 L900.9,3747.1 L901.5,3749.6 L902.2,3752.0 L903.0,3754.5 L903.8,3757.0 L904.6,3759.6 L905.6,3762.1 L906.6,3764.7 L907.7,3767.2 L908.9,3769.4 L910.2,3771.0 L911.7,3771.9 L913.2,3771.9 L914.8,3770.9 L916.5,3769.3 L918.1,3767.1 L919.5,3764.8 L920.8,3762.4 L921.9,3760.0 L922.8,3757.5 L923.6,3755.0 L924.3,3752.6 L924.9,3750.1 L925.4,3747.6 L925.9,3745.1 L926.4,3742.6 L926.8,3740.1 L927.3,3737.6 L927.7,3735.1 L928.2,3732.6 L928.7,3730.2 L929.1,3727.7 L929.6,3725.2 L930.1,3722.8 L930.6,3720.3 L931.1,3717.9 L931.6,3715.4 L932.1,3713.0 L932.6,3710.5 L933.1,3708.1 L933.6,3705.6 L934.1,3703.2 L934.6,3700.7 L935.1,3698.3 L935.6,3695.8 L936.1,3693.4 L936.6,3691.0 L937.1,3688.5 L937.6,3686.1 L938.1,3683.6 L938.6,3681.2 L939.1,3678.8 L939.5,3676.3 L940.0,3673.9 L940.5,3671.4 L941.0,3669.0 L941.4,3666.5 L941.9,3664.1 L942.4,3661.6 L942.8,3659.1 L943.2,3656.7 L943.7,3654.2 L944.1,3651.7 L944.5,3649.3 L945.0,3646.8 L945.4,3644.3 L945.8,3641.8 L946.2,3639.4 L946.6,3636.9 L947.0,3634.4 L947.5,3631.9 L947.9,3629.4 L948.3,3627.0 L948.7,3624.5 L949.1,3622.0 L949.5,3619.5 L949.9,3617.0 L950.3,3614.5 L950.7,3612.1 L951.1,3609.6 L951.5,3607.1 L951.9,3604.6 L952.3,3602.1 L952.8,3599.6 L953.2,3597.2 L953.6,3594.7 L954.0,3592.2 L954.5,3589.7 L954.9,3587.3 L955.3,3584.8 L955.8,3582.3 L956.2,3579.9 L956.7,3577.4 L957.2,3574.9 L957.6,3572.5 L958.1,3570.0 L958.6,3567.5 L959.1,3565.1 L959.6,3562.6 L960.1,3560.2 L960.6,3557.8 L961.2,3555.3 L961.7,3552.9 L962.2,3550.5 L962.8,3548.0 L963.4,3545.6 L964.0,3543.2 L964.5,3540.8 L965.2,3538.4 L965.8,3536.0 L966.4,3533.6 L967.0,3531.2 L967.7,3528.8 L968.4,3526.4 L969.0,3524.0 L969.7,3521.6 L970.5,3519.3 L971.2,3516.9 L972.0,3514.5 L972.7,3512.1 L973.5,3509.7 L974.4,3507.3 L975.2,3504.9 L976.1,3502.5 L977.0,3500.1 L978.0,3497.7 L978.9,3495.3 L980.0,3492.9 L981.1,3490.5 L982.2,3488.2 L983.4,3486.0 L984.7,3483.8 L986.1,3481.7 L987.6,3479.7 L989.2,3477.7 L990.8,3475.9 L992.6,3474.2 L994.5,3472.7 L996.5,3471.4 L998.6,3470.6 L1000.9,3470.5 L1003.2,3471.0 L1005.6,3472.1 L1007.8,3473.4 L1009.9,3475.0 L1011.8,3476.7 L1013.5,3478.4 L1015.1,3480.3 L1016.6,3482.3 L1017.9,3484.4 L1019.1,3486.5 L1020.3,3488.7 L1021.3,3491.0 L1022.3,3493.3 L1023.2,3495.6 L1024.1,3498.0 L1025.0,3500.4 L1025.8,3502.8 L1026.6,3505.2 L1027.4,3507.5 L1028.2,3509.9 L1029.0,3512.3 L1029.8,3514.7 L1030.6,3517.1 L1031.4,3519.5 L1032.2,3521.9 L1032.9,3524.3 L1033.7,3526.7 L1034.4,3529.1 L1035.2,3531.5 L1035.9,3534.0 L1036.6,3536.4 L1037.4,3538.8 L1038.1,3541.2 L1038.8,3543.6 L1039.5,3546.0 L1040.2,3548.4 L1040.9,3550.8 L1041.6,3553.2 L1042.3,3555.7 L1043.0,3558.1 L1043.7,3560.5 L1044.3,3562.9 L1045.0,3565.3 L1045.7,3567.7 L1046.3,3570.2 L1047.0,3572.6 L1047.7,3575.0 L1048.3,3577.4 L1049.0,3579.9 L1049.6,3582.3 L1050.3,3584.7 L1050.9,3587.1 L1051.5,3589.5 L1052.2,3592.0 L1052.8,3594.4 L1053.4,3596.8 L1054.1,3599.2 L1054.7,3601.7 L1055.3,3604.1 L1056.0,3606.5 L1056.6,3608.9 L1057.2,3611.4 L1057.9,3613.8 L1058.5,3616.2 L1059.1,3618.6 L1059.7,3621.1 L1060.4,3623.5 L1061.0,3625.9 L1061.6,3628.3 L1062.2,3630.8 L1062.9,3633.2 L1063.5,3635.6 L1064.1,3638.0 L1064.8,3640.5 L1065.4,3642.9 L1066.0,3645.3 L1066.6,3647.7 L1067.3,3650.1 L1067.9,3652.6 L1068.5,3655.0 L1069.2,3657.4 L1069.8,3659.8 L1070.4,3662.2 L1071.1,3664.7 L1071.7,3667.1 L1072.4,3669.5 L1073.0,3671.9 L1073.6,3674.3 L1074.3,3676.8 L1074.9,3679.2 L1075.6,3681.6 L1076.2,3684.0 L1076.9,3686.4 L1077.6,3688.8 L1078.2,3691.2 L1078.9,3693.6 L1079.5,3696.1 L1080.2,3698.5 L1080.9,3700.9 L1081.6,3703.3 L1082.2,3705.7 L1082.9,3708.1 L1083.6,3710.5 L1084.3,3712.9 L1085.0,3715.3 L1085.7,3717.7 L1086.4,3720.1 L1087.1,3722.5 L1087.8,3724.9 L1088.5,3727.3 L1089.2,3729.7 L1089.9,3732.1 L1090.6,3734.5 L1091.3,3736.9 L1092.1,3739.3 L1092.8,3741.7 L1093.5,3744.0 L1094.3,3746.4 L1095.0,3748.8 L1095.8,3751.2 L1096.5,3753.6 L1097.3,3756.0 L1098.1,3758.4 L1098.8,3760.7 L1099.6,3763.1 L1100.4,3765.5 L1101.2,3767.9 L1102.0,3770.2 L1102.8,3772.6 L1103.6,3775.0 L1104.4,3777.3 L1105.2,3779.7 L1106.0,3782.1 L1106.9,3784.4 L1107.7,3786.8 L1108.6,3789.2 L1109.4,3791.5 L1110.3,3793.9 L1111.1,3796.2 L1112.0,3798.6 L1112.9,3800.9 L1113.7,3803.3 L1114.6,3805.6 L1115.5,3808.0 L1116.4,3810.3 L1117.3,3812.6 L1118.3,3815.0 L1119.2,3817.3 L1120.1,3819.7 L1121.1,3822.0 L1122.0,3824.3 L1123.0,3826.6 L1123.9,3829.0 L1124.9,3831.3 L1125.9,3833.6 L1126.9,3835.9 L1127.9,3838.3 L1128.9,3840.6 L1129.9,3842.9 L1130.9,3845.2 L1132.0,3847.5 L1133.0,3849.8 L1134.1,3852.1 L1135.1,3854.4 L1136.2,3856.6 L1137.3,3858.9 L1138.4,3861.2 L1139.5,3863.5 L1140.6,3865.7 L1141.8,3868.0 L1142.9,3870.2 L1144.1,3872.4 L1145.2,3874.7 L1146.4,3876.9 L1147.6,3879.1 L1148.8,3881.3 L1150.1,3883.5 L1151.3,3885.7 L1152.6,3887.8 L1153.8,3890.0 L1155.1,3892.2 L1156.4,3894.3 L1157.7,3896.4 L1159.1,3898.5 L1160.4,3900.6 L1161.8,3902.7 L1163.2,3904.8 L1164.6,3906.9 L1166.0,3908.9 L1167.4,3910.9 L1168.9,3913.0 L1170.3,3915.0 L1171.8,3917.0 L1173.3,3918.9 L1174.8,3920.9 L1176.4,3922.8 L1178.0,3924.8 L1179.5,3926.7 L1181.1,3928.6 L1182.8,3930.4 L1184.4,3932.3 L1186.1,3934.1 L1187.7,3935.9 L1189.5,3937.7 L1191.2,3939.5 L1192.9,3941.3 L1194.7,3943.0 L1196.5,3944.8 L1198.3,3946.5 L1200.1,3948.1 L1202.0,3949.8 L1203.9,3951.4 L1205.8,3953.0 L1207.7,3954.6 L1209.7,3956.2 L1211.7,3957.8 L1213.7,3959.3 L1215.7,3960.8 L1217.8,3962.3 L1219.8,3963.7 L1222.0,3965.1 L1224.1,3966.5 L1226.3,3967.9 L1228.4,3969.3" fill="none" stroke="#00f" stroke-width="4.8" stroke-linejoin="round" stroke-linecap="round"/>
<line x1="199.5" y1="3133.3" x2="199.5" y2="4102.0" stroke="#000" stroke-width="5.0" stroke-linecap="butt"/>
<line x1="179.0" y1="4099.5" x2="1635.0" y2="4099.5" stroke="#000" stroke-width="5.0" stroke-linecap="butt"/>
<line x1="1635.0" y1="3133.3" x2="1635.0" y2="4102.0" stroke="#f00" stroke-width="5.0" stroke-linecap="butt"/>
<line x1="179.0" y1="4099.5" x2="199.5" y2="4099.5" stroke="#000" stroke-width="5.0" stroke-linecap="butt"/>
<text transform="translate(164.8,4113.0) scale(1,1.040)" text-anchor="end" style="font-family:'Liberation Sans',Arial,sans-serif;font-size:43.5px;fill:#000">0.0</text>
<line x1="179.0" y1="3924.3" x2="199.5" y2="3924.3" stroke="#000" stroke-width="5.0" stroke-linecap="butt"/>
<text transform="translate(164.8,3937.8) scale(1,1.040)" text-anchor="end" style="font-family:'Liberation Sans',Arial,sans-serif;font-size:43.5px;fill:#000">0.2</text>
<line x1="179.0" y1="3749.1" x2="199.5" y2="3749.1" stroke="#000" stroke-width="5.0" stroke-linecap="butt"/>
<text transform="translate(164.8,3762.6) scale(1,1.040)" text-anchor="end" style="font-family:'Liberation Sans',Arial,sans-serif;font-size:43.5px;fill:#000">0.4</text>
<line x1="179.0" y1="3574.0" x2="199.5" y2="3574.0" stroke="#000" stroke-width="5.0" stroke-linecap="butt"/>
<text transform="translate(164.8,3587.5) scale(1,1.040)" text-anchor="end" style="font-family:'Liberation Sans',Arial,sans-serif;font-size:43.5px;fill:#000">0.6</text>
<line x1="179.0" y1="3398.8" x2="199.5" y2="3398.8" stroke="#000" stroke-width="5.0" stroke-linecap="butt"/>
<text transform="translate(164.8,3412.3) scale(1,1.040)" text-anchor="end" style="font-family:'Liberation Sans',Arial,sans-serif;font-size:43.5px;fill:#000">0.8</text>
<line x1="179.0" y1="3223.6" x2="199.5" y2="3223.6" stroke="#000" stroke-width="5.0" stroke-linecap="butt"/>
<text transform="translate(164.8,3237.1) scale(1,1.040)" text-anchor="end" style="font-family:'Liberation Sans',Arial,sans-serif;font-size:43.5px;fill:#000">1.0</text>
<line x1="189.2" y1="4011.9" x2="199.5" y2="4011.9" stroke="#000" stroke-width="5.0" stroke-linecap="butt"/>
<line x1="189.2" y1="3836.7" x2="199.5" y2="3836.7" stroke="#000" stroke-width="5.0" stroke-linecap="butt"/>
<line x1="189.2" y1="3661.6" x2="199.5" y2="3661.6" stroke="#000" stroke-width="5.0" stroke-linecap="butt"/>
<line x1="189.2" y1="3486.4" x2="199.5" y2="3486.4" stroke="#000" stroke-width="5.0" stroke-linecap="butt"/>
<line x1="189.2" y1="3311.2" x2="199.5" y2="3311.2" stroke="#000" stroke-width="5.0" stroke-linecap="butt"/>
<line x1="189.2" y1="3136.0" x2="199.5" y2="3136.0" stroke="#000" stroke-width="5.0" stroke-linecap="butt"/>
<line x1="294.9" y1="4099.5" x2="294.9" y2="4120.0" stroke="#000" stroke-width="5.0" stroke-linecap="butt"/>
<text transform="translate(294.9,4168.7) scale(1,1.040)" text-anchor="middle" style="font-family:'Liberation Sans',Arial,sans-serif;font-size:43.5px;fill:#000">200</text>
<line x1="486.3" y1="4099.5" x2="486.3" y2="4120.0" stroke="#000" stroke-width="5.0" stroke-linecap="butt"/>
<text transform="translate(486.3,4168.7) scale(1,1.040)" text-anchor="middle" style="font-family:'Liberation Sans',Arial,sans-serif;font-size:43.5px;fill:#000">300</text>
<line x1="677.8" y1="4099.5" x2="677.8" y2="4120.0" stroke="#000" stroke-width="5.0" stroke-linecap="butt"/>
<text transform="translate(677.8,4168.7) scale(1,1.040)" text-anchor="middle" style="font-family:'Liberation Sans',Arial,sans-serif;font-size:43.5px;fill:#000">400</text>
<line x1="869.2" y1="4099.5" x2="869.2" y2="4120.0" stroke="#000" stroke-width="5.0" stroke-linecap="butt"/>
<text transform="translate(869.2,4168.7) scale(1,1.040)" text-anchor="middle" style="font-family:'Liberation Sans',Arial,sans-serif;font-size:43.5px;fill:#000">500</text>
<line x1="1060.6" y1="4099.5" x2="1060.6" y2="4120.0" stroke="#000" stroke-width="5.0" stroke-linecap="butt"/>
<text transform="translate(1060.6,4168.7) scale(1,1.040)" text-anchor="middle" style="font-family:'Liberation Sans',Arial,sans-serif;font-size:43.5px;fill:#000">600</text>
<line x1="1252.1" y1="4099.5" x2="1252.1" y2="4120.0" stroke="#000" stroke-width="5.0" stroke-linecap="butt"/>
<text transform="translate(1252.1,4168.7) scale(1,1.040)" text-anchor="middle" style="font-family:'Liberation Sans',Arial,sans-serif;font-size:43.5px;fill:#000">700</text>
<line x1="1443.5" y1="4099.5" x2="1443.5" y2="4120.0" stroke="#000" stroke-width="5.0" stroke-linecap="butt"/>
<text transform="translate(1443.5,4168.7) scale(1,1.040)" text-anchor="middle" style="font-family:'Liberation Sans',Arial,sans-serif;font-size:43.5px;fill:#000">800</text>
<line x1="1635.0" y1="4099.5" x2="1635.0" y2="4120.0" stroke="#000" stroke-width="5.0" stroke-linecap="butt"/>
<text transform="translate(1635.0,4168.7) scale(1,1.040)" text-anchor="middle" style="font-family:'Liberation Sans',Arial,sans-serif;font-size:43.5px;fill:#000">900</text>
<line x1="199.2" y1="4099.5" x2="199.2" y2="4109.8" stroke="#000" stroke-width="5.0" stroke-linecap="butt"/>
<line x1="390.6" y1="4099.5" x2="390.6" y2="4109.8" stroke="#000" stroke-width="5.0" stroke-linecap="butt"/>
<line x1="582.0" y1="4099.5" x2="582.0" y2="4109.8" stroke="#000" stroke-width="5.0" stroke-linecap="butt"/>
<line x1="773.5" y1="4099.5" x2="773.5" y2="4109.8" stroke="#000" stroke-width="5.0" stroke-linecap="butt"/>
<line x1="964.9" y1="4099.5" x2="964.9" y2="4109.8" stroke="#000" stroke-width="5.0" stroke-linecap="butt"/>
<line x1="1156.4" y1="4099.5" x2="1156.4" y2="4109.8" stroke="#000" stroke-width="5.0" stroke-linecap="butt"/>
<line x1="1347.8" y1="4099.5" x2="1347.8" y2="4109.8" stroke="#000" stroke-width="5.0" stroke-linecap="butt"/>
<line x1="1539.2" y1="4099.5" x2="1539.2" y2="4109.8" stroke="#000" stroke-width="5.0" stroke-linecap="butt"/>
<line x1="1635.0" y1="4099.5" x2="1655.5" y2="4099.5" stroke="#f00" stroke-width="5.0" stroke-linecap="butt"/>
<text transform="translate(1669.0,4113.0) scale(1,1.040)" text-anchor="start" style="font-family:'Liberation Sans',Arial,sans-serif;font-size:43.5px;fill:#f00">0</text>
<line x1="1635.0" y1="3998.0" x2="1655.5" y2="3998.0" stroke="#f00" stroke-width="5.0" stroke-linecap="butt"/>
<text transform="translate(1669.0,4011.5) scale(1,1.040)" text-anchor="start" style="font-family:'Liberation Sans',Arial,sans-serif;font-size:43.5px;fill:#f00">200</text>
<line x1="1635.0" y1="3896.5" x2="1655.5" y2="3896.5" stroke="#f00" stroke-width="5.0" stroke-linecap="butt"/>
<text transform="translate(1669.0,3910.0) scale(1,1.040)" text-anchor="start" style="font-family:'Liberation Sans',Arial,sans-serif;font-size:43.5px;fill:#f00">400</text>
<line x1="1635.0" y1="3795.0" x2="1655.5" y2="3795.0" stroke="#f00" stroke-width="5.0" stroke-linecap="butt"/>
<text transform="translate(1669.0,3808.5) scale(1,1.040)" text-anchor="start" style="font-family:'Liberation Sans',Arial,sans-serif;font-size:43.5px;fill:#f00">600</text>
<line x1="1635.0" y1="3693.5" x2="1655.5" y2="3693.5" stroke="#f00" stroke-width="5.0" stroke-linecap="butt"/>
<text transform="translate(1669.0,3707.0) scale(1,1.040)" text-anchor="start" style="font-family:'Liberation Sans',Arial,sans-serif;font-size:43.5px;fill:#f00">800</text>
<line x1="1635.0" y1="3592.0" x2="1655.5" y2="3592.0" stroke="#f00" stroke-width="5.0" stroke-linecap="butt"/>
<text transform="translate(1669.0,3605.5) scale(1,1.040)" text-anchor="start" style="font-family:'Liberation Sans',Arial,sans-serif;font-size:43.5px;fill:#f00">1000</text>
<line x1="1635.0" y1="3490.5" x2="1655.5" y2="3490.5" stroke="#f00" stroke-width="5.0" stroke-linecap="butt"/>
<text transform="translate(1669.0,3504.0) scale(1,1.040)" text-anchor="start" style="font-family:'Liberation Sans',Arial,sans-serif;font-size:43.5px;fill:#f00">1200</text>
<line x1="1635.0" y1="3389.0" x2="1655.5" y2="3389.0" stroke="#f00" stroke-width="5.0" stroke-linecap="butt"/>
<text transform="translate(1669.0,3402.5) scale(1,1.040)" text-anchor="start" style="font-family:'Liberation Sans',Arial,sans-serif;font-size:43.5px;fill:#f00">1400</text>
<line x1="1635.0" y1="3287.5" x2="1655.5" y2="3287.5" stroke="#f00" stroke-width="5.0" stroke-linecap="butt"/>
<text transform="translate(1669.0,3301.0) scale(1,1.040)" text-anchor="start" style="font-family:'Liberation Sans',Arial,sans-serif;font-size:43.5px;fill:#f00">1600</text>
<line x1="1635.0" y1="3185.9" x2="1655.5" y2="3185.9" stroke="#f00" stroke-width="5.0" stroke-linecap="butt"/>
<text transform="translate(1669.0,3199.4) scale(1,1.040)" text-anchor="start" style="font-family:'Liberation Sans',Arial,sans-serif;font-size:43.5px;fill:#f00">1800</text>
<line x1="1635.0" y1="4048.7" x2="1645.3" y2="4048.7" stroke="#f00" stroke-width="5.0" stroke-linecap="butt"/>
<line x1="1635.0" y1="3947.2" x2="1645.3" y2="3947.2" stroke="#f00" stroke-width="5.0" stroke-linecap="butt"/>
<line x1="1635.0" y1="3845.7" x2="1645.3" y2="3845.7" stroke="#f00" stroke-width="5.0" stroke-linecap="butt"/>
<line x1="1635.0" y1="3744.2" x2="1645.3" y2="3744.2" stroke="#f00" stroke-width="5.0" stroke-linecap="butt"/>
<line x1="1635.0" y1="3642.7" x2="1645.3" y2="3642.7" stroke="#f00" stroke-width="5.0" stroke-linecap="butt"/>
<line x1="1635.0" y1="3541.2" x2="1645.3" y2="3541.2" stroke="#f00" stroke-width="5.0" stroke-linecap="butt"/>
<line x1="1635.0" y1="3439.7" x2="1645.3" y2="3439.7" stroke="#f00" stroke-width="5.0" stroke-linecap="butt"/>
<line x1="1635.0" y1="3338.2" x2="1645.3" y2="3338.2" stroke="#f00" stroke-width="5.0" stroke-linecap="butt"/>
<line x1="1635.0" y1="3236.7" x2="1645.3" y2="3236.7" stroke="#f00" stroke-width="5.0" stroke-linecap="butt"/>
<line x1="1635.0" y1="3135.2" x2="1645.3" y2="3135.2" stroke="#f00" stroke-width="5.0" stroke-linecap="butt"/>
<text x="917.8" y="4252.0" text-anchor="middle" style="font-family:'Liberation Sans',Arial,sans-serif;font-size:54.0px;fill:#000">Wavelenght (nm)</text>
<text transform="translate(80.9,3617.4) rotate(-90)" text-anchor="middle" style="font-family:'Liberation Sans',Arial,sans-serif;font-size:54.0px;fill:#000">Normalized absorbance (a.u.)</text>
<text transform="translate(1827.9,3616.8) rotate(-90)" text-anchor="middle" style="font-family:'Liberation Sans',Arial,sans-serif;font-size:54.0px;fill:#f00">Luminescence</text>
<line x1="376.0" y1="2962.4" x2="502.0" y2="2962.4" stroke="#000" stroke-width="5.0" stroke-linecap="butt"/>
<text x="514.8" y="2980.9" text-anchor="start" style="font-family:'Liberation Sans',Arial,sans-serif;font-size:54.0px;fill:#000">Normalized absorbance (a.u.)</text>
<line x1="376.0" y1="3028.5" x2="502.0" y2="3028.5" stroke="#f00" stroke-width="5.0" stroke-linecap="butt"/>
<text x="514.8" y="3046.9" text-anchor="start" style="font-family:'Liberation Sans',Arial,sans-serif;font-size:54.0px;fill:#000">Luminescence</text>
<line x1="376.0" y1="3095.5" x2="502.0" y2="3095.5" stroke="#00f" stroke-width="5.0" stroke-linecap="butt"/>
<text x="514.8" y="3113.0" text-anchor="start" style="font-family:'Liberation Sans',Arial,sans-serif;font-size:54.0px;fill:#000">Theoretical absorbance (a.u.)</text>
<text transform="translate(1414.3,3173.8) scale(1,1.030)" text-anchor="start" style="font-family:'Liberation Sans',Arial,sans-serif;font-size:53.0px;font-weight:bold;fill:#000">2c</text></svg>
</body></html>
